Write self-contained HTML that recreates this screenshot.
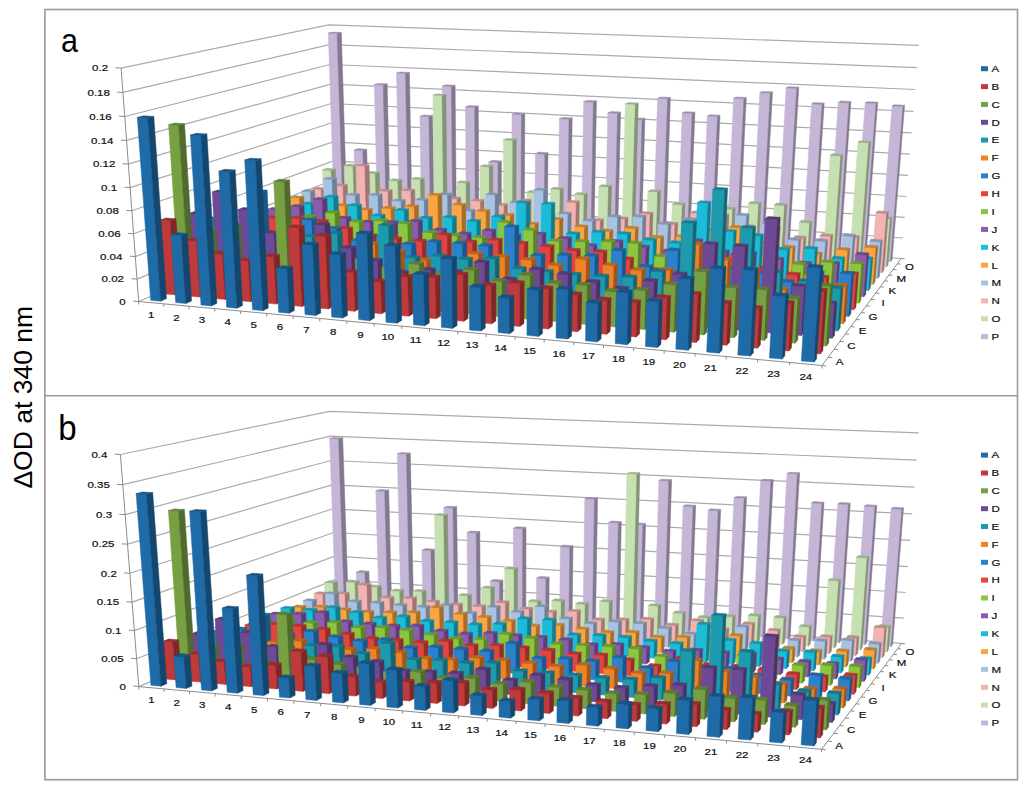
<!DOCTYPE html>
<html><head><meta charset="utf-8"><style>
html,body{margin:0;padding:0;background:#fff;}
svg{display:block;}
polygon{stroke-width:0.5;stroke-linejoin:round;}
text{font-family:"Liberation Sans",sans-serif;fill:#1a1a1a;}
.tl,.xl,.zl,.lg{font-size:9px;fill:#111;stroke:#111;stroke-width:0.2px;}
.pl{font-size:36px;fill:#000;}
.yt{font-size:25.6px;fill:#000;}
</style></head><body>
<svg width="1024" height="787" viewBox="0 0 1024 787">
<rect x="0" y="0" width="1024" height="787" fill="#fff"/>
<polyline points="138.7,301.5 335.3,217.1 901.2,258.5" fill="none" stroke="#ababab" stroke-width="1.2"/>
<polyline points="137.0,279.1 334.7,198.5 902.9,238.0" fill="none" stroke="#ababab" stroke-width="1.2"/>
<polyline points="135.3,256.6 334.1,179.8 904.6,217.3" fill="none" stroke="#ababab" stroke-width="1.2"/>
<polyline points="133.6,233.8 333.4,160.9 906.3,196.5" fill="none" stroke="#ababab" stroke-width="1.2"/>
<polyline points="131.8,210.8 332.8,141.9 908.1,175.4" fill="none" stroke="#ababab" stroke-width="1.2"/>
<polyline points="130.1,187.6 332.1,122.8 909.8,154.2" fill="none" stroke="#ababab" stroke-width="1.2"/>
<polyline points="128.3,164.1 331.5,103.5 911.6,132.9" fill="none" stroke="#ababab" stroke-width="1.2"/>
<polyline points="126.5,140.4 330.8,84.1 913.4,111.3" fill="none" stroke="#ababab" stroke-width="1.2"/>
<polyline points="124.7,116.5 330.1,64.5 915.2,89.5" fill="none" stroke="#ababab" stroke-width="1.2"/>
<polyline points="122.9,92.4 329.5,44.7 917.0,67.6" fill="none" stroke="#ababab" stroke-width="1.2"/>
<polyline points="121.1,68.1 328.8,24.8 918.8,45.4" fill="none" stroke="#ababab" stroke-width="1.2"/>
<line x1="138.7" y1="301.5" x2="121.1" y2="68.1" stroke="#8c8c8c" stroke-width="1"/>
<line x1="138.7" y1="301.5" x2="133.2" y2="301.0" stroke="#8c8c8c" stroke-width="1"/>
<text transform="translate(125.7,304.8) scale(1.28,1)" text-anchor="end" class="tl">0</text>
<line x1="137.0" y1="279.1" x2="131.5" y2="278.6" stroke="#8c8c8c" stroke-width="1"/>
<text transform="translate(124.0,282.4) scale(1.28,1)" text-anchor="end" class="tl">0.02</text>
<line x1="135.3" y1="256.6" x2="129.8" y2="256.1" stroke="#8c8c8c" stroke-width="1"/>
<text transform="translate(122.3,259.9) scale(1.28,1)" text-anchor="end" class="tl">0.04</text>
<line x1="133.6" y1="233.8" x2="128.0" y2="233.3" stroke="#8c8c8c" stroke-width="1"/>
<text transform="translate(120.6,237.1) scale(1.28,1)" text-anchor="end" class="tl">0.06</text>
<line x1="131.8" y1="210.8" x2="126.3" y2="210.4" stroke="#8c8c8c" stroke-width="1"/>
<text transform="translate(118.8,214.1) scale(1.28,1)" text-anchor="end" class="tl">0.08</text>
<line x1="130.1" y1="187.6" x2="124.5" y2="187.2" stroke="#8c8c8c" stroke-width="1"/>
<text transform="translate(117.1,190.9) scale(1.28,1)" text-anchor="end" class="tl">0.1</text>
<line x1="128.3" y1="164.1" x2="122.7" y2="163.7" stroke="#8c8c8c" stroke-width="1"/>
<text transform="translate(115.3,167.4) scale(1.28,1)" text-anchor="end" class="tl">0.12</text>
<line x1="126.5" y1="140.4" x2="120.9" y2="140.1" stroke="#8c8c8c" stroke-width="1"/>
<text transform="translate(113.5,143.7) scale(1.28,1)" text-anchor="end" class="tl">0.14</text>
<line x1="124.7" y1="116.5" x2="119.1" y2="116.2" stroke="#8c8c8c" stroke-width="1"/>
<text transform="translate(111.7,119.8) scale(1.28,1)" text-anchor="end" class="tl">0.16</text>
<line x1="122.9" y1="92.4" x2="117.2" y2="92.1" stroke="#8c8c8c" stroke-width="1"/>
<text transform="translate(109.9,95.7) scale(1.28,1)" text-anchor="end" class="tl">0.18</text>
<line x1="121.1" y1="68.1" x2="115.3" y2="67.8" stroke="#8c8c8c" stroke-width="1"/>
<text transform="translate(108.1,71.4) scale(1.28,1)" text-anchor="end" class="tl">0.2</text>
<line x1="138.7" y1="301.5" x2="822.0" y2="365.5" stroke="#8c8c8c" stroke-width="1"/>
<line x1="138.7" y1="301.5" x2="138.7" y2="304.5" stroke="#8c8c8c" stroke-width="1"/>
<line x1="163.8" y1="303.8" x2="163.8" y2="306.8" stroke="#8c8c8c" stroke-width="1"/>
<line x1="189.1" y1="306.2" x2="189.1" y2="309.2" stroke="#8c8c8c" stroke-width="1"/>
<line x1="214.7" y1="308.6" x2="214.7" y2="311.6" stroke="#8c8c8c" stroke-width="1"/>
<line x1="240.6" y1="311.0" x2="240.6" y2="314.0" stroke="#8c8c8c" stroke-width="1"/>
<line x1="266.7" y1="313.5" x2="266.7" y2="316.5" stroke="#8c8c8c" stroke-width="1"/>
<line x1="293.1" y1="316.0" x2="293.1" y2="319.0" stroke="#8c8c8c" stroke-width="1"/>
<line x1="319.8" y1="318.5" x2="319.8" y2="321.5" stroke="#8c8c8c" stroke-width="1"/>
<line x1="346.8" y1="321.0" x2="346.8" y2="324.0" stroke="#8c8c8c" stroke-width="1"/>
<line x1="374.1" y1="323.5" x2="374.1" y2="326.5" stroke="#8c8c8c" stroke-width="1"/>
<line x1="401.7" y1="326.1" x2="401.7" y2="329.1" stroke="#8c8c8c" stroke-width="1"/>
<line x1="429.5" y1="328.7" x2="429.5" y2="331.7" stroke="#8c8c8c" stroke-width="1"/>
<line x1="457.7" y1="331.4" x2="457.7" y2="334.4" stroke="#8c8c8c" stroke-width="1"/>
<line x1="486.2" y1="334.0" x2="486.2" y2="337.0" stroke="#8c8c8c" stroke-width="1"/>
<line x1="515.1" y1="336.7" x2="515.1" y2="339.7" stroke="#8c8c8c" stroke-width="1"/>
<line x1="544.2" y1="339.5" x2="544.2" y2="342.5" stroke="#8c8c8c" stroke-width="1"/>
<line x1="573.7" y1="342.2" x2="573.7" y2="345.2" stroke="#8c8c8c" stroke-width="1"/>
<line x1="603.5" y1="345.0" x2="603.5" y2="348.0" stroke="#8c8c8c" stroke-width="1"/>
<line x1="633.6" y1="347.9" x2="633.6" y2="350.9" stroke="#8c8c8c" stroke-width="1"/>
<line x1="664.1" y1="350.7" x2="664.1" y2="353.7" stroke="#8c8c8c" stroke-width="1"/>
<line x1="695.0" y1="353.6" x2="695.0" y2="356.6" stroke="#8c8c8c" stroke-width="1"/>
<line x1="726.2" y1="356.5" x2="726.2" y2="359.5" stroke="#8c8c8c" stroke-width="1"/>
<line x1="757.7" y1="359.5" x2="757.7" y2="362.5" stroke="#8c8c8c" stroke-width="1"/>
<line x1="789.7" y1="362.5" x2="789.7" y2="365.5" stroke="#8c8c8c" stroke-width="1"/>
<line x1="822.0" y1="365.5" x2="822.0" y2="368.5" stroke="#8c8c8c" stroke-width="1"/>
<text transform="translate(151.2,318.3) scale(1.28,1)" text-anchor="middle" class="xl">1</text>
<text transform="translate(176.4,320.6) scale(1.28,1)" text-anchor="middle" class="xl">2</text>
<text transform="translate(201.9,323.0) scale(1.28,1)" text-anchor="middle" class="xl">3</text>
<text transform="translate(227.6,325.4) scale(1.28,1)" text-anchor="middle" class="xl">4</text>
<text transform="translate(253.6,327.9) scale(1.28,1)" text-anchor="middle" class="xl">5</text>
<text transform="translate(279.9,330.3) scale(1.28,1)" text-anchor="middle" class="xl">6</text>
<text transform="translate(306.4,332.8) scale(1.28,1)" text-anchor="middle" class="xl">7</text>
<text transform="translate(333.3,335.3) scale(1.28,1)" text-anchor="middle" class="xl">8</text>
<text transform="translate(360.4,337.9) scale(1.28,1)" text-anchor="middle" class="xl">9</text>
<text transform="translate(387.8,340.4) scale(1.28,1)" text-anchor="middle" class="xl">10</text>
<text transform="translate(415.6,343.0) scale(1.28,1)" text-anchor="middle" class="xl">11</text>
<text transform="translate(443.6,345.7) scale(1.28,1)" text-anchor="middle" class="xl">12</text>
<text transform="translate(472.0,348.3) scale(1.28,1)" text-anchor="middle" class="xl">13</text>
<text transform="translate(500.6,351.0) scale(1.28,1)" text-anchor="middle" class="xl">14</text>
<text transform="translate(529.6,353.7) scale(1.28,1)" text-anchor="middle" class="xl">15</text>
<text transform="translate(558.9,356.5) scale(1.28,1)" text-anchor="middle" class="xl">16</text>
<text transform="translate(588.5,359.2) scale(1.28,1)" text-anchor="middle" class="xl">17</text>
<text transform="translate(618.5,362.0) scale(1.28,1)" text-anchor="middle" class="xl">18</text>
<text transform="translate(648.8,364.9) scale(1.28,1)" text-anchor="middle" class="xl">19</text>
<text transform="translate(679.5,367.7) scale(1.28,1)" text-anchor="middle" class="xl">20</text>
<text transform="translate(710.5,370.7) scale(1.28,1)" text-anchor="middle" class="xl">21</text>
<text transform="translate(741.9,373.6) scale(1.28,1)" text-anchor="middle" class="xl">22</text>
<text transform="translate(773.6,376.6) scale(1.28,1)" text-anchor="middle" class="xl">23</text>
<text transform="translate(805.8,379.6) scale(1.28,1)" text-anchor="middle" class="xl">24</text>
<line x1="822.0" y1="365.5" x2="901.2" y2="258.5" stroke="#8c8c8c" stroke-width="1"/>
<line x1="822.0" y1="365.5" x2="826.2" y2="365.9" stroke="#8c8c8c" stroke-width="1"/>
<line x1="828.1" y1="357.2" x2="832.3" y2="357.6" stroke="#8c8c8c" stroke-width="1"/>
<line x1="834.0" y1="349.2" x2="838.1" y2="349.6" stroke="#8c8c8c" stroke-width="1"/>
<line x1="839.8" y1="341.4" x2="843.8" y2="341.8" stroke="#8c8c8c" stroke-width="1"/>
<line x1="845.4" y1="333.9" x2="849.3" y2="334.2" stroke="#8c8c8c" stroke-width="1"/>
<line x1="850.8" y1="326.6" x2="854.7" y2="326.9" stroke="#8c8c8c" stroke-width="1"/>
<line x1="856.0" y1="319.5" x2="859.9" y2="319.8" stroke="#8c8c8c" stroke-width="1"/>
<line x1="861.1" y1="312.6" x2="864.9" y2="312.9" stroke="#8c8c8c" stroke-width="1"/>
<line x1="866.1" y1="305.9" x2="869.9" y2="306.2" stroke="#8c8c8c" stroke-width="1"/>
<line x1="870.9" y1="299.4" x2="874.6" y2="299.7" stroke="#8c8c8c" stroke-width="1"/>
<line x1="875.6" y1="293.0" x2="879.3" y2="293.3" stroke="#8c8c8c" stroke-width="1"/>
<line x1="880.1" y1="286.9" x2="883.8" y2="287.2" stroke="#8c8c8c" stroke-width="1"/>
<line x1="884.6" y1="280.9" x2="888.2" y2="281.2" stroke="#8c8c8c" stroke-width="1"/>
<line x1="888.9" y1="275.1" x2="892.4" y2="275.3" stroke="#8c8c8c" stroke-width="1"/>
<line x1="893.1" y1="269.4" x2="896.6" y2="269.6" stroke="#8c8c8c" stroke-width="1"/>
<line x1="897.2" y1="263.9" x2="900.6" y2="264.1" stroke="#8c8c8c" stroke-width="1"/>
<line x1="901.2" y1="258.5" x2="904.6" y2="258.7" stroke="#8c8c8c" stroke-width="1"/>
<text transform="translate(839.6,364.9) scale(1.28,1)" text-anchor="middle" class="zl">A</text>
<text transform="translate(851.4,348.9) scale(1.28,1)" text-anchor="middle" class="zl">C</text>
<text transform="translate(862.6,333.8) scale(1.28,1)" text-anchor="middle" class="zl">E</text>
<text transform="translate(873.1,319.6) scale(1.28,1)" text-anchor="middle" class="zl">G</text>
<text transform="translate(883.0,306.2) scale(1.28,1)" text-anchor="middle" class="zl">I</text>
<text transform="translate(892.4,293.5) scale(1.28,1)" text-anchor="middle" class="zl">K</text>
<text transform="translate(901.2,281.6) scale(1.28,1)" text-anchor="middle" class="zl">M</text>
<text transform="translate(909.6,270.2) scale(1.28,1)" text-anchor="middle" class="zl">O</text>
<g><polygon points="334.6,220.6 343.2,221.2 337.1,33.4 328.3,33.1" fill="#C5B6D8" stroke="#C5B6D8"/><polygon points="343.2,221.2 347.2,219.4 341.3,32.5 337.1,33.4" fill="#82788f" stroke="#82788f"/><polygon points="328.3,33.1 337.1,33.4 341.3,32.5 332.5,32.1" fill="#9a8ea8" stroke="#9a8ea8"/></g>
<g><polygon points="356.1,222.2 364.8,222.8 362.8,150.6 354.0,150.1" fill="#C5B6D8" stroke="#C5B6D8"/><polygon points="364.8,222.8 368.7,221.0 366.7,149.2 362.8,150.6" fill="#82788f" stroke="#82788f"/><polygon points="354.0,150.1 362.8,150.6 366.7,149.2 358.0,148.6" fill="#9a8ea8" stroke="#9a8ea8"/></g>
<g><polygon points="377.8,223.8 386.5,224.4 383.2,85.0 374.3,84.6" fill="#C5B6D8" stroke="#C5B6D8"/><polygon points="386.5,224.4 390.3,222.6 387.2,83.8 383.2,85.0" fill="#82788f" stroke="#82788f"/><polygon points="374.3,84.6 383.2,85.0 387.2,83.8 378.3,83.4" fill="#9a8ea8" stroke="#9a8ea8"/></g>
<g><polygon points="399.6,225.4 408.4,226.0 405.5,73.5 396.5,73.1" fill="#C5B6D8" stroke="#C5B6D8"/><polygon points="408.4,226.0 412.2,224.2 409.4,72.4 405.5,73.5" fill="#82788f" stroke="#82788f"/><polygon points="396.5,73.1 405.5,73.5 409.4,72.4 400.4,72.0" fill="#9a8ea8" stroke="#9a8ea8"/></g>
<g><polygon points="421.7,227.0 430.5,227.6 428.9,116.8 419.9,116.3" fill="#C5B6D8" stroke="#C5B6D8"/><polygon points="430.5,227.6 434.2,225.8 432.7,115.4 428.9,116.8" fill="#82788f" stroke="#82788f"/><polygon points="419.9,116.3 428.9,116.8 432.7,115.4 423.7,115.0" fill="#9a8ea8" stroke="#9a8ea8"/></g>
<g><polygon points="443.9,228.6 452.8,229.3 451.4,86.4 442.2,86.0" fill="#C5B6D8" stroke="#C5B6D8"/><polygon points="452.8,229.3 456.4,227.5 455.1,85.2 451.4,86.4" fill="#82788f" stroke="#82788f"/><polygon points="442.2,86.0 451.4,86.4 455.1,85.2 446.0,84.8" fill="#9a8ea8" stroke="#9a8ea8"/></g>
<g><polygon points="466.3,230.3 475.3,231.0 474.7,107.3 465.5,106.9" fill="#C5B6D8" stroke="#C5B6D8"/><polygon points="475.3,231.0 478.8,229.1 478.3,106.0 474.7,107.3" fill="#82788f" stroke="#82788f"/><polygon points="465.5,106.9 474.7,107.3 478.3,106.0 469.1,105.6" fill="#9a8ea8" stroke="#9a8ea8"/></g>
<g><polygon points="488.9,232.0 498.0,232.6 498.0,162.4 488.8,161.9" fill="#C5B6D8" stroke="#C5B6D8"/><polygon points="498.0,232.6 501.4,230.8 501.4,160.9 498.0,162.4" fill="#82788f" stroke="#82788f"/><polygon points="488.8,161.9 498.0,162.4 501.4,160.9 492.3,160.3" fill="#9a8ea8" stroke="#9a8ea8"/></g>
<g><polygon points="511.8,233.7 520.9,234.3 521.5,114.8 512.0,114.3" fill="#C5B6D8" stroke="#C5B6D8"/><polygon points="520.9,234.3 524.2,232.5 524.8,113.4 521.5,114.8" fill="#82788f" stroke="#82788f"/><polygon points="512.0,114.3 521.5,114.8 524.8,113.4 515.5,113.0" fill="#9a8ea8" stroke="#9a8ea8"/></g>
<g><polygon points="534.8,235.4 544.0,236.0 544.8,154.2 535.4,153.7" fill="#C5B6D8" stroke="#C5B6D8"/><polygon points="544.0,236.0 547.2,234.1 548.0,152.7 544.8,154.2" fill="#82788f" stroke="#82788f"/><polygon points="535.4,153.7 544.8,154.2 548.0,152.7 538.6,152.1" fill="#9a8ea8" stroke="#9a8ea8"/></g>
<g><polygon points="558.0,237.1 567.4,237.8 569.0,119.2 559.4,118.7" fill="#C5B6D8" stroke="#C5B6D8"/><polygon points="567.4,237.8 570.5,235.8 572.2,117.8 569.0,119.2" fill="#82788f" stroke="#82788f"/><polygon points="559.4,118.7 569.0,119.2 572.2,117.8 562.6,117.4" fill="#9a8ea8" stroke="#9a8ea8"/></g>
<g><polygon points="581.4,238.8 590.9,239.5 593.4,102.1 583.7,101.7" fill="#C5B6D8" stroke="#C5B6D8"/><polygon points="590.9,239.5 593.9,237.6 596.5,100.8 593.4,102.1" fill="#82788f" stroke="#82788f"/><polygon points="583.7,101.7 593.4,102.1 596.5,100.8 586.9,100.4" fill="#9a8ea8" stroke="#9a8ea8"/></g>
<g><polygon points="605.1,240.5 614.6,241.3 617.6,113.4 607.8,112.9" fill="#C5B6D8" stroke="#C5B6D8"/><polygon points="614.6,241.3 617.5,239.3 620.6,112.0 617.6,113.4" fill="#82788f" stroke="#82788f"/><polygon points="607.8,112.9 617.6,113.4 620.6,112.0 610.8,111.6" fill="#9a8ea8" stroke="#9a8ea8"/></g>
<g><polygon points="628.9,242.3 638.6,243.0 642.1,119.7 632.2,119.2" fill="#C5B6D8" stroke="#C5B6D8"/><polygon points="638.6,243.0 641.3,241.1 644.9,118.3 642.1,119.7" fill="#82788f" stroke="#82788f"/><polygon points="632.2,119.2 642.1,119.7 644.9,118.3 635.1,117.9" fill="#9a8ea8" stroke="#9a8ea8"/></g>
<g><polygon points="653.0,244.1 662.7,244.8 667.6,98.7 657.6,98.3" fill="#C5B6D8" stroke="#C5B6D8"/><polygon points="662.7,244.8 665.4,242.8 670.4,97.4 667.6,98.7" fill="#82788f" stroke="#82788f"/><polygon points="657.6,98.3 667.6,98.7 670.4,97.4 660.4,97.0" fill="#9a8ea8" stroke="#9a8ea8"/></g>
<g><polygon points="677.3,245.9 687.1,246.6 692.2,113.5 682.2,113.0" fill="#C5B6D8" stroke="#C5B6D8"/><polygon points="687.1,246.6 689.7,244.6 694.9,112.1 692.2,113.5" fill="#82788f" stroke="#82788f"/><polygon points="682.2,113.0 692.2,113.5 694.9,112.1 684.8,111.7" fill="#9a8ea8" stroke="#9a8ea8"/></g>
<g><polygon points="701.8,247.7 711.7,248.4 717.5,116.6 707.3,116.1" fill="#C5B6D8" stroke="#C5B6D8"/><polygon points="711.7,248.4 714.2,246.4 720.0,115.2 717.5,116.6" fill="#82788f" stroke="#82788f"/><polygon points="707.3,116.1 717.5,116.6 720.0,115.2 709.9,114.8" fill="#9a8ea8" stroke="#9a8ea8"/></g>
<g><polygon points="726.6,249.5 736.5,250.3 743.9,98.8 733.6,98.3" fill="#C5B6D8" stroke="#C5B6D8"/><polygon points="736.5,250.3 738.9,248.2 746.3,97.4 743.9,98.8" fill="#82788f" stroke="#82788f"/><polygon points="733.6,98.3 743.9,98.8 746.3,97.4 736.1,97.0" fill="#9a8ea8" stroke="#9a8ea8"/></g>
<g><polygon points="751.5,251.4 761.6,252.1 770.2,93.1 759.8,92.7" fill="#C5B6D8" stroke="#C5B6D8"/><polygon points="761.6,252.1 763.8,250.1 772.5,91.8 770.2,93.1" fill="#82788f" stroke="#82788f"/><polygon points="759.8,92.7 770.2,93.1 772.5,91.8 762.1,91.4" fill="#9a8ea8" stroke="#9a8ea8"/></g>
<g><polygon points="776.7,253.2 786.9,254.0 796.7,88.4 786.2,88.0" fill="#C5B6D8" stroke="#C5B6D8"/><polygon points="786.9,254.0 789.0,251.9 798.8,87.1 796.7,88.4" fill="#82788f" stroke="#82788f"/><polygon points="786.2,88.0 796.7,88.4 798.8,87.1 788.4,86.7" fill="#9a8ea8" stroke="#9a8ea8"/></g>
<g><polygon points="802.2,255.1 812.4,255.9 822.2,104.4 811.6,103.9" fill="#C5B6D8" stroke="#C5B6D8"/><polygon points="812.4,255.9 814.4,253.8 824.2,103.0 822.2,104.4" fill="#82788f" stroke="#82788f"/><polygon points="811.6,103.9 822.2,104.4 824.2,103.0 813.7,102.6" fill="#9a8ea8" stroke="#9a8ea8"/></g>
<g><polygon points="827.9,257.0 838.2,257.8 849.0,102.9 838.3,102.4" fill="#C5B6D8" stroke="#C5B6D8"/><polygon points="838.2,257.8 840.1,255.7 850.9,101.5 849.0,102.9" fill="#82788f" stroke="#82788f"/><polygon points="838.3,102.4 849.0,102.9 850.9,101.5 840.3,101.0" fill="#9a8ea8" stroke="#9a8ea8"/></g>
<g><polygon points="853.8,258.9 864.2,259.7 876.0,103.5 865.2,103.0" fill="#C5B6D8" stroke="#C5B6D8"/><polygon points="864.2,259.7 866.0,257.6 877.7,102.1 876.0,103.5" fill="#82788f" stroke="#82788f"/><polygon points="865.2,103.0 876.0,103.5 877.7,102.1 867.0,101.7" fill="#9a8ea8" stroke="#9a8ea8"/></g>
<g><polygon points="879.9,260.9 890.5,261.6 903.0,106.6 892.1,106.1" fill="#C5B6D8" stroke="#C5B6D8"/><polygon points="890.5,261.6 892.1,259.5 904.6,105.2 903.0,106.6" fill="#82788f" stroke="#82788f"/><polygon points="892.1,106.1 903.0,106.6 904.6,105.2 893.8,104.8" fill="#9a8ea8" stroke="#9a8ea8"/></g>
<g><polygon points="324.4,225.0 333.0,225.7 331.1,170.4 322.4,169.9" fill="#C6E0B2" stroke="#C6E0B2"/><polygon points="333.0,225.7 337.1,223.9 335.3,168.9 331.1,170.4" fill="#839475" stroke="#839475"/><polygon points="322.4,169.9 331.1,170.4 335.3,168.9 326.6,168.3" fill="#9aaf8b" stroke="#9aaf8b"/></g>
<g><polygon points="346.1,226.6 354.8,227.3 353.0,166.2 344.1,165.7" fill="#C6E0B2" stroke="#C6E0B2"/><polygon points="354.8,227.3 358.8,225.5 357.0,164.7 353.0,166.2" fill="#839475" stroke="#839475"/><polygon points="344.1,165.7 353.0,166.2 357.0,164.7 348.2,164.1" fill="#9aaf8b" stroke="#9aaf8b"/></g>
<g><polygon points="367.9,228.3 376.8,228.9 375.3,173.7 366.4,173.1" fill="#C6E0B2" stroke="#C6E0B2"/><polygon points="376.8,228.9 380.7,227.1 379.3,172.1 375.3,173.7" fill="#839475" stroke="#839475"/><polygon points="366.4,173.1 375.3,173.7 379.3,172.1 370.5,171.5" fill="#9aaf8b" stroke="#9aaf8b"/></g>
<g><polygon points="390.0,229.9 398.9,230.6 397.9,181.0 388.9,180.4" fill="#C6E0B2" stroke="#C6E0B2"/><polygon points="398.9,230.6 402.7,228.7 401.7,179.4 397.9,181.0" fill="#839475" stroke="#839475"/><polygon points="388.9,180.4 397.9,181.0 401.7,179.4 392.8,178.8" fill="#9aaf8b" stroke="#9aaf8b"/></g>
<g><polygon points="412.3,231.6 421.2,232.3 420.4,179.5 411.3,178.9" fill="#C6E0B2" stroke="#C6E0B2"/><polygon points="421.2,232.3 425.0,230.4 424.2,177.9 420.4,179.5" fill="#839475" stroke="#839475"/><polygon points="411.3,178.9 420.4,179.5 424.2,177.9 415.1,177.3" fill="#9aaf8b" stroke="#9aaf8b"/></g>
<g><polygon points="434.7,233.3 443.8,233.9 442.1,95.6 432.9,95.1" fill="#C6E0B2" stroke="#C6E0B2"/><polygon points="443.8,233.9 447.4,232.1 445.9,94.3 442.1,95.6" fill="#839475" stroke="#839475"/><polygon points="432.9,95.1 442.1,95.6 445.9,94.3 436.7,93.9" fill="#9aaf8b" stroke="#9aaf8b"/></g>
<g><polygon points="457.4,235.0 466.5,235.7 466.1,183.1 456.9,182.5" fill="#C6E0B2" stroke="#C6E0B2"/><polygon points="466.5,235.7 470.1,233.8 469.7,181.4 466.1,183.1" fill="#839475" stroke="#839475"/><polygon points="456.9,182.5 466.1,183.1 469.7,181.4 460.6,180.8" fill="#9aaf8b" stroke="#9aaf8b"/></g>
<g><polygon points="480.2,236.7 489.4,237.4 489.3,166.9 479.9,166.3" fill="#C6E0B2" stroke="#C6E0B2"/><polygon points="489.4,237.4 492.9,235.5 492.8,165.3 489.3,166.9" fill="#839475" stroke="#839475"/><polygon points="479.9,166.3 489.3,166.9 492.8,165.3 483.5,164.7" fill="#9aaf8b" stroke="#9aaf8b"/></g>
<g><polygon points="503.3,238.4 512.6,239.1 512.8,140.4 503.4,139.9" fill="#C6E0B2" stroke="#C6E0B2"/><polygon points="512.6,239.1 515.9,237.2 516.3,139.0 512.8,140.4" fill="#839475" stroke="#839475"/><polygon points="503.4,139.9 512.8,140.4 516.3,139.0 506.8,138.4" fill="#9aaf8b" stroke="#9aaf8b"/></g>
<g><polygon points="526.6,240.2 535.9,240.9 536.3,192.8 526.8,192.2" fill="#C6E0B2" stroke="#C6E0B2"/><polygon points="535.9,240.9 539.2,238.9 539.6,191.1 536.3,192.8" fill="#839475" stroke="#839475"/><polygon points="526.8,192.2 536.3,192.8 539.6,191.1 530.2,190.5" fill="#9aaf8b" stroke="#9aaf8b"/></g>
<g><polygon points="550.0,241.9 559.5,242.6 560.1,189.6 550.6,189.0" fill="#C6E0B2" stroke="#C6E0B2"/><polygon points="559.5,242.6 562.7,240.7 563.3,187.9 560.1,189.6" fill="#839475" stroke="#839475"/><polygon points="550.6,189.0 560.1,189.6 563.3,187.9 553.8,187.3" fill="#9aaf8b" stroke="#9aaf8b"/></g>
<g><polygon points="573.7,243.7 583.3,244.4 584.1,195.0 574.5,194.3" fill="#C6E0B2" stroke="#C6E0B2"/><polygon points="583.3,244.4 586.3,242.4 587.2,193.2 584.1,195.0" fill="#839475" stroke="#839475"/><polygon points="574.5,194.3 584.1,195.0 587.2,193.2 577.6,192.6" fill="#9aaf8b" stroke="#9aaf8b"/></g>
<g><polygon points="597.6,245.5 607.2,246.2 608.5,187.0 598.8,186.4" fill="#C6E0B2" stroke="#C6E0B2"/><polygon points="607.2,246.2 610.2,244.2 611.5,185.3 608.5,187.0" fill="#839475" stroke="#839475"/><polygon points="598.8,186.4 608.5,187.0 611.5,185.3 601.8,184.7" fill="#9aaf8b" stroke="#9aaf8b"/></g>
<g><polygon points="621.7,247.3 631.4,248.0 635.3,104.4 625.3,103.9" fill="#C6E0B2" stroke="#C6E0B2"/><polygon points="631.4,248.0 634.3,246.0 638.3,103.0 635.3,104.4" fill="#839475" stroke="#839475"/><polygon points="625.3,103.9 635.3,104.4 638.3,103.0 628.3,102.6" fill="#9aaf8b" stroke="#9aaf8b"/></g>
<g><polygon points="646.1,249.1 655.9,249.8 657.7,192.1 647.8,191.4" fill="#C6E0B2" stroke="#C6E0B2"/><polygon points="655.9,249.8 658.6,247.8 660.5,190.3 657.7,192.1" fill="#839475" stroke="#839475"/><polygon points="647.8,191.4 657.7,192.1 660.5,190.3 650.6,189.7" fill="#9aaf8b" stroke="#9aaf8b"/></g>
<g><polygon points="670.6,250.9 680.5,251.7 682.3,205.0 672.3,204.3" fill="#C6E0B2" stroke="#C6E0B2"/><polygon points="680.5,251.7 683.2,249.6 684.9,203.1 682.3,205.0" fill="#839475" stroke="#839475"/><polygon points="672.3,204.3 682.3,205.0 684.9,203.1 675.0,202.5" fill="#9aaf8b" stroke="#9aaf8b"/></g>
<g><polygon points="695.4,252.8 705.4,253.6 707.3,209.2 697.2,208.5" fill="#C6E0B2" stroke="#C6E0B2"/><polygon points="705.4,253.6 708.0,251.5 709.8,207.3 707.3,209.2" fill="#839475" stroke="#839475"/><polygon points="697.2,208.5 707.3,209.2 709.8,207.3 699.8,206.7" fill="#9aaf8b" stroke="#9aaf8b"/></g>
<g><polygon points="720.5,254.7 730.5,255.4 732.7,209.4 722.6,208.7" fill="#C6E0B2" stroke="#C6E0B2"/><polygon points="730.5,255.4 733.0,253.4 735.2,207.5 732.7,209.4" fill="#839475" stroke="#839475"/><polygon points="722.6,208.7 732.7,209.4 735.2,207.5 725.0,206.9" fill="#9aaf8b" stroke="#9aaf8b"/></g>
<g><polygon points="745.7,256.6 755.9,257.3 758.7,204.1 748.4,203.4" fill="#C6E0B2" stroke="#C6E0B2"/><polygon points="755.9,257.3 758.2,255.2 761.0,202.2 758.7,204.1" fill="#839475" stroke="#839475"/><polygon points="748.4,203.4 758.7,204.1 761.0,202.2 750.8,201.6" fill="#9aaf8b" stroke="#9aaf8b"/></g>
<g><polygon points="771.2,258.5 781.5,259.3 784.6,205.6 774.2,204.9" fill="#C6E0B2" stroke="#C6E0B2"/><polygon points="781.5,259.3 783.7,257.1 786.8,203.7 784.6,205.6" fill="#839475" stroke="#839475"/><polygon points="774.2,204.9 784.6,205.6 786.8,203.7 776.5,203.1" fill="#9aaf8b" stroke="#9aaf8b"/></g>
<g><polygon points="797.0,260.4 807.3,261.2 809.7,222.9 799.3,222.2" fill="#C6E0B2" stroke="#C6E0B2"/><polygon points="807.3,261.2 809.4,259.0 811.8,221.0 809.7,222.9" fill="#839475" stroke="#839475"/><polygon points="799.3,222.2 809.7,222.9 811.8,221.0 801.4,220.2" fill="#9aaf8b" stroke="#9aaf8b"/></g>
<g><polygon points="822.9,262.4 833.4,263.1 840.8,155.9 830.1,155.4" fill="#C6E0B2" stroke="#C6E0B2"/><polygon points="833.4,263.1 835.3,261.0 842.7,154.3 840.8,155.9" fill="#839475" stroke="#839475"/><polygon points="830.1,155.4 840.8,155.9 842.7,154.3 832.1,153.7" fill="#9aaf8b" stroke="#9aaf8b"/></g>
<g><polygon points="849.2,264.3 859.7,265.1 868.8,142.9 858.0,142.3" fill="#C6E0B2" stroke="#C6E0B2"/><polygon points="859.7,265.1 861.5,262.9 870.6,141.3 868.8,142.9" fill="#839475" stroke="#839475"/><polygon points="858.0,142.3 868.8,142.9 870.6,141.3 859.8,140.7" fill="#9aaf8b" stroke="#9aaf8b"/></g>
<g><polygon points="875.6,266.3 886.3,267.1 890.2,218.9 879.4,218.2" fill="#C6E0B2" stroke="#C6E0B2"/><polygon points="886.3,267.1 888.0,264.9 891.8,217.0 890.2,218.9" fill="#839475" stroke="#839475"/><polygon points="879.4,218.2 890.2,218.9 891.8,217.0 881.1,216.2" fill="#9aaf8b" stroke="#9aaf8b"/></g>
<g><polygon points="313.9,229.6 322.6,230.2 321.1,189.5 312.3,188.9" fill="#F2B3B1" stroke="#F2B3B1"/><polygon points="322.6,230.2 326.8,228.4 325.4,187.8 321.1,189.5" fill="#a07675" stroke="#a07675"/><polygon points="312.3,188.9 321.1,189.5 325.4,187.8 316.6,187.2" fill="#bd8c8a" stroke="#bd8c8a"/></g>
<g><polygon points="335.8,231.2 344.6,231.9 343.1,186.0 334.2,185.5" fill="#F2B3B1" stroke="#F2B3B1"/><polygon points="344.6,231.9 348.7,230.0 347.3,184.4 343.1,186.0" fill="#a07675" stroke="#a07675"/><polygon points="334.2,185.5 343.1,186.0 347.3,184.4 338.4,183.8" fill="#bd8c8a" stroke="#bd8c8a"/></g>
<g><polygon points="357.9,232.9 366.8,233.6 364.9,166.3 355.9,165.7" fill="#F2B3B1" stroke="#F2B3B1"/><polygon points="366.8,233.6 370.8,231.7 369.0,164.7 364.9,166.3" fill="#a07675" stroke="#a07675"/><polygon points="355.9,165.7 364.9,166.3 369.0,164.7 360.0,164.1" fill="#bd8c8a" stroke="#bd8c8a"/></g>
<g><polygon points="380.2,234.6 389.1,235.3 388.1,191.4 379.1,190.8" fill="#F2B3B1" stroke="#F2B3B1"/><polygon points="389.1,235.3 393.1,233.4 392.1,189.7 388.1,191.4" fill="#a07675" stroke="#a07675"/><polygon points="379.1,190.8 388.1,191.4 392.1,189.7 383.1,189.1" fill="#bd8c8a" stroke="#bd8c8a"/></g>
<g><polygon points="402.6,236.3 411.7,237.0 410.9,191.0 401.7,190.4" fill="#F2B3B1" stroke="#F2B3B1"/><polygon points="411.7,237.0 415.5,235.1 414.7,189.3 410.9,191.0" fill="#a07675" stroke="#a07675"/><polygon points="401.7,190.4 410.9,191.0 414.7,189.3 405.6,188.7" fill="#bd8c8a" stroke="#bd8c8a"/></g>
<g><polygon points="425.3,238.0 434.5,238.7 434.0,203.5 424.8,202.8" fill="#F2B3B1" stroke="#F2B3B1"/><polygon points="434.5,238.7 438.2,236.8 437.8,201.7 434.0,203.5" fill="#a07675" stroke="#a07675"/><polygon points="424.8,202.8 434.0,203.5 437.8,201.7 428.6,201.1" fill="#bd8c8a" stroke="#bd8c8a"/></g>
<g><polygon points="448.2,239.8 457.4,240.5 457.1,199.0 447.8,198.3" fill="#F2B3B1" stroke="#F2B3B1"/><polygon points="457.4,240.5 461.1,238.5 460.7,197.2 457.1,199.0" fill="#a07675" stroke="#a07675"/><polygon points="447.8,198.3 457.1,199.0 460.7,197.2 451.5,196.6" fill="#bd8c8a" stroke="#bd8c8a"/></g>
<g><polygon points="471.3,241.5 480.6,242.2 480.4,201.3 471.1,200.6" fill="#F2B3B1" stroke="#F2B3B1"/><polygon points="480.6,242.2 484.2,240.3 484.0,199.5 480.4,201.3" fill="#a07675" stroke="#a07675"/><polygon points="471.1,200.6 480.4,201.3 484.0,199.5 474.7,198.9" fill="#bd8c8a" stroke="#bd8c8a"/></g>
<g><polygon points="494.6,243.3 504.0,244.0 504.0,205.6 494.6,205.0" fill="#F2B3B1" stroke="#F2B3B1"/><polygon points="504.0,244.0 507.4,242.0 507.5,203.8 504.0,205.6" fill="#a07675" stroke="#a07675"/><polygon points="494.6,205.0 504.0,205.6 507.5,203.8 498.1,203.2" fill="#bd8c8a" stroke="#bd8c8a"/></g>
<g><polygon points="518.1,245.1 527.6,245.8 527.8,201.1 518.3,200.5" fill="#F2B3B1" stroke="#F2B3B1"/><polygon points="527.6,245.8 530.9,243.8 531.2,199.3 527.8,201.1" fill="#a07675" stroke="#a07675"/><polygon points="518.3,200.5 527.8,201.1 531.2,199.3 521.7,198.7" fill="#bd8c8a" stroke="#bd8c8a"/></g>
<g><polygon points="541.9,246.9 551.4,247.6 551.7,215.1 542.1,214.4" fill="#F2B3B1" stroke="#F2B3B1"/><polygon points="551.4,247.6 554.7,245.6 555.0,213.2 551.7,215.1" fill="#a07675" stroke="#a07675"/><polygon points="542.1,214.4 551.7,215.1 555.0,213.2 545.4,212.5" fill="#bd8c8a" stroke="#bd8c8a"/></g>
<g><polygon points="565.8,248.7 575.4,249.4 576.2,202.7 566.4,202.1" fill="#F2B3B1" stroke="#F2B3B1"/><polygon points="575.4,249.4 578.6,247.4 579.3,200.9 576.2,202.7" fill="#a07675" stroke="#a07675"/><polygon points="566.4,202.1 576.2,202.7 579.3,200.9 569.6,200.3" fill="#bd8c8a" stroke="#bd8c8a"/></g>
<g><polygon points="590.0,250.5 599.7,251.3 600.3,220.8 590.5,220.2" fill="#F2B3B1" stroke="#F2B3B1"/><polygon points="599.7,251.3 602.7,249.2 603.4,218.9 600.3,220.8" fill="#a07675" stroke="#a07675"/><polygon points="590.5,220.2 600.3,220.8 603.4,218.9 593.6,218.3" fill="#bd8c8a" stroke="#bd8c8a"/></g>
<g><polygon points="614.3,252.4 624.2,253.1 625.0,219.1 615.1,218.5" fill="#F2B3B1" stroke="#F2B3B1"/><polygon points="624.2,253.1 627.1,251.1 628.0,217.2 625.0,219.1" fill="#a07675" stroke="#a07675"/><polygon points="615.1,218.5 625.0,219.1 628.0,217.2 618.1,216.6" fill="#bd8c8a" stroke="#bd8c8a"/></g>
<g><polygon points="639.0,254.3 648.9,255.0 650.1,214.1 640.1,213.4" fill="#F2B3B1" stroke="#F2B3B1"/><polygon points="648.9,255.0 651.7,252.9 653.0,212.2 650.1,214.1" fill="#a07675" stroke="#a07675"/><polygon points="640.1,213.4 650.1,214.1 653.0,212.2 643.0,211.6" fill="#bd8c8a" stroke="#bd8c8a"/></g>
<g><polygon points="663.8,256.1 673.8,256.9 675.0,224.6 664.9,223.9" fill="#F2B3B1" stroke="#F2B3B1"/><polygon points="673.8,256.9 676.5,254.8 677.7,222.6 675.0,224.6" fill="#a07675" stroke="#a07675"/><polygon points="664.9,223.9 675.0,224.6 677.7,222.6 667.7,222.0" fill="#bd8c8a" stroke="#bd8c8a"/></g>
<g><polygon points="688.9,258.0 699.0,258.8 700.8,213.5 690.7,212.8" fill="#F2B3B1" stroke="#F2B3B1"/><polygon points="699.0,258.8 701.6,256.7 703.5,211.6 700.8,213.5" fill="#a07675" stroke="#a07675"/><polygon points="690.7,212.8 700.8,213.5 703.5,211.6 693.3,210.9" fill="#bd8c8a" stroke="#bd8c8a"/></g>
<g><polygon points="714.2,260.0 724.4,260.7 726.5,216.0 716.2,215.3" fill="#F2B3B1" stroke="#F2B3B1"/><polygon points="724.4,260.7 726.9,258.6 729.0,214.1 726.5,216.0" fill="#a07675" stroke="#a07675"/><polygon points="716.2,215.3 726.5,216.0 729.0,214.1 718.7,213.4" fill="#bd8c8a" stroke="#bd8c8a"/></g>
<g><polygon points="739.8,261.9 750.0,262.7 751.9,227.0 741.5,226.3" fill="#F2B3B1" stroke="#F2B3B1"/><polygon points="750.0,262.7 752.4,260.5 754.3,225.1 751.9,227.0" fill="#a07675" stroke="#a07675"/><polygon points="741.5,226.3 751.9,227.0 754.3,225.1 743.9,224.3" fill="#bd8c8a" stroke="#bd8c8a"/></g>
<g><polygon points="765.5,263.9 775.9,264.7 778.0,227.9 767.6,227.1" fill="#F2B3B1" stroke="#F2B3B1"/><polygon points="775.9,264.7 778.2,262.5 780.3,225.9 778.0,227.9" fill="#a07675" stroke="#a07675"/><polygon points="767.6,227.1 778.0,227.9 780.3,225.9 769.9,225.2" fill="#bd8c8a" stroke="#bd8c8a"/></g>
<g><polygon points="791.6,265.9 802.1,266.7 803.8,238.4 793.3,237.7" fill="#F2B3B1" stroke="#F2B3B1"/><polygon points="802.1,266.7 804.2,264.4 806.0,236.4 803.8,238.4" fill="#a07675" stroke="#a07675"/><polygon points="793.3,237.7 803.8,238.4 806.0,236.4 795.5,235.6" fill="#bd8c8a" stroke="#bd8c8a"/></g>
<g><polygon points="817.9,267.9 828.5,268.7 830.7,236.4 820.0,235.7" fill="#F2B3B1" stroke="#F2B3B1"/><polygon points="828.5,268.7 830.5,266.4 832.7,234.4 830.7,236.4" fill="#a07675" stroke="#a07675"/><polygon points="820.0,235.7 830.7,236.4 832.7,234.4 822.0,233.6" fill="#bd8c8a" stroke="#bd8c8a"/></g>
<g><polygon points="844.4,269.9 855.1,270.7 857.5,237.9 846.8,237.1" fill="#F2B3B1" stroke="#F2B3B1"/><polygon points="855.1,270.7 857.0,268.4 859.4,235.8 857.5,237.9" fill="#a07675" stroke="#a07675"/><polygon points="846.8,237.1 857.5,237.9 859.4,235.8 848.7,235.0" fill="#bd8c8a" stroke="#bd8c8a"/></g>
<g><polygon points="871.2,271.9 882.0,272.7 886.7,213.6 875.8,212.9" fill="#F2B3B1" stroke="#F2B3B1"/><polygon points="882.0,272.7 883.8,270.5 888.4,211.6 886.7,213.6" fill="#a07675" stroke="#a07675"/><polygon points="875.8,212.9 886.7,213.6 888.4,211.6 877.6,210.9" fill="#bd8c8a" stroke="#bd8c8a"/></g>
<g><polygon points="303.1,234.2 312.0,234.9 310.3,191.8 301.4,191.2" fill="#A8C2E4" stroke="#A8C2E4"/><polygon points="312.0,234.9 316.3,233.0 314.6,190.1 310.3,191.8" fill="#6f8096" stroke="#6f8096"/><polygon points="301.4,191.2 310.3,191.8 314.6,190.1 305.8,189.5" fill="#8397b2" stroke="#8397b2"/></g>
<g><polygon points="325.3,235.9 334.2,236.6 332.2,179.5 323.2,178.9" fill="#A8C2E4" stroke="#A8C2E4"/><polygon points="334.2,236.6 338.4,234.7 336.5,177.9 332.2,179.5" fill="#6f8096" stroke="#6f8096"/><polygon points="323.2,178.9 332.2,179.5 336.5,177.9 327.5,177.3" fill="#8397b2" stroke="#8397b2"/></g>
<g><polygon points="347.6,237.6 356.5,238.3 355.3,195.5 346.2,194.9" fill="#A8C2E4" stroke="#A8C2E4"/><polygon points="356.5,238.3 360.7,236.4 359.4,193.8 355.3,195.5" fill="#6f8096" stroke="#6f8096"/><polygon points="346.2,194.9 355.3,195.5 359.4,193.8 350.4,193.2" fill="#8397b2" stroke="#8397b2"/></g>
<g><polygon points="370.1,239.4 379.1,240.1 378.0,195.5 368.9,194.9" fill="#A8C2E4" stroke="#A8C2E4"/><polygon points="379.1,240.1 383.2,238.1 382.1,193.8 378.0,195.5" fill="#6f8096" stroke="#6f8096"/><polygon points="368.9,194.9 378.0,195.5 382.1,193.8 373.0,193.2" fill="#8397b2" stroke="#8397b2"/></g>
<g><polygon points="392.8,241.1 401.9,241.8 401.1,201.3 391.9,200.6" fill="#A8C2E4" stroke="#A8C2E4"/><polygon points="401.9,241.8 405.9,239.9 405.1,199.5 401.1,201.3" fill="#6f8096" stroke="#6f8096"/><polygon points="391.9,200.6 401.1,201.3 405.1,199.5 395.9,198.9" fill="#8397b2" stroke="#8397b2"/></g>
<g><polygon points="415.7,242.9 424.9,243.6 424.3,200.5 415.0,199.8" fill="#A8C2E4" stroke="#A8C2E4"/><polygon points="424.9,243.6 428.8,241.6 428.1,198.7 424.3,200.5" fill="#6f8096" stroke="#6f8096"/><polygon points="415.0,199.8 424.3,200.5 428.1,198.7 418.9,198.1" fill="#8397b2" stroke="#8397b2"/></g>
<g><polygon points="438.8,244.7 448.1,245.4 447.6,195.0 438.2,194.3" fill="#A8C2E4" stroke="#A8C2E4"/><polygon points="448.1,245.4 451.9,243.4 451.4,193.2 447.6,195.0" fill="#6f8096" stroke="#6f8096"/><polygon points="438.2,194.3 447.6,195.0 451.4,193.2 442.0,192.6" fill="#8397b2" stroke="#8397b2"/></g>
<g><polygon points="462.2,246.5 471.6,247.2 471.3,211.2 461.9,210.5" fill="#A8C2E4" stroke="#A8C2E4"/><polygon points="471.6,247.2 475.2,245.2 475.0,209.3 471.3,211.2" fill="#6f8096" stroke="#6f8096"/><polygon points="461.9,210.5 471.3,211.2 475.0,209.3 465.6,208.7" fill="#8397b2" stroke="#8397b2"/></g>
<g><polygon points="485.7,248.3 495.2,249.0 495.1,195.0 485.6,194.4" fill="#A8C2E4" stroke="#A8C2E4"/><polygon points="495.2,249.0 498.7,247.0 498.7,193.2 495.1,195.0" fill="#6f8096" stroke="#6f8096"/><polygon points="485.6,194.4 495.1,195.0 498.7,193.2 489.2,192.6" fill="#8397b2" stroke="#8397b2"/></g>
<g><polygon points="509.5,250.1 519.1,250.9 519.2,202.7 509.6,202.1" fill="#A8C2E4" stroke="#A8C2E4"/><polygon points="519.1,250.9 522.5,248.8 522.7,200.9 519.2,202.7" fill="#6f8096" stroke="#6f8096"/><polygon points="509.6,202.1 519.2,202.7 522.7,200.9 513.1,200.3" fill="#8397b2" stroke="#8397b2"/></g>
<g><polygon points="533.5,252.0 543.1,252.7 543.7,190.6 533.9,189.9" fill="#A8C2E4" stroke="#A8C2E4"/><polygon points="543.1,252.7 546.5,250.7 547.1,188.8 543.7,190.6" fill="#6f8096" stroke="#6f8096"/><polygon points="533.9,189.9 543.7,190.6 547.1,188.8 537.3,188.2" fill="#8397b2" stroke="#8397b2"/></g>
<g><polygon points="557.7,253.8 567.4,254.6 568.0,214.2 558.2,213.5" fill="#A8C2E4" stroke="#A8C2E4"/><polygon points="567.4,254.6 570.7,252.5 571.2,212.3 568.0,214.2" fill="#6f8096" stroke="#6f8096"/><polygon points="558.2,213.5 568.0,214.2 571.2,212.3 561.5,211.7" fill="#8397b2" stroke="#8397b2"/></g>
<g><polygon points="582.1,255.7 591.9,256.5 592.6,221.3 582.7,220.6" fill="#A8C2E4" stroke="#A8C2E4"/><polygon points="591.9,256.5 595.1,254.4 595.8,219.3 592.6,221.3" fill="#6f8096" stroke="#6f8096"/><polygon points="582.7,220.6 592.6,221.3 595.8,219.3 585.9,218.7" fill="#8397b2" stroke="#8397b2"/></g>
<g><polygon points="606.8,257.6 616.7,258.4 617.7,217.3 607.7,216.6" fill="#A8C2E4" stroke="#A8C2E4"/><polygon points="616.7,258.4 619.7,256.3 620.7,215.3 617.7,217.3" fill="#6f8096" stroke="#6f8096"/><polygon points="607.7,216.6 617.7,217.3 620.7,215.3 610.8,214.7" fill="#8397b2" stroke="#8397b2"/></g>
<g><polygon points="631.7,259.5 641.7,260.3 642.9,217.3 632.8,216.6" fill="#A8C2E4" stroke="#A8C2E4"/><polygon points="641.7,260.3 644.6,258.2 645.9,215.3 642.9,217.3" fill="#6f8096" stroke="#6f8096"/><polygon points="632.8,216.6 642.9,217.3 645.9,215.3 635.8,214.7" fill="#8397b2" stroke="#8397b2"/></g>
<g><polygon points="656.8,261.5 666.9,262.3 668.2,224.6 658.0,223.9" fill="#A8C2E4" stroke="#A8C2E4"/><polygon points="666.9,262.3 669.7,260.1 671.0,222.7 668.2,224.6" fill="#6f8096" stroke="#6f8096"/><polygon points="658.0,223.9 668.2,224.6 671.0,222.7 660.9,221.9" fill="#8397b2" stroke="#8397b2"/></g>
<g><polygon points="682.2,263.4 692.4,264.2 694.1,220.1 683.8,219.4" fill="#A8C2E4" stroke="#A8C2E4"/><polygon points="692.4,264.2 695.0,262.0 696.8,218.1 694.1,220.1" fill="#6f8096" stroke="#6f8096"/><polygon points="683.8,219.4 694.1,220.1 696.8,218.1 686.5,217.4" fill="#8397b2" stroke="#8397b2"/></g>
<g><polygon points="707.8,265.4 718.1,266.2 719.9,225.4 709.5,224.6" fill="#A8C2E4" stroke="#A8C2E4"/><polygon points="718.1,266.2 720.6,264.0 722.5,223.4 719.9,225.4" fill="#6f8096" stroke="#6f8096"/><polygon points="709.5,224.6 719.9,225.4 722.5,223.4 712.1,222.6" fill="#8397b2" stroke="#8397b2"/></g>
<g><polygon points="733.6,267.4 744.0,268.2 746.7,215.7 736.2,215.0" fill="#A8C2E4" stroke="#A8C2E4"/><polygon points="744.0,268.2 746.5,266.0 749.1,213.8 746.7,215.7" fill="#6f8096" stroke="#6f8096"/><polygon points="736.2,215.0 746.7,215.7 749.1,213.8 738.6,213.0" fill="#8397b2" stroke="#8397b2"/></g>
<g><polygon points="759.7,269.4 770.2,270.2 772.8,224.7 762.2,223.9" fill="#A8C2E4" stroke="#A8C2E4"/><polygon points="770.2,270.2 772.5,268.0 775.1,222.6 772.8,224.7" fill="#6f8096" stroke="#6f8096"/><polygon points="762.2,223.9 772.8,224.7 775.1,222.6 764.5,221.9" fill="#8397b2" stroke="#8397b2"/></g>
<g><polygon points="786.1,271.4 796.7,272.3 798.7,240.6 788.0,239.8" fill="#A8C2E4" stroke="#A8C2E4"/><polygon points="796.7,272.3 798.9,270.0 800.8,238.5 798.7,240.6" fill="#6f8096" stroke="#6f8096"/><polygon points="788.0,239.8 798.7,240.6 800.8,238.5 790.2,237.7" fill="#8397b2" stroke="#8397b2"/></g>
<g><polygon points="812.7,273.5 823.4,274.3 825.6,241.5 814.8,240.7" fill="#A8C2E4" stroke="#A8C2E4"/><polygon points="823.4,274.3 825.5,272.0 827.7,239.4 825.6,241.5" fill="#6f8096" stroke="#6f8096"/><polygon points="814.8,240.7 825.6,241.5 827.7,239.4 816.9,238.6" fill="#8397b2" stroke="#8397b2"/></g>
<g><polygon points="839.6,275.6 850.4,276.4 853.3,236.5 842.4,235.7" fill="#A8C2E4" stroke="#A8C2E4"/><polygon points="850.4,276.4 852.3,274.1 855.2,234.4 853.3,236.5" fill="#6f8096" stroke="#6f8096"/><polygon points="842.4,235.7 853.3,236.5 855.2,234.4 844.3,233.6" fill="#8397b2" stroke="#8397b2"/></g>
<g><polygon points="866.7,277.7 877.6,278.5 880.5,242.0 869.5,241.3" fill="#A8C2E4" stroke="#A8C2E4"/><polygon points="877.6,278.5 879.4,276.2 882.3,239.9 880.5,242.0" fill="#6f8096" stroke="#6f8096"/><polygon points="869.5,241.3 880.5,242.0 882.3,239.9 871.3,239.1" fill="#8397b2" stroke="#8397b2"/></g>
<g><polygon points="292.1,239.0 301.0,239.7 299.3,198.1 290.4,197.4" fill="#F9A540" stroke="#F9A540"/><polygon points="301.0,239.7 305.4,237.7 303.8,196.3 299.3,198.1" fill="#a46d2a" stroke="#a46d2a"/><polygon points="290.4,197.4 299.3,198.1 303.8,196.3 294.8,195.7" fill="#c28132" stroke="#c28132"/></g>
<g><polygon points="314.5,240.7 323.5,241.4 322.0,200.7 312.9,200.0" fill="#F9A540" stroke="#F9A540"/><polygon points="323.5,241.4 327.8,239.5 326.3,198.9 322.0,200.7" fill="#a46d2a" stroke="#a46d2a"/><polygon points="312.9,200.0 322.0,200.7 326.3,198.9 317.3,198.3" fill="#c28132" stroke="#c28132"/></g>
<g><polygon points="337.0,242.5 346.1,243.2 344.9,206.0 335.8,205.4" fill="#F9A540" stroke="#F9A540"/><polygon points="346.1,243.2 350.3,241.2 349.2,204.2 344.9,206.0" fill="#a46d2a" stroke="#a46d2a"/><polygon points="335.8,205.4 344.9,206.0 349.2,204.2 340.0,203.6" fill="#c28132" stroke="#c28132"/></g>
<g><polygon points="359.7,244.3 368.9,245.0 368.0,210.2 358.7,209.6" fill="#F9A540" stroke="#F9A540"/><polygon points="368.9,245.0 373.0,243.0 372.1,208.4 368.0,210.2" fill="#a46d2a" stroke="#a46d2a"/><polygon points="358.7,209.6 368.0,210.2 372.1,208.4 362.9,207.8" fill="#c28132" stroke="#c28132"/></g>
<g><polygon points="382.7,246.1 391.9,246.8 391.1,208.8 381.8,208.1" fill="#F9A540" stroke="#F9A540"/><polygon points="391.9,246.8 396.0,244.8 395.1,206.9 391.1,208.8" fill="#a46d2a" stroke="#a46d2a"/><polygon points="381.8,208.1 391.1,208.8 395.1,206.9 385.9,206.3" fill="#c28132" stroke="#c28132"/></g>
<g><polygon points="405.8,247.9 415.2,248.6 414.4,206.9 405.0,206.2" fill="#F9A540" stroke="#F9A540"/><polygon points="415.2,248.6 419.1,246.6 418.4,205.0 414.4,206.9" fill="#a46d2a" stroke="#a46d2a"/><polygon points="405.0,206.2 414.4,206.9 418.4,205.0 409.0,204.4" fill="#c28132" stroke="#c28132"/></g>
<g><polygon points="429.2,249.7 438.6,250.4 437.9,195.5 428.4,194.9" fill="#F9A540" stroke="#F9A540"/><polygon points="438.6,250.4 442.5,248.4 441.8,193.7 437.9,195.5" fill="#a46d2a" stroke="#a46d2a"/><polygon points="428.4,194.9 437.9,195.5 441.8,193.7 432.3,193.1" fill="#c28132" stroke="#c28132"/></g>
<g><polygon points="452.8,251.5 462.3,252.3 461.9,205.3 452.3,204.6" fill="#F9A540" stroke="#F9A540"/><polygon points="462.3,252.3 466.0,250.2 465.7,203.4 461.9,205.3" fill="#a46d2a" stroke="#a46d2a"/><polygon points="452.3,204.6 461.9,205.3 465.7,203.4 456.2,202.8" fill="#c28132" stroke="#c28132"/></g>
<g><polygon points="476.6,253.4 486.2,254.2 486.1,211.6 476.4,210.9" fill="#F9A540" stroke="#F9A540"/><polygon points="486.2,254.2 489.8,252.1 489.7,209.7 486.1,211.6" fill="#a46d2a" stroke="#a46d2a"/><polygon points="476.4,210.9 486.1,211.6 489.7,209.7 480.1,209.1" fill="#c28132" stroke="#c28132"/></g>
<g><polygon points="500.6,255.3 510.3,256.0 510.4,215.6 500.6,215.0" fill="#F9A540" stroke="#F9A540"/><polygon points="510.3,256.0 513.8,253.9 513.9,213.7 510.4,215.6" fill="#a46d2a" stroke="#a46d2a"/><polygon points="500.6,215.0 510.4,215.6 513.9,213.7 504.2,213.1" fill="#c28132" stroke="#c28132"/></g>
<g><polygon points="524.9,257.2 534.6,257.9 534.9,224.5 525.0,223.8" fill="#F9A540" stroke="#F9A540"/><polygon points="534.6,257.9 538.1,255.8 538.3,222.5 534.9,224.5" fill="#a46d2a" stroke="#a46d2a"/><polygon points="525.0,223.8 534.9,224.5 538.3,222.5 528.5,221.9" fill="#c28132" stroke="#c28132"/></g>
<g><polygon points="549.3,259.1 559.2,259.9 559.7,219.8 549.8,219.1" fill="#F9A540" stroke="#F9A540"/><polygon points="559.2,259.9 562.5,257.7 563.0,217.8 559.7,219.8" fill="#a46d2a" stroke="#a46d2a"/><polygon points="549.8,219.1 559.7,219.8 563.0,217.8 553.1,217.2" fill="#c28132" stroke="#c28132"/></g>
<g><polygon points="574.1,261.0 584.0,261.8 584.6,227.1 574.6,226.4" fill="#F9A540" stroke="#F9A540"/><polygon points="584.0,261.8 587.2,259.7 587.8,225.2 584.6,227.1" fill="#a46d2a" stroke="#a46d2a"/><polygon points="574.6,226.4 584.6,227.1 587.8,225.2 577.9,224.4" fill="#c28132" stroke="#c28132"/></g>
<g><polygon points="599.0,263.0 609.0,263.8 609.8,231.6 599.7,230.9" fill="#F9A540" stroke="#F9A540"/><polygon points="609.0,263.8 612.1,261.6 612.9,229.6 609.8,231.6" fill="#a46d2a" stroke="#a46d2a"/><polygon points="599.7,230.9 609.8,231.6 612.9,229.6 602.8,228.8" fill="#c28132" stroke="#c28132"/></g>
<g><polygon points="624.2,264.9 634.3,265.7 635.3,228.8 625.1,228.0" fill="#F9A540" stroke="#F9A540"/><polygon points="634.3,265.7 637.3,263.6 638.3,226.8 635.3,228.8" fill="#a46d2a" stroke="#a46d2a"/><polygon points="625.1,228.0 635.3,228.8 638.3,226.8 628.2,226.0" fill="#c28132" stroke="#c28132"/></g>
<g><polygon points="649.6,266.9 659.8,267.7 660.8,238.0 650.5,237.3" fill="#F9A540" stroke="#F9A540"/><polygon points="659.8,267.7 662.7,265.5 663.7,236.0 660.8,238.0" fill="#a46d2a" stroke="#a46d2a"/><polygon points="650.5,237.3 660.8,238.0 663.7,236.0 653.4,235.2" fill="#c28132" stroke="#c28132"/></g>
<g><polygon points="675.3,268.9 685.6,269.8 686.8,237.2 676.4,236.5" fill="#F9A540" stroke="#F9A540"/><polygon points="685.6,269.8 688.3,267.5 689.6,235.2 686.8,237.2" fill="#a46d2a" stroke="#a46d2a"/><polygon points="676.4,236.5 686.8,237.2 689.6,235.2 679.2,234.4" fill="#c28132" stroke="#c28132"/></g>
<g><polygon points="701.2,271.0 711.6,271.8 713.4,231.2 702.9,230.4" fill="#F9A540" stroke="#F9A540"/><polygon points="711.6,271.8 714.2,269.5 716.0,229.1 713.4,231.2" fill="#a46d2a" stroke="#a46d2a"/><polygon points="702.9,230.4 713.4,231.2 716.0,229.1 705.5,228.4" fill="#c28132" stroke="#c28132"/></g>
<g><polygon points="727.3,273.0 737.9,273.8 740.1,227.9 729.5,227.2" fill="#F9A540" stroke="#F9A540"/><polygon points="737.9,273.8 740.4,271.6 742.6,225.9 740.1,227.9" fill="#a46d2a" stroke="#a46d2a"/><polygon points="729.5,227.2 740.1,227.9 742.6,225.9 732.0,225.1" fill="#c28132" stroke="#c28132"/></g>
<g><polygon points="753.8,275.1 764.4,275.9 766.2,243.9 755.4,243.2" fill="#F9A540" stroke="#F9A540"/><polygon points="764.4,275.9 766.8,273.6 768.5,241.8 766.2,243.9" fill="#a46d2a" stroke="#a46d2a"/><polygon points="755.4,243.2 766.2,243.9 768.5,241.8 757.9,241.0" fill="#c28132" stroke="#c28132"/></g>
<g><polygon points="780.4,277.2 791.2,278.0 793.0,248.0 782.2,247.2" fill="#F9A540" stroke="#F9A540"/><polygon points="791.2,278.0 793.4,275.7 795.2,245.8 793.0,248.0" fill="#a46d2a" stroke="#a46d2a"/><polygon points="782.2,247.2 793.0,248.0 795.2,245.8 784.5,245.0" fill="#c28132" stroke="#c28132"/></g>
<g><polygon points="807.4,279.3 818.2,280.1 819.9,254.4 809.0,253.6" fill="#F9A540" stroke="#F9A540"/><polygon points="818.2,280.1 820.3,277.8 822.0,252.2 819.9,254.4" fill="#a46d2a" stroke="#a46d2a"/><polygon points="809.0,253.6 819.9,254.4 822.0,252.2 811.2,251.4" fill="#c28132" stroke="#c28132"/></g>
<g><polygon points="834.6,281.4 845.6,282.3 847.8,250.3 836.8,249.5" fill="#F9A540" stroke="#F9A540"/><polygon points="845.6,282.3 847.5,279.9 849.8,248.1 847.8,250.3" fill="#a46d2a" stroke="#a46d2a"/><polygon points="836.8,249.5 847.8,250.3 849.8,248.1 838.8,247.3" fill="#c28132" stroke="#c28132"/></g>
<g><polygon points="862.1,283.6 873.1,284.4 876.0,248.0 864.8,247.2" fill="#F9A540" stroke="#F9A540"/><polygon points="873.1,284.4 875.0,282.0 877.8,245.8 876.0,248.0" fill="#a46d2a" stroke="#a46d2a"/><polygon points="864.8,247.2 876.0,248.0 877.8,245.8 866.7,245.0" fill="#c28132" stroke="#c28132"/></g>
<g><polygon points="280.9,243.9 289.9,244.6 288.3,209.5 279.3,208.9" fill="#1CBCD8" stroke="#1CBCD8"/><polygon points="289.9,244.6 294.4,242.6 292.9,207.7 288.3,209.5" fill="#127c8f" stroke="#127c8f"/><polygon points="279.3,208.9 288.3,209.5 292.9,207.7 283.9,207.1" fill="#1693a8" stroke="#1693a8"/></g>
<g><polygon points="303.4,245.7 312.5,246.4 310.9,204.4 301.7,203.8" fill="#1CBCD8" stroke="#1CBCD8"/><polygon points="312.5,246.4 316.9,244.4 315.3,202.6 310.9,204.4" fill="#127c8f" stroke="#127c8f"/><polygon points="301.7,203.8 310.9,204.4 315.3,202.6 306.2,202.0" fill="#1693a8" stroke="#1693a8"/></g>
<g><polygon points="326.2,247.5 335.3,248.2 333.6,197.4 324.4,196.8" fill="#1CBCD8" stroke="#1CBCD8"/><polygon points="335.3,248.2 339.7,246.2 338.0,195.6 333.6,197.4" fill="#127c8f" stroke="#127c8f"/><polygon points="324.4,196.8 333.6,197.4 338.0,195.6 328.8,195.0" fill="#1693a8" stroke="#1693a8"/></g>
<g><polygon points="349.2,249.3 358.4,250.0 357.1,206.1 347.8,205.4" fill="#1CBCD8" stroke="#1CBCD8"/><polygon points="358.4,250.0 362.6,248.0 361.4,204.2 357.1,206.1" fill="#127c8f" stroke="#127c8f"/><polygon points="347.8,205.4 357.1,206.1 361.4,204.2 352.1,203.6" fill="#1693a8" stroke="#1693a8"/></g>
<g><polygon points="372.3,251.1 381.7,251.9 380.8,216.2 371.4,215.5" fill="#1CBCD8" stroke="#1CBCD8"/><polygon points="381.7,251.9 385.8,249.8 385.0,214.3 380.8,216.2" fill="#127c8f" stroke="#127c8f"/><polygon points="371.4,215.5 380.8,216.2 385.0,214.3 375.6,213.7" fill="#1693a8" stroke="#1693a8"/></g>
<g><polygon points="395.7,253.0 405.2,253.7 404.3,210.8 394.8,210.1" fill="#1CBCD8" stroke="#1CBCD8"/><polygon points="405.2,253.7 409.2,251.7 408.4,208.9 404.3,210.8" fill="#127c8f" stroke="#127c8f"/><polygon points="394.8,210.1 404.3,210.8 408.4,208.9 398.9,208.3" fill="#1693a8" stroke="#1693a8"/></g>
<g><polygon points="419.4,254.9 428.9,255.6 428.3,218.7 418.7,218.0" fill="#1CBCD8" stroke="#1CBCD8"/><polygon points="428.9,255.6 432.8,253.5 432.3,216.7 428.3,218.7" fill="#127c8f" stroke="#127c8f"/><polygon points="418.7,218.0 428.3,218.7 432.3,216.7 422.7,216.1" fill="#1693a8" stroke="#1693a8"/></g>
<g><polygon points="443.2,256.7 452.8,257.5 452.4,217.9 442.7,217.2" fill="#1CBCD8" stroke="#1CBCD8"/><polygon points="452.8,257.5 456.6,255.4 456.3,215.9 452.4,217.9" fill="#127c8f" stroke="#127c8f"/><polygon points="442.7,217.2 452.4,217.9 456.3,215.9 446.6,215.3" fill="#1693a8" stroke="#1693a8"/></g>
<g><polygon points="467.2,258.7 476.9,259.4 476.8,221.8 467.0,221.1" fill="#1CBCD8" stroke="#1CBCD8"/><polygon points="476.9,259.4 480.7,257.3 480.5,219.8 476.8,221.8" fill="#127c8f" stroke="#127c8f"/><polygon points="467.0,221.1 476.8,221.8 480.5,219.8 470.8,219.2" fill="#1693a8" stroke="#1693a8"/></g>
<g><polygon points="491.5,260.6 501.3,261.4 501.3,217.3 491.5,216.6" fill="#1CBCD8" stroke="#1CBCD8"/><polygon points="501.3,261.4 504.9,259.2 505.0,215.3 501.3,217.3" fill="#127c8f" stroke="#127c8f"/><polygon points="491.5,216.6 501.3,217.3 505.0,215.3 495.2,214.7" fill="#1693a8" stroke="#1693a8"/></g>
<g><polygon points="516.1,262.5 525.9,263.3 526.2,203.2 516.3,202.5" fill="#1CBCD8" stroke="#1CBCD8"/><polygon points="525.9,263.3 529.4,261.2 529.8,201.3 526.2,203.2" fill="#127c8f" stroke="#127c8f"/><polygon points="516.3,202.5 526.2,203.2 529.8,201.3 519.8,200.7" fill="#1693a8" stroke="#1693a8"/></g>
<g><polygon points="540.8,264.5 550.8,265.3 551.4,204.4 541.3,203.8" fill="#1CBCD8" stroke="#1CBCD8"/><polygon points="550.8,265.3 554.2,263.1 554.8,202.5 551.4,204.4" fill="#127c8f" stroke="#127c8f"/><polygon points="541.3,203.8 551.4,204.4 554.8,202.5 544.8,201.9" fill="#1693a8" stroke="#1693a8"/></g>
<g><polygon points="565.8,266.5 575.9,267.3 576.4,234.3 566.2,233.6" fill="#1CBCD8" stroke="#1CBCD8"/><polygon points="575.9,267.3 579.1,265.1 579.7,232.3 576.4,234.3" fill="#127c8f" stroke="#127c8f"/><polygon points="566.2,233.6 576.4,234.3 579.7,232.3 569.6,231.5" fill="#1693a8" stroke="#1693a8"/></g>
<g><polygon points="591.0,268.5 601.2,269.3 601.9,232.7 591.7,232.0" fill="#1CBCD8" stroke="#1CBCD8"/><polygon points="601.2,269.3 604.3,267.1 605.1,230.7 601.9,232.7" fill="#127c8f" stroke="#127c8f"/><polygon points="591.7,232.0 601.9,232.7 605.1,230.7 594.9,229.9" fill="#1693a8" stroke="#1693a8"/></g>
<g><polygon points="616.5,270.5 626.8,271.3 627.7,234.3 617.4,233.6" fill="#1CBCD8" stroke="#1CBCD8"/><polygon points="626.8,271.3 629.8,269.1 630.8,232.3 627.7,234.3" fill="#127c8f" stroke="#127c8f"/><polygon points="617.4,233.6 627.7,234.3 630.8,232.3 620.5,231.5" fill="#1693a8" stroke="#1693a8"/></g>
<g><polygon points="642.2,272.5 652.6,273.4 653.6,240.5 643.2,239.7" fill="#1CBCD8" stroke="#1CBCD8"/><polygon points="652.6,273.4 655.5,271.1 656.6,238.4 653.6,240.5" fill="#127c8f" stroke="#127c8f"/><polygon points="643.2,239.7 653.6,240.5 656.6,238.4 646.2,237.6" fill="#1693a8" stroke="#1693a8"/></g>
<g><polygon points="668.2,274.6 678.6,275.4 679.8,243.5 669.3,242.7" fill="#1CBCD8" stroke="#1CBCD8"/><polygon points="678.6,275.4 681.4,273.1 682.6,241.4 679.8,243.5" fill="#127c8f" stroke="#127c8f"/><polygon points="669.3,242.7 679.8,243.5 682.6,241.4 672.2,240.6" fill="#1693a8" stroke="#1693a8"/></g>
<g><polygon points="694.4,276.7 705.0,277.5 708.1,203.3 697.4,202.6" fill="#1CBCD8" stroke="#1CBCD8"/><polygon points="705.0,277.5 707.6,275.2 710.8,201.3 708.1,203.3" fill="#127c8f" stroke="#127c8f"/><polygon points="697.4,202.6 708.1,203.3 710.8,201.3 700.1,200.7" fill="#1693a8" stroke="#1693a8"/></g>
<g><polygon points="720.9,278.8 731.6,279.6 733.8,232.1 723.1,231.3" fill="#1CBCD8" stroke="#1CBCD8"/><polygon points="731.6,279.6 734.1,277.3 736.4,230.0 733.8,232.1" fill="#127c8f" stroke="#127c8f"/><polygon points="723.1,231.3 733.8,232.1 736.4,230.0 725.7,229.2" fill="#1693a8" stroke="#1693a8"/></g>
<g><polygon points="747.6,280.9 758.4,281.8 760.8,236.3 750.0,235.5" fill="#1CBCD8" stroke="#1CBCD8"/><polygon points="758.4,281.8 760.8,279.4 763.3,234.1 760.8,236.3" fill="#127c8f" stroke="#127c8f"/><polygon points="750.0,235.5 760.8,236.3 763.3,234.1 752.4,233.4" fill="#1693a8" stroke="#1693a8"/></g>
<g><polygon points="774.6,283.1 785.5,283.9 787.5,250.0 776.6,249.2" fill="#1CBCD8" stroke="#1CBCD8"/><polygon points="785.5,283.9 787.8,281.5 789.8,247.8 787.5,250.0" fill="#127c8f" stroke="#127c8f"/><polygon points="776.6,249.2 787.5,250.0 789.8,247.8 778.9,247.0" fill="#1693a8" stroke="#1693a8"/></g>
<g><polygon points="801.9,285.2 812.9,286.1 815.3,249.2 804.2,248.4" fill="#1CBCD8" stroke="#1CBCD8"/><polygon points="812.9,286.1 815.1,283.7 817.5,247.0 815.3,249.2" fill="#127c8f" stroke="#127c8f"/><polygon points="804.2,248.4 815.3,249.2 817.5,247.0 806.4,246.2" fill="#1693a8" stroke="#1693a8"/></g>
<g><polygon points="829.5,287.4 840.6,288.3 842.6,259.3 831.5,258.5" fill="#1CBCD8" stroke="#1CBCD8"/><polygon points="840.6,288.3 842.6,285.9 844.6,257.0 842.6,259.3" fill="#127c8f" stroke="#127c8f"/><polygon points="831.5,258.5 842.6,259.3 844.6,257.0 833.5,256.2" fill="#1693a8" stroke="#1693a8"/></g>
<g><polygon points="857.3,289.6 868.5,290.5 870.9,259.3 859.6,258.5" fill="#1CBCD8" stroke="#1CBCD8"/><polygon points="868.5,290.5 870.4,288.1 872.8,257.0 870.9,259.3" fill="#127c8f" stroke="#127c8f"/><polygon points="859.6,258.5 870.9,259.3 872.8,257.0 861.5,256.2" fill="#1693a8" stroke="#1693a8"/></g>
<g><polygon points="269.3,248.9 278.4,249.6 276.6,210.0 267.4,209.3" fill="#8A5CB0" stroke="#8A5CB0"/><polygon points="278.4,249.6 283.0,247.6 281.2,208.1 276.6,210.0" fill="#5b3d74" stroke="#5b3d74"/><polygon points="267.4,209.3 276.6,210.0 281.2,208.1 272.1,207.5" fill="#6c4889" stroke="#6c4889"/></g>
<g><polygon points="292.1,250.7 301.3,251.4 299.4,206.9 290.2,206.2" fill="#8A5CB0" stroke="#8A5CB0"/><polygon points="301.3,251.4 305.8,249.4 304.0,205.0 299.4,206.9" fill="#5b3d74" stroke="#5b3d74"/><polygon points="290.2,206.2 299.4,206.9 304.0,205.0 294.8,204.4" fill="#6c4889" stroke="#6c4889"/></g>
<g><polygon points="315.1,252.6 324.3,253.3 322.4,199.8 313.0,199.2" fill="#8A5CB0" stroke="#8A5CB0"/><polygon points="324.3,253.3 328.8,251.2 326.9,198.0 322.4,199.8" fill="#5b3d74" stroke="#5b3d74"/><polygon points="313.0,199.2 322.4,199.8 326.9,198.0 317.6,197.4" fill="#6c4889" stroke="#6c4889"/></g>
<g><polygon points="338.3,254.4 347.6,255.2 346.5,218.7 337.1,218.0" fill="#8A5CB0" stroke="#8A5CB0"/><polygon points="347.6,255.2 352.0,253.1 350.9,216.7 346.5,218.7" fill="#5b3d74" stroke="#5b3d74"/><polygon points="337.1,218.0 346.5,218.7 350.9,216.7 341.5,216.1" fill="#6c4889" stroke="#6c4889"/></g>
<g><polygon points="361.7,256.3 371.2,257.1 370.2,222.6 360.7,221.9" fill="#8A5CB0" stroke="#8A5CB0"/><polygon points="371.2,257.1 375.4,255.0 374.5,220.6 370.2,222.6" fill="#5b3d74" stroke="#5b3d74"/><polygon points="360.7,221.9 370.2,222.6 374.5,220.6 365.0,220.0" fill="#6c4889" stroke="#6c4889"/></g>
<g><polygon points="385.4,258.2 394.9,259.0 394.1,222.9 384.5,222.2" fill="#8A5CB0" stroke="#8A5CB0"/><polygon points="394.9,259.0 399.0,256.9 398.3,220.9 394.1,222.9" fill="#5b3d74" stroke="#5b3d74"/><polygon points="384.5,222.2 394.1,222.9 398.3,220.9 388.7,220.3" fill="#6c4889" stroke="#6c4889"/></g>
<g><polygon points="409.2,260.1 418.8,260.9 418.2,221.8 408.5,221.1" fill="#8A5CB0" stroke="#8A5CB0"/><polygon points="418.8,260.9 422.9,258.8 422.3,219.8 418.2,221.8" fill="#5b3d74" stroke="#5b3d74"/><polygon points="408.5,221.1 418.2,221.8 422.3,219.8 412.6,219.2" fill="#6c4889" stroke="#6c4889"/></g>
<g><polygon points="433.3,262.1 443.0,262.9 442.7,230.5 432.9,229.7" fill="#8A5CB0" stroke="#8A5CB0"/><polygon points="443.0,262.9 447.0,260.7 446.6,228.5 442.7,230.5" fill="#5b3d74" stroke="#5b3d74"/><polygon points="432.9,229.7 442.7,230.5 446.6,228.5 436.9,227.7" fill="#6c4889" stroke="#6c4889"/></g>
<g><polygon points="457.7,264.0 467.5,264.8 467.2,234.4 457.4,233.7" fill="#8A5CB0" stroke="#8A5CB0"/><polygon points="467.5,264.8 471.3,262.7 471.1,232.4 467.2,234.4" fill="#5b3d74" stroke="#5b3d74"/><polygon points="457.4,233.7 467.2,234.4 471.1,232.4 461.3,231.6" fill="#6c4889" stroke="#6c4889"/></g>
<g><polygon points="482.2,266.0 492.1,266.8 492.0,231.3 482.1,230.6" fill="#8A5CB0" stroke="#8A5CB0"/><polygon points="492.1,266.8 495.8,264.6 495.8,229.3 492.0,231.3" fill="#5b3d74" stroke="#5b3d74"/><polygon points="482.1,230.6 492.0,231.3 495.8,229.3 485.9,228.5" fill="#6c4889" stroke="#6c4889"/></g>
<g><polygon points="507.0,268.0 517.0,268.8 517.1,236.2 507.1,235.4" fill="#8A5CB0" stroke="#8A5CB0"/><polygon points="517.0,268.8 520.6,266.6 520.7,234.1 517.1,236.2" fill="#5b3d74" stroke="#5b3d74"/><polygon points="507.1,235.4 517.1,236.2 520.7,234.1 510.7,233.4" fill="#6c4889" stroke="#6c4889"/></g>
<g><polygon points="532.0,270.0 542.1,270.9 542.4,234.6 532.3,233.9" fill="#8A5CB0" stroke="#8A5CB0"/><polygon points="542.1,270.9 545.6,268.6 545.9,232.6 542.4,234.6" fill="#5b3d74" stroke="#5b3d74"/><polygon points="532.3,233.9 542.4,234.6 545.9,232.6 535.8,231.8" fill="#6c4889" stroke="#6c4889"/></g>
<g><polygon points="557.3,272.1 567.5,272.9 568.0,239.1 557.7,238.3" fill="#8A5CB0" stroke="#8A5CB0"/><polygon points="567.5,272.9 570.9,270.6 571.4,237.0 568.0,239.1" fill="#5b3d74" stroke="#5b3d74"/><polygon points="557.7,238.3 568.0,239.1 571.4,237.0 561.2,236.2" fill="#6c4889" stroke="#6c4889"/></g>
<g><polygon points="582.8,274.1 593.1,275.0 593.7,246.1 583.3,245.4" fill="#8A5CB0" stroke="#8A5CB0"/><polygon points="593.1,275.0 596.4,272.7 596.9,244.0 593.7,246.1" fill="#5b3d74" stroke="#5b3d74"/><polygon points="583.3,245.4 593.7,246.1 596.9,244.0 586.6,243.2" fill="#6c4889" stroke="#6c4889"/></g>
<g><polygon points="608.6,276.2 619.0,277.0 619.8,242.2 609.4,241.4" fill="#8A5CB0" stroke="#8A5CB0"/><polygon points="619.0,277.0 622.1,274.7 623.0,240.1 619.8,242.2" fill="#5b3d74" stroke="#5b3d74"/><polygon points="609.4,241.4 619.8,242.2 623.0,240.1 612.6,239.3" fill="#6c4889" stroke="#6c4889"/></g>
<g><polygon points="634.6,278.3 645.1,279.2 646.1,247.6 635.5,246.8" fill="#8A5CB0" stroke="#8A5CB0"/><polygon points="645.1,279.2 648.1,276.8 649.1,245.4 646.1,247.6" fill="#5b3d74" stroke="#5b3d74"/><polygon points="635.5,246.8 646.1,247.6 649.1,245.4 638.6,244.6" fill="#6c4889" stroke="#6c4889"/></g>
<g><polygon points="660.9,280.4 671.5,281.3 672.5,252.0 661.9,251.2" fill="#8A5CB0" stroke="#8A5CB0"/><polygon points="671.5,281.3 674.4,278.9 675.4,249.8 672.5,252.0" fill="#5b3d74" stroke="#5b3d74"/><polygon points="661.9,251.2 672.5,252.0 675.4,249.8 664.8,249.0" fill="#6c4889" stroke="#6c4889"/></g>
<g><polygon points="687.4,282.6 698.1,283.4 699.9,241.2 689.1,240.5" fill="#8A5CB0" stroke="#8A5CB0"/><polygon points="698.1,283.4 700.9,281.0 702.6,239.1 699.9,241.2" fill="#5b3d74" stroke="#5b3d74"/><polygon points="689.1,240.5 699.9,241.2 702.6,239.1 691.9,238.3" fill="#6c4889" stroke="#6c4889"/></g>
<g><polygon points="714.3,284.7 725.1,285.6 726.6,252.3 715.7,251.5" fill="#8A5CB0" stroke="#8A5CB0"/><polygon points="725.1,285.6 727.7,283.2 729.2,250.1 726.6,252.3" fill="#5b3d74" stroke="#5b3d74"/><polygon points="715.7,251.5 726.6,252.3 729.2,250.1 718.4,249.3" fill="#6c4889" stroke="#6c4889"/></g>
<g><polygon points="741.3,286.9 752.2,287.8 754.0,253.9 743.0,253.1" fill="#8A5CB0" stroke="#8A5CB0"/><polygon points="752.2,287.8 754.7,285.4 756.5,251.7 754.0,253.9" fill="#5b3d74" stroke="#5b3d74"/><polygon points="743.0,253.1 754.0,253.9 756.5,251.7 745.6,250.8" fill="#6c4889" stroke="#6c4889"/></g>
<g><polygon points="768.7,289.1 779.7,290.0 781.4,260.0 770.4,259.1" fill="#8A5CB0" stroke="#8A5CB0"/><polygon points="779.7,290.0 782.0,287.5 783.8,257.7 781.4,260.0" fill="#5b3d74" stroke="#5b3d74"/><polygon points="770.4,259.1 781.4,260.0 783.8,257.7 772.8,256.8" fill="#6c4889" stroke="#6c4889"/></g>
<g><polygon points="796.3,291.3 807.4,292.2 809.2,264.1 798.0,263.3" fill="#8A5CB0" stroke="#8A5CB0"/><polygon points="807.4,292.2 809.6,289.8 811.4,261.8 809.2,264.1" fill="#5b3d74" stroke="#5b3d74"/><polygon points="798.0,263.3 809.2,264.1 811.4,261.8 800.3,260.9" fill="#6c4889" stroke="#6c4889"/></g>
<g><polygon points="824.2,293.6 835.5,294.5 837.6,264.1 826.3,263.3" fill="#8A5CB0" stroke="#8A5CB0"/><polygon points="835.5,294.5 837.5,292.0 839.6,261.8 837.6,264.1" fill="#5b3d74" stroke="#5b3d74"/><polygon points="826.3,263.3 837.6,264.1 839.6,261.8 828.4,260.9" fill="#6c4889" stroke="#6c4889"/></g>
<g><polygon points="852.4,295.9 863.8,296.8 866.9,255.2 855.4,254.4" fill="#8A5CB0" stroke="#8A5CB0"/><polygon points="863.8,296.8 865.7,294.2 868.8,252.9 866.9,255.2" fill="#5b3d74" stroke="#5b3d74"/><polygon points="855.4,254.4 866.9,255.2 868.8,252.9 857.4,252.1" fill="#6c4889" stroke="#6c4889"/></g>
<g><polygon points="257.4,254.0 266.6,254.8 265.0,220.6 255.7,219.9" fill="#8CC63E" stroke="#8CC63E"/><polygon points="266.6,254.8 271.4,252.7 269.8,218.6 265.0,220.6" fill="#5c8329" stroke="#5c8329"/><polygon points="255.7,219.9 265.0,220.6 269.8,218.6 260.5,218.0" fill="#6d9a30" stroke="#6d9a30"/></g>
<g><polygon points="280.5,255.9 289.7,256.6 288.2,222.2 278.9,221.5" fill="#8CC63E" stroke="#8CC63E"/><polygon points="289.7,256.6 294.4,254.6 292.9,220.3 288.2,222.2" fill="#5c8329" stroke="#5c8329"/><polygon points="278.9,221.5 288.2,222.2 292.9,220.3 283.6,219.6" fill="#6d9a30" stroke="#6d9a30"/></g>
<g><polygon points="303.7,257.8 313.1,258.6 311.4,217.1 302.0,216.4" fill="#8CC63E" stroke="#8CC63E"/><polygon points="313.1,258.6 317.6,256.4 316.0,215.1 311.4,217.1" fill="#5c8329" stroke="#5c8329"/><polygon points="302.0,216.4 311.4,217.1 316.0,215.1 306.6,214.5" fill="#6d9a30" stroke="#6d9a30"/></g>
<g><polygon points="327.2,259.7 336.6,260.5 335.0,213.2 325.5,212.5" fill="#8CC63E" stroke="#8CC63E"/><polygon points="336.6,260.5 341.0,258.3 339.5,211.2 335.0,213.2" fill="#5c8329" stroke="#5c8329"/><polygon points="325.5,212.5 335.0,213.2 339.5,211.2 330.0,210.6" fill="#6d9a30" stroke="#6d9a30"/></g>
<g><polygon points="350.8,261.6 360.4,262.4 359.2,222.3 349.6,221.6" fill="#8CC63E" stroke="#8CC63E"/><polygon points="360.4,262.4 364.7,260.3 363.6,220.4 359.2,222.3" fill="#5c8329" stroke="#5c8329"/><polygon points="349.6,221.6 359.2,222.3 363.6,220.4 354.0,219.6" fill="#6d9a30" stroke="#6d9a30"/></g>
<g><polygon points="374.7,263.6 384.4,264.4 383.3,221.1 373.6,220.4" fill="#8CC63E" stroke="#8CC63E"/><polygon points="384.4,264.4 388.6,262.2 387.6,219.1 383.3,221.1" fill="#5c8329" stroke="#5c8329"/><polygon points="373.6,220.4 383.3,221.1 387.6,219.1 377.9,218.4" fill="#6d9a30" stroke="#6d9a30"/></g>
<g><polygon points="398.9,265.6 408.6,266.4 407.8,224.0 398.0,223.2" fill="#8CC63E" stroke="#8CC63E"/><polygon points="408.6,266.4 412.7,264.2 412.0,222.0 407.8,224.0" fill="#5c8329" stroke="#5c8329"/><polygon points="398.0,223.2 407.8,224.0 412.0,222.0 402.2,221.2" fill="#6d9a30" stroke="#6d9a30"/></g>
<g><polygon points="423.2,267.6 433.0,268.4 432.5,232.9 422.7,232.2" fill="#8CC63E" stroke="#8CC63E"/><polygon points="433.0,268.4 437.1,266.2 436.6,230.9 432.5,232.9" fill="#5c8329" stroke="#5c8329"/><polygon points="422.7,232.2 432.5,232.9 436.6,230.9 426.8,230.1" fill="#6d9a30" stroke="#6d9a30"/></g>
<g><polygon points="447.8,269.6 457.7,270.4 457.4,236.0 447.4,235.3" fill="#8CC63E" stroke="#8CC63E"/><polygon points="457.7,270.4 461.6,268.2 461.4,234.0 457.4,236.0" fill="#5c8329" stroke="#5c8329"/><polygon points="447.4,235.3 457.4,236.0 461.4,234.0 451.4,233.2" fill="#6d9a30" stroke="#6d9a30"/></g>
<g><polygon points="472.6,271.6 482.6,272.4 482.5,238.1 472.4,237.3" fill="#8CC63E" stroke="#8CC63E"/><polygon points="482.6,272.4 486.5,270.2 486.4,236.0 482.5,238.1" fill="#5c8329" stroke="#5c8329"/><polygon points="472.4,237.3 482.5,238.1 486.4,236.0 476.3,235.2" fill="#6d9a30" stroke="#6d9a30"/></g>
<g><polygon points="497.7,273.7 507.8,274.5 507.9,222.6 497.7,221.9" fill="#8CC63E" stroke="#8CC63E"/><polygon points="507.8,274.5 511.5,272.2 511.6,220.6 507.9,222.6" fill="#5c8329" stroke="#5c8329"/><polygon points="497.7,221.9 507.9,222.6 511.6,220.6 501.5,219.8" fill="#6d9a30" stroke="#6d9a30"/></g>
<g><polygon points="523.0,275.7 533.2,276.6 533.6,230.5 523.3,229.7" fill="#8CC63E" stroke="#8CC63E"/><polygon points="533.2,276.6 536.8,274.3 537.2,228.4 533.6,230.5" fill="#5c8329" stroke="#5c8329"/><polygon points="523.3,229.7 533.6,230.5 537.2,228.4 526.9,227.6" fill="#6d9a30" stroke="#6d9a30"/></g>
<g><polygon points="548.6,277.8 558.9,278.7 559.4,241.4 549.0,240.7" fill="#8CC63E" stroke="#8CC63E"/><polygon points="558.9,278.7 562.4,276.3 562.8,239.3 559.4,241.4" fill="#5c8329" stroke="#5c8329"/><polygon points="549.0,240.7 559.4,241.4 562.8,239.3 552.5,238.5" fill="#6d9a30" stroke="#6d9a30"/></g>
<g><polygon points="574.4,279.9 584.8,280.8 585.5,242.2 575.0,241.5" fill="#8CC63E" stroke="#8CC63E"/><polygon points="584.8,280.8 588.2,278.4 588.9,240.1 585.5,242.2" fill="#5c8329" stroke="#5c8329"/><polygon points="575.0,241.5 585.5,242.2 588.9,240.1 578.4,239.3" fill="#6d9a30" stroke="#6d9a30"/></g>
<g><polygon points="600.5,282.1 611.0,282.9 611.9,242.3 601.3,241.5" fill="#8CC63E" stroke="#8CC63E"/><polygon points="611.0,282.9 614.2,280.6 615.2,240.1 611.9,242.3" fill="#5c8329" stroke="#5c8329"/><polygon points="601.3,241.5 611.9,242.3 615.2,240.1 604.6,239.3" fill="#6d9a30" stroke="#6d9a30"/></g>
<g><polygon points="626.8,284.2 637.4,285.1 638.6,243.8 627.9,243.0" fill="#8CC63E" stroke="#8CC63E"/><polygon points="637.4,285.1 640.5,282.7 641.7,241.6 638.6,243.8" fill="#5c8329" stroke="#5c8329"/><polygon points="627.9,243.0 638.6,243.8 641.7,241.6 631.1,240.9" fill="#6d9a30" stroke="#6d9a30"/></g>
<g><polygon points="653.4,286.4 664.2,287.3 665.2,257.1 654.4,256.3" fill="#8CC63E" stroke="#8CC63E"/><polygon points="664.2,287.3 667.1,284.9 668.2,254.8 665.2,257.1" fill="#5c8329" stroke="#5c8329"/><polygon points="654.4,256.3 665.2,257.1 668.2,254.8 657.4,254.0" fill="#6d9a30" stroke="#6d9a30"/></g>
<g><polygon points="680.3,288.6 691.1,289.5 692.9,245.2 682.0,244.4" fill="#8CC63E" stroke="#8CC63E"/><polygon points="691.1,289.5 694.0,287.0 695.7,243.0 692.9,245.2" fill="#5c8329" stroke="#5c8329"/><polygon points="682.0,244.4 692.9,245.2 695.7,243.0 684.9,242.2" fill="#6d9a30" stroke="#6d9a30"/></g>
<g><polygon points="707.4,290.8 718.4,291.7 720.5,245.1 709.5,244.3" fill="#8CC63E" stroke="#8CC63E"/><polygon points="718.4,291.7 721.1,289.2 723.2,242.9 720.5,245.1" fill="#5c8329" stroke="#5c8329"/><polygon points="709.5,244.3 720.5,245.1 723.2,242.9 712.2,242.1" fill="#6d9a30" stroke="#6d9a30"/></g>
<g><polygon points="734.9,293.1 745.9,294.0 747.9,254.3 736.8,253.4" fill="#8CC63E" stroke="#8CC63E"/><polygon points="745.9,294.0 748.5,291.5 750.5,252.0 747.9,254.3" fill="#5c8329" stroke="#5c8329"/><polygon points="736.8,253.4 747.9,254.3 750.5,252.0 739.4,251.2" fill="#6d9a30" stroke="#6d9a30"/></g>
<g><polygon points="762.6,295.3 773.7,296.2 776.0,256.3 764.7,255.4" fill="#8CC63E" stroke="#8CC63E"/><polygon points="773.7,296.2 776.1,293.7 778.4,254.0 776.0,256.3" fill="#5c8329" stroke="#5c8329"/><polygon points="764.7,255.4 776.0,256.3 778.4,254.0 767.2,253.1" fill="#6d9a30" stroke="#6d9a30"/></g>
<g><polygon points="790.5,297.6 801.8,298.5 803.9,264.8 792.6,263.9" fill="#8CC63E" stroke="#8CC63E"/><polygon points="801.8,298.5 804.1,296.0 806.2,262.4 803.9,264.8" fill="#5c8329" stroke="#5c8329"/><polygon points="792.6,263.9 803.9,264.8 806.2,262.4 794.9,261.6" fill="#6d9a30" stroke="#6d9a30"/></g>
<g><polygon points="818.8,299.9 830.2,300.9 832.8,262.8 821.3,261.9" fill="#8CC63E" stroke="#8CC63E"/><polygon points="830.2,300.9 832.3,298.3 834.9,260.4 832.8,262.8" fill="#5c8329" stroke="#5c8329"/><polygon points="821.3,261.9 832.8,262.8 834.9,260.4 823.5,259.6" fill="#6d9a30" stroke="#6d9a30"/></g>
<g><polygon points="847.4,302.3 858.9,303.2 861.8,264.2 850.2,263.3" fill="#8CC63E" stroke="#8CC63E"/><polygon points="858.9,303.2 860.8,300.6 863.8,261.8 861.8,264.2" fill="#5c8329" stroke="#5c8329"/><polygon points="850.2,263.3 861.8,264.2 863.8,261.8 852.2,260.9" fill="#6d9a30" stroke="#6d9a30"/></g>
<g><polygon points="245.3,259.3 254.6,260.0 252.8,225.9 243.5,225.2" fill="#E2443F" stroke="#E2443F"/><polygon points="254.6,260.0 259.4,257.9 257.7,223.9 252.8,225.9" fill="#952d2a" stroke="#952d2a"/><polygon points="243.5,225.2 252.8,225.9 257.7,223.9 248.4,223.2" fill="#b03531" stroke="#b03531"/></g>
<g><polygon points="268.5,261.2 277.9,262.0 275.9,218.3 266.5,217.6" fill="#E2443F" stroke="#E2443F"/><polygon points="277.9,262.0 282.7,259.8 280.7,216.3 275.9,218.3" fill="#952d2a" stroke="#952d2a"/><polygon points="266.5,217.6 275.9,218.3 280.7,216.3 271.3,215.7" fill="#b03531" stroke="#b03531"/></g>
<g><polygon points="292.0,263.2 301.5,263.9 299.6,218.7 290.1,218.0" fill="#E2443F" stroke="#E2443F"/><polygon points="301.5,263.9 306.1,261.8 304.3,216.7 299.6,218.7" fill="#952d2a" stroke="#952d2a"/><polygon points="290.1,218.0 299.6,218.7 304.3,216.7 294.8,216.1" fill="#b03531" stroke="#b03531"/></g>
<g><polygon points="315.7,265.1 325.3,265.9 323.7,221.8 314.0,221.1" fill="#E2443F" stroke="#E2443F"/><polygon points="325.3,265.9 329.8,263.7 328.3,219.9 323.7,221.8" fill="#952d2a" stroke="#952d2a"/><polygon points="314.0,221.1 323.7,221.8 328.3,219.9 318.7,219.1" fill="#b03531" stroke="#b03531"/></g>
<g><polygon points="339.7,267.1 349.3,267.9 348.1,229.0 338.4,228.3" fill="#E2443F" stroke="#E2443F"/><polygon points="349.3,267.9 353.8,265.7 352.6,227.0 348.1,229.0" fill="#952d2a" stroke="#952d2a"/><polygon points="338.4,228.3 348.1,229.0 352.6,227.0 342.9,226.2" fill="#b03531" stroke="#b03531"/></g>
<g><polygon points="363.8,269.1 373.5,269.9 372.7,236.0 362.9,235.3" fill="#E2443F" stroke="#E2443F"/><polygon points="373.5,269.9 377.9,267.7 377.0,234.0 372.7,236.0" fill="#952d2a" stroke="#952d2a"/><polygon points="362.9,235.3 372.7,236.0 377.0,234.0 367.3,233.2" fill="#b03531" stroke="#b03531"/></g>
<g><polygon points="388.2,271.1 398.0,272.0 397.3,239.2 387.4,238.4" fill="#E2443F" stroke="#E2443F"/><polygon points="398.0,272.0 402.3,269.7 401.6,237.1 397.3,239.2" fill="#952d2a" stroke="#952d2a"/><polygon points="387.4,238.4 397.3,239.2 401.6,237.1 391.8,236.3" fill="#b03531" stroke="#b03531"/></g>
<g><polygon points="412.8,273.2 422.8,274.0 422.2,241.5 412.3,240.7" fill="#E2443F" stroke="#E2443F"/><polygon points="422.8,274.0 426.9,271.7 426.4,239.4 422.2,241.5" fill="#952d2a" stroke="#952d2a"/><polygon points="412.3,240.7 422.2,241.5 426.4,239.4 416.5,238.6" fill="#b03531" stroke="#b03531"/></g>
<g><polygon points="437.7,275.3 447.7,276.1 447.3,235.3 437.2,234.5" fill="#E2443F" stroke="#E2443F"/><polygon points="447.7,276.1 451.8,273.8 451.3,233.2 447.3,235.3" fill="#952d2a" stroke="#952d2a"/><polygon points="437.2,234.5 447.3,235.3 451.3,233.2 441.3,232.4" fill="#b03531" stroke="#b03531"/></g>
<g><polygon points="462.8,277.3 472.9,278.2 472.7,242.3 462.5,241.6" fill="#E2443F" stroke="#E2443F"/><polygon points="472.9,278.2 476.9,275.9 476.7,240.2 472.7,242.3" fill="#952d2a" stroke="#952d2a"/><polygon points="462.5,241.6 472.7,242.3 476.7,240.2 466.5,239.4" fill="#b03531" stroke="#b03531"/></g>
<g><polygon points="488.2,279.4 498.4,280.3 498.4,240.5 488.1,239.8" fill="#E2443F" stroke="#E2443F"/><polygon points="498.4,280.3 502.2,278.0 502.2,238.4 498.4,240.5" fill="#952d2a" stroke="#952d2a"/><polygon points="488.1,239.8 498.4,240.5 502.2,238.4 492.0,237.6" fill="#b03531" stroke="#b03531"/></g>
<g><polygon points="513.8,281.6 524.1,282.4 524.3,243.8 513.9,243.0" fill="#E2443F" stroke="#E2443F"/><polygon points="524.1,282.4 527.8,280.1 528.0,241.6 524.3,243.8" fill="#952d2a" stroke="#952d2a"/><polygon points="513.9,243.0 524.3,243.8 528.0,241.6 517.7,240.9" fill="#b03531" stroke="#b03531"/></g>
<g><polygon points="539.7,283.7 550.1,284.6 550.5,247.0 540.0,246.2" fill="#E2443F" stroke="#E2443F"/><polygon points="550.1,284.6 553.6,282.2 554.1,244.8 550.5,247.0" fill="#952d2a" stroke="#952d2a"/><polygon points="540.0,246.2 550.5,247.0 554.1,244.8 543.6,244.0" fill="#b03531" stroke="#b03531"/></g>
<g><polygon points="565.8,285.9 576.3,286.8 576.9,250.9 566.3,250.1" fill="#E2443F" stroke="#E2443F"/><polygon points="576.3,286.8 579.7,284.4 580.3,248.7 576.9,250.9" fill="#952d2a" stroke="#952d2a"/><polygon points="566.3,250.1 576.9,250.9 580.3,248.7 569.8,247.9" fill="#b03531" stroke="#b03531"/></g>
<g><polygon points="592.2,288.1 602.8,289.0 603.6,252.5 592.9,251.6" fill="#E2443F" stroke="#E2443F"/><polygon points="602.8,289.0 606.1,286.5 606.9,250.2 603.6,252.5" fill="#952d2a" stroke="#952d2a"/><polygon points="592.9,251.6 603.6,252.5 606.9,250.2 596.3,249.4" fill="#b03531" stroke="#b03531"/></g>
<g><polygon points="618.8,290.3 629.6,291.2 630.4,259.6 619.6,258.8" fill="#E2443F" stroke="#E2443F"/><polygon points="629.6,291.2 632.7,288.7 633.6,257.3 630.4,259.6" fill="#952d2a" stroke="#952d2a"/><polygon points="619.6,258.8 630.4,259.6 633.6,257.3 622.9,256.5" fill="#b03531" stroke="#b03531"/></g>
<g><polygon points="645.8,292.5 656.6,293.4 657.4,270.5 646.5,269.6" fill="#E2443F" stroke="#E2443F"/><polygon points="656.6,293.4 659.7,291.0 660.4,268.1 657.4,270.5" fill="#952d2a" stroke="#952d2a"/><polygon points="646.5,269.6 657.4,270.5 660.4,268.1 649.6,267.3" fill="#b03531" stroke="#b03531"/></g>
<g><polygon points="673.0,294.8 683.9,295.7 685.4,257.4 674.3,256.6" fill="#E2443F" stroke="#E2443F"/><polygon points="683.9,295.7 686.8,293.2 688.3,255.1 685.4,257.4" fill="#952d2a" stroke="#952d2a"/><polygon points="674.3,256.6 685.4,257.4 688.3,255.1 677.3,254.3" fill="#b03531" stroke="#b03531"/></g>
<g><polygon points="700.4,297.1 711.5,298.0 713.5,253.8 702.3,252.9" fill="#E2443F" stroke="#E2443F"/><polygon points="711.5,298.0 714.3,295.5 716.2,251.5 713.5,253.8" fill="#952d2a" stroke="#952d2a"/><polygon points="702.3,252.9 713.5,253.8 716.2,251.5 705.1,250.6" fill="#b03531" stroke="#b03531"/></g>
<g><polygon points="728.2,299.4 739.4,300.3 741.6,255.3 730.3,254.4" fill="#E2443F" stroke="#E2443F"/><polygon points="739.4,300.3 742.0,297.8 744.3,252.9 741.6,255.3" fill="#952d2a" stroke="#952d2a"/><polygon points="730.3,254.4 741.6,255.3 744.3,252.9 733.0,252.1" fill="#b03531" stroke="#b03531"/></g>
<g><polygon points="756.3,301.7 767.6,302.7 769.4,269.8 758.0,268.9" fill="#E2443F" stroke="#E2443F"/><polygon points="767.6,302.7 770.0,300.1 771.9,267.3 769.4,269.8" fill="#952d2a" stroke="#952d2a"/><polygon points="758.0,268.9 769.4,269.8 771.9,267.3 760.6,266.5" fill="#b03531" stroke="#b03531"/></g>
<g><polygon points="784.6,304.1 796.0,305.0 797.9,275.2 786.4,274.3" fill="#E2443F" stroke="#E2443F"/><polygon points="796.0,305.0 798.4,302.4 800.2,272.7 797.9,275.2" fill="#952d2a" stroke="#952d2a"/><polygon points="786.4,274.3 797.9,275.2 800.2,272.7 788.8,271.9" fill="#b03531" stroke="#b03531"/></g>
<g><polygon points="813.2,306.5 824.8,307.4 826.8,277.9 815.2,277.0" fill="#E2443F" stroke="#E2443F"/><polygon points="824.8,307.4 827.0,304.8 829.0,275.4 826.8,277.9" fill="#952d2a" stroke="#952d2a"/><polygon points="815.2,277.0 826.8,277.9 829.0,275.4 817.4,274.6" fill="#b03531" stroke="#b03531"/></g>
<g><polygon points="842.2,308.9 853.8,309.8 856.5,274.5 844.7,273.6" fill="#E2443F" stroke="#E2443F"/><polygon points="853.8,309.8 855.9,307.2 858.5,272.0 856.5,274.5" fill="#952d2a" stroke="#952d2a"/><polygon points="844.7,273.6 856.5,274.5 858.5,272.0 846.8,271.2" fill="#b03531" stroke="#b03531"/></g>
<g><polygon points="232.8,264.7 242.2,265.5 240.3,229.4 230.8,228.7" fill="#2A82CC" stroke="#2A82CC"/><polygon points="242.2,265.5 247.2,263.3 245.3,227.4 240.3,229.4" fill="#1c5687" stroke="#1c5687"/><polygon points="230.8,228.7 240.3,229.4 245.3,227.4 235.9,226.7" fill="#21659f" stroke="#21659f"/></g>
<g><polygon points="256.3,266.7 265.8,267.5 262.1,192.0 252.5,191.3" fill="#2A82CC" stroke="#2A82CC"/><polygon points="265.8,267.5 270.7,265.2 267.1,190.1 262.1,192.0" fill="#1c5687" stroke="#1c5687"/><polygon points="252.5,191.3 262.1,192.0 267.1,190.1 257.5,189.5" fill="#21659f" stroke="#21659f"/></g>
<g><polygon points="280.0,268.7 289.6,269.5 288.2,237.3 278.6,236.5" fill="#2A82CC" stroke="#2A82CC"/><polygon points="289.6,269.5 294.4,267.2 293.0,235.2 288.2,237.3" fill="#1c5687" stroke="#1c5687"/><polygon points="278.6,236.5 288.2,237.3 293.0,235.2 283.4,234.5" fill="#21659f" stroke="#21659f"/></g>
<g><polygon points="304.0,270.7 313.7,271.5 311.7,220.4 301.9,219.6" fill="#2A82CC" stroke="#2A82CC"/><polygon points="313.7,271.5 318.3,269.2 316.4,218.4 311.7,220.4" fill="#1c5687" stroke="#1c5687"/><polygon points="301.9,219.6 311.7,220.4 316.4,218.4 306.7,217.6" fill="#21659f" stroke="#21659f"/></g>
<g><polygon points="328.2,272.7 337.9,273.5 336.4,229.0 326.6,228.3" fill="#2A82CC" stroke="#2A82CC"/><polygon points="337.9,273.5 342.5,271.3 341.1,227.0 336.4,229.0" fill="#1c5687" stroke="#1c5687"/><polygon points="326.6,228.3 336.4,229.0 341.1,227.0 331.3,226.2" fill="#21659f" stroke="#21659f"/></g>
<g><polygon points="352.6,274.8 362.5,275.6 361.5,241.0 351.6,240.2" fill="#2A82CC" stroke="#2A82CC"/><polygon points="362.5,275.6 366.9,273.3 366.0,238.9 361.5,241.0" fill="#1c5687" stroke="#1c5687"/><polygon points="351.6,240.2 361.5,241.0 366.0,238.9 356.1,238.1" fill="#21659f" stroke="#21659f"/></g>
<g><polygon points="377.3,276.9 387.2,277.7 386.2,236.5 376.2,235.8" fill="#2A82CC" stroke="#2A82CC"/><polygon points="387.2,277.7 391.6,275.4 390.6,234.4 386.2,236.5" fill="#1c5687" stroke="#1c5687"/><polygon points="376.2,235.8 386.2,236.5 390.6,234.4 380.7,233.7" fill="#21659f" stroke="#21659f"/></g>
<g><polygon points="402.2,279.0 412.2,279.8 411.6,244.8 401.5,244.0" fill="#2A82CC" stroke="#2A82CC"/><polygon points="412.2,279.8 416.5,277.5 415.9,242.6 411.6,244.8" fill="#1c5687" stroke="#1c5687"/><polygon points="401.5,244.0 411.6,244.8 415.9,242.6 405.8,241.8" fill="#21659f" stroke="#21659f"/></g>
<g><polygon points="427.3,281.1 437.5,281.9 436.9,242.4 426.7,241.6" fill="#2A82CC" stroke="#2A82CC"/><polygon points="437.5,281.9 441.6,279.6 441.1,240.2 436.9,242.4" fill="#1c5687" stroke="#1c5687"/><polygon points="426.7,241.6 436.9,242.4 441.1,240.2 431.0,239.4" fill="#21659f" stroke="#21659f"/></g>
<g><polygon points="452.7,283.2 463.0,284.1 462.7,244.0 452.3,243.2" fill="#2A82CC" stroke="#2A82CC"/><polygon points="463.0,284.1 467.0,281.7 466.7,241.8 462.7,244.0" fill="#1c5687" stroke="#1c5687"/><polygon points="452.3,243.2 462.7,244.0 466.7,241.8 456.4,241.0" fill="#21659f" stroke="#21659f"/></g>
<g><polygon points="478.4,285.4 488.7,286.3 488.6,246.4 478.2,245.6" fill="#2A82CC" stroke="#2A82CC"/><polygon points="488.7,286.3 492.6,283.9 492.6,244.1 488.6,246.4" fill="#1c5687" stroke="#1c5687"/><polygon points="478.2,245.6 488.6,246.4 492.6,244.1 482.2,243.4" fill="#21659f" stroke="#21659f"/></g>
<g><polygon points="504.3,287.6 514.7,288.5 514.9,227.3 504.4,226.5" fill="#2A82CC" stroke="#2A82CC"/><polygon points="514.7,288.5 518.5,286.0 518.8,225.2 514.9,227.3" fill="#1c5687" stroke="#1c5687"/><polygon points="504.4,226.5 514.9,227.3 518.8,225.2 508.2,224.4" fill="#21659f" stroke="#21659f"/></g>
<g><polygon points="530.5,289.8 541.0,290.7 541.3,256.1 530.7,255.3" fill="#2A82CC" stroke="#2A82CC"/><polygon points="541.0,290.7 544.7,288.2 545.0,253.8 541.3,256.1" fill="#1c5687" stroke="#1c5687"/><polygon points="530.7,255.3 541.3,256.1 545.0,253.8 534.4,253.0" fill="#21659f" stroke="#21659f"/></g>
<g><polygon points="556.9,292.0 567.6,292.9 568.1,255.7 557.4,254.9" fill="#2A82CC" stroke="#2A82CC"/><polygon points="567.6,292.9 571.1,290.4 571.6,253.4 568.1,255.7" fill="#1c5687" stroke="#1c5687"/><polygon points="557.4,254.9 568.1,255.7 571.6,253.4 561.0,252.6" fill="#21659f" stroke="#21659f"/></g>
<g><polygon points="583.6,294.3 594.4,295.2 595.1,256.5 584.3,255.6" fill="#2A82CC" stroke="#2A82CC"/><polygon points="594.4,295.2 597.8,292.7 598.6,254.2 595.1,256.5" fill="#1c5687" stroke="#1c5687"/><polygon points="584.3,255.6 595.1,256.5 598.6,254.2 587.8,253.3" fill="#21659f" stroke="#21659f"/></g>
<g><polygon points="610.6,296.6 621.5,297.5 622.7,251.0 611.7,250.2" fill="#2A82CC" stroke="#2A82CC"/><polygon points="621.5,297.5 624.7,294.9 625.9,248.7 622.7,251.0" fill="#1c5687" stroke="#1c5687"/><polygon points="611.7,250.2 622.7,251.0 625.9,248.7 615.0,247.9" fill="#21659f" stroke="#21659f"/></g>
<g><polygon points="637.9,298.9 648.9,299.8 649.9,267.3 638.8,266.5" fill="#2A82CC" stroke="#2A82CC"/><polygon points="648.9,299.8 652.0,297.2 653.0,264.9 649.9,267.3" fill="#1c5687" stroke="#1c5687"/><polygon points="638.8,266.5 649.9,267.3 653.0,264.9 642.0,264.1" fill="#21659f" stroke="#21659f"/></g>
<g><polygon points="665.4,301.2 676.5,302.1 678.4,250.8 667.2,250.0" fill="#2A82CC" stroke="#2A82CC"/><polygon points="676.5,302.1 679.5,299.5 681.4,248.5 678.4,250.8" fill="#1c5687" stroke="#1c5687"/><polygon points="667.2,250.0 678.4,250.8 681.4,248.5 670.2,247.7" fill="#21659f" stroke="#21659f"/></g>
<g><polygon points="693.2,303.5 704.5,304.5 706.0,267.8 694.7,266.9" fill="#2A82CC" stroke="#2A82CC"/><polygon points="704.5,304.5 707.3,301.9 708.9,265.3 706.0,267.8" fill="#1c5687" stroke="#1c5687"/><polygon points="694.7,266.9 706.0,267.8 708.9,265.3 697.6,264.5" fill="#21659f" stroke="#21659f"/></g>
<g><polygon points="721.4,305.9 732.7,306.9 734.5,268.7 723.1,267.8" fill="#2A82CC" stroke="#2A82CC"/><polygon points="732.7,306.9 735.4,304.2 737.3,266.3 734.5,268.7" fill="#1c5687" stroke="#1c5687"/><polygon points="723.1,267.8 734.5,268.7 737.3,266.3 725.9,265.4" fill="#21659f" stroke="#21659f"/></g>
<g><polygon points="749.8,308.3 761.2,309.3 763.2,273.3 751.6,272.4" fill="#2A82CC" stroke="#2A82CC"/><polygon points="761.2,309.3 763.8,306.6 765.7,270.9 763.2,273.3" fill="#1c5687" stroke="#1c5687"/><polygon points="751.6,272.4 763.2,273.3 765.7,270.9 754.3,270.0" fill="#21659f" stroke="#21659f"/></g>
<g><polygon points="778.5,310.7 790.1,311.7 791.8,282.4 780.2,281.5" fill="#2A82CC" stroke="#2A82CC"/><polygon points="790.1,311.7 792.5,309.0 794.2,279.9 791.8,282.4" fill="#1c5687" stroke="#1c5687"/><polygon points="780.2,281.5 791.8,282.4 794.2,279.9 782.7,278.9" fill="#21659f" stroke="#21659f"/></g>
<g><polygon points="807.5,313.2 819.2,314.2 821.9,273.4 810.1,272.5" fill="#2A82CC" stroke="#2A82CC"/><polygon points="819.2,314.2 821.5,311.4 824.2,270.9 821.9,273.4" fill="#1c5687" stroke="#1c5687"/><polygon points="810.1,272.5 821.9,273.4 824.2,270.9 812.4,270.0" fill="#21659f" stroke="#21659f"/></g>
<g><polygon points="836.8,315.6 848.7,316.6 851.8,274.3 839.8,273.4" fill="#2A82CC" stroke="#2A82CC"/><polygon points="848.7,316.6 850.8,313.9 853.8,271.8 851.8,274.3" fill="#1c5687" stroke="#1c5687"/><polygon points="839.8,273.4 851.8,274.3 853.8,271.8 842.0,270.8" fill="#21659f" stroke="#21659f"/></g>
<g><polygon points="220.0,270.2 229.5,271.0 227.5,235.3 218.0,234.6" fill="#F08226" stroke="#F08226"/><polygon points="229.5,271.0 234.6,268.8 232.7,233.3 227.5,235.3" fill="#9e5619" stroke="#9e5619"/><polygon points="218.0,234.6 227.5,235.3 232.7,233.3 223.2,232.5" fill="#bb651e" stroke="#bb651e"/></g>
<g><polygon points="243.8,272.2 253.3,273.1 251.5,237.1 241.9,236.4" fill="#F08226" stroke="#F08226"/><polygon points="253.3,273.1 258.4,270.8 256.6,235.1 251.5,237.1" fill="#9e5619" stroke="#9e5619"/><polygon points="241.9,236.4 251.5,237.1 256.6,235.1 247.0,234.3" fill="#bb651e" stroke="#bb651e"/></g>
<g><polygon points="267.8,274.3 277.4,275.1 275.9,242.4 266.2,241.6" fill="#F08226" stroke="#F08226"/><polygon points="277.4,275.1 282.3,272.8 280.8,240.2 275.9,242.4" fill="#9e5619" stroke="#9e5619"/><polygon points="266.2,241.6 275.9,242.4 280.8,240.2 271.2,239.5" fill="#bb651e" stroke="#bb651e"/></g>
<g><polygon points="292.0,276.4 301.7,277.2 300.1,238.3 290.3,237.5" fill="#F08226" stroke="#F08226"/><polygon points="301.7,277.2 306.5,274.9 305.0,236.2 300.1,238.3" fill="#9e5619" stroke="#9e5619"/><polygon points="290.3,237.5 300.1,238.3 305.0,236.2 295.2,235.4" fill="#bb651e" stroke="#bb651e"/></g>
<g><polygon points="316.4,278.5 326.3,279.3 325.1,246.7 315.2,245.9" fill="#F08226" stroke="#F08226"/><polygon points="326.3,279.3 331.0,277.0 329.8,244.6 325.1,246.7" fill="#9e5619" stroke="#9e5619"/><polygon points="315.2,245.9 325.1,246.7 329.8,244.6 320.0,243.8" fill="#bb651e" stroke="#bb651e"/></g>
<g><polygon points="341.1,280.6 351.1,281.4 350.0,248.7 340.0,247.9" fill="#F08226" stroke="#F08226"/><polygon points="351.1,281.4 355.7,279.1 354.7,246.5 350.0,248.7" fill="#9e5619" stroke="#9e5619"/><polygon points="340.0,247.9 350.0,248.7 354.7,246.5 344.7,245.7" fill="#bb651e" stroke="#bb651e"/></g>
<g><polygon points="366.0,282.7 376.1,283.6 375.1,244.3 365.0,243.5" fill="#F08226" stroke="#F08226"/><polygon points="376.1,283.6 380.6,281.2 379.6,242.1 375.1,244.3" fill="#9e5619" stroke="#9e5619"/><polygon points="365.0,243.5 375.1,244.3 379.6,242.1 369.5,241.3" fill="#bb651e" stroke="#bb651e"/></g>
<g><polygon points="391.2,284.9 401.4,285.8 400.7,251.6 390.5,250.8" fill="#F08226" stroke="#F08226"/><polygon points="401.4,285.8 405.7,283.4 405.1,249.3 400.7,251.6" fill="#9e5619" stroke="#9e5619"/><polygon points="390.5,250.8 400.7,251.6 405.1,249.3 394.9,248.5" fill="#bb651e" stroke="#bb651e"/></g>
<g><polygon points="416.7,287.1 426.9,288.0 426.5,260.5 416.2,259.7" fill="#F08226" stroke="#F08226"/><polygon points="426.9,288.0 431.2,285.5 430.8,258.2 426.5,260.5" fill="#9e5619" stroke="#9e5619"/><polygon points="416.2,259.7 426.5,260.5 430.8,258.2 420.5,257.4" fill="#bb651e" stroke="#bb651e"/></g>
<g><polygon points="442.4,289.3 452.7,290.2 452.5,262.8 442.0,261.9" fill="#F08226" stroke="#F08226"/><polygon points="452.7,290.2 456.9,287.7 456.6,260.5 452.5,262.8" fill="#9e5619" stroke="#9e5619"/><polygon points="442.0,261.9 452.5,262.8 456.6,260.5 446.2,259.6" fill="#bb651e" stroke="#bb651e"/></g>
<g><polygon points="468.3,291.5 478.8,292.4 478.6,254.3 468.1,253.5" fill="#F08226" stroke="#F08226"/><polygon points="478.8,292.4 482.8,289.9 482.7,252.0 478.6,254.3" fill="#9e5619" stroke="#9e5619"/><polygon points="468.1,253.5 478.6,254.3 482.7,252.0 472.2,251.2" fill="#bb651e" stroke="#bb651e"/></g>
<g><polygon points="494.5,293.8 505.1,294.7 505.1,257.2 494.5,256.4" fill="#F08226" stroke="#F08226"/><polygon points="505.1,294.7 509.0,292.2 509.1,254.9 505.1,257.2" fill="#9e5619" stroke="#9e5619"/><polygon points="494.5,256.4 505.1,257.2 509.1,254.9 498.5,254.1" fill="#bb651e" stroke="#bb651e"/></g>
<g><polygon points="521.0,296.0 531.7,296.9 531.9,260.5 521.2,259.6" fill="#F08226" stroke="#F08226"/><polygon points="531.7,296.9 535.5,294.4 535.7,258.1 531.9,260.5" fill="#9e5619" stroke="#9e5619"/><polygon points="521.2,259.6 531.9,260.5 535.7,258.1 525.0,257.3" fill="#bb651e" stroke="#bb651e"/></g>
<g><polygon points="547.8,298.3 558.6,299.2 559.0,265.8 548.1,264.9" fill="#F08226" stroke="#F08226"/><polygon points="558.6,299.2 562.2,296.7 562.6,263.4 559.0,265.8" fill="#9e5619" stroke="#9e5619"/><polygon points="548.1,264.9 559.0,265.8 562.6,263.4 551.8,262.6" fill="#bb651e" stroke="#bb651e"/></g>
<g><polygon points="574.8,300.6 585.7,301.6 586.5,259.7 575.5,258.8" fill="#F08226" stroke="#F08226"/><polygon points="585.7,301.6 589.2,299.0 590.0,257.3 586.5,259.7" fill="#9e5619" stroke="#9e5619"/><polygon points="575.5,258.8 586.5,259.7 590.0,257.3 579.1,256.5" fill="#bb651e" stroke="#bb651e"/></g>
<g><polygon points="602.2,303.0 613.2,303.9 614.1,265.8 603.0,265.0" fill="#F08226" stroke="#F08226"/><polygon points="613.2,303.9 616.5,301.3 617.4,263.4 614.1,265.8" fill="#9e5619" stroke="#9e5619"/><polygon points="603.0,265.0 614.1,265.8 617.4,263.4 606.4,262.6" fill="#bb651e" stroke="#bb651e"/></g>
<g><polygon points="629.8,305.3 640.9,306.3 641.9,270.7 630.7,269.8" fill="#F08226" stroke="#F08226"/><polygon points="640.9,306.3 644.1,303.7 645.2,268.2 641.9,270.7" fill="#9e5619" stroke="#9e5619"/><polygon points="630.7,269.8 641.9,270.7 645.2,268.2 634.0,267.4" fill="#bb651e" stroke="#bb651e"/></g>
<g><polygon points="657.6,307.7 668.9,308.7 670.2,270.6 658.9,269.7" fill="#F08226" stroke="#F08226"/><polygon points="668.9,308.7 672.0,306.0 673.3,268.1 670.2,270.6" fill="#9e5619" stroke="#9e5619"/><polygon points="658.9,269.7 670.2,270.6 673.3,268.1 662.0,267.3" fill="#bb651e" stroke="#bb651e"/></g>
<g><polygon points="685.8,310.2 697.2,311.1 699.9,244.7 688.4,243.8" fill="#F08226" stroke="#F08226"/><polygon points="697.2,311.1 700.1,308.4 702.9,242.3 699.9,244.7" fill="#9e5619" stroke="#9e5619"/><polygon points="688.4,243.8 699.9,244.7 702.9,242.3 691.4,241.5" fill="#bb651e" stroke="#bb651e"/></g>
<g><polygon points="714.3,312.6 725.8,313.6 728.3,260.1 716.7,259.2" fill="#F08226" stroke="#F08226"/><polygon points="725.8,313.6 728.6,310.9 731.1,257.6 728.3,260.1" fill="#9e5619" stroke="#9e5619"/><polygon points="716.7,259.2 728.3,260.1 731.1,257.6 719.6,256.8" fill="#bb651e" stroke="#bb651e"/></g>
<g><polygon points="743.1,315.1 754.7,316.1 757.2,269.8 745.5,268.9" fill="#F08226" stroke="#F08226"/><polygon points="754.7,316.1 757.3,313.3 759.8,267.3 757.2,269.8" fill="#9e5619" stroke="#9e5619"/><polygon points="745.5,268.9 757.2,269.8 759.8,267.3 748.2,266.5" fill="#bb651e" stroke="#bb651e"/></g>
<g><polygon points="772.2,317.6 783.9,318.6 785.6,289.9 773.8,288.9" fill="#F08226" stroke="#F08226"/><polygon points="783.9,318.6 786.4,315.8 788.1,287.3 785.6,289.9" fill="#9e5619" stroke="#9e5619"/><polygon points="773.8,288.9 785.6,289.9 788.1,287.3 776.4,286.3" fill="#bb651e" stroke="#bb651e"/></g>
<g><polygon points="801.6,320.1 813.5,321.1 816.4,275.9 804.5,275.0" fill="#F08226" stroke="#F08226"/><polygon points="813.5,321.1 815.8,318.3 818.8,273.3 816.4,275.9" fill="#9e5619" stroke="#9e5619"/><polygon points="804.5,275.0 816.4,275.9 818.8,273.3 806.9,272.4" fill="#bb651e" stroke="#bb651e"/></g>
<g><polygon points="831.4,322.6 843.3,323.7 846.0,286.4 833.9,285.4" fill="#F08226" stroke="#F08226"/><polygon points="843.3,323.7 845.5,320.8 848.2,283.8 846.0,286.4" fill="#9e5619" stroke="#9e5619"/><polygon points="833.9,285.4 846.0,286.4 848.2,283.8 836.2,282.8" fill="#bb651e" stroke="#bb651e"/></g>
<g><polygon points="206.9,275.9 216.5,276.7 213.1,219.4 203.4,218.7" fill="#1E9AAE" stroke="#1E9AAE"/><polygon points="216.5,276.7 221.7,274.4 218.4,217.4 213.1,219.4" fill="#146673" stroke="#146673"/><polygon points="203.4,218.7 213.1,219.4 218.4,217.4 208.8,216.6" fill="#177888" stroke="#177888"/></g>
<g><polygon points="230.9,278.0 240.6,278.8 238.3,237.0 228.5,236.2" fill="#1E9AAE" stroke="#1E9AAE"/><polygon points="240.6,278.8 245.7,276.5 243.5,234.9 238.3,237.0" fill="#146673" stroke="#146673"/><polygon points="228.5,236.2 238.3,237.0 243.5,234.9 233.8,234.1" fill="#177888" stroke="#177888"/></g>
<g><polygon points="255.1,280.1 264.9,281.0 262.8,238.1 252.9,237.3" fill="#1E9AAE" stroke="#1E9AAE"/><polygon points="264.9,281.0 269.9,278.6 267.9,235.9 262.8,238.1" fill="#146673" stroke="#146673"/><polygon points="252.9,237.3 262.8,238.1 267.9,235.9 258.1,235.2" fill="#177888" stroke="#177888"/></g>
<g><polygon points="279.6,282.2 289.5,283.1 288.0,249.2 278.1,248.4" fill="#1E9AAE" stroke="#1E9AAE"/><polygon points="289.5,283.1 294.4,280.7 293.0,247.0 288.0,249.2" fill="#146673" stroke="#146673"/><polygon points="278.1,248.4 288.0,249.2 293.0,247.0 283.1,246.2" fill="#177888" stroke="#177888"/></g>
<g><polygon points="304.3,284.4 314.3,285.3 312.4,236.9 302.4,236.2" fill="#1E9AAE" stroke="#1E9AAE"/><polygon points="314.3,285.3 319.1,282.9 317.3,234.8 312.4,236.9" fill="#146673" stroke="#146673"/><polygon points="302.4,236.2 312.4,236.9 317.3,234.8 307.3,234.0" fill="#177888" stroke="#177888"/></g>
<g><polygon points="329.3,286.6 339.4,287.4 337.6,233.8 327.4,233.1" fill="#1E9AAE" stroke="#1E9AAE"/><polygon points="339.4,287.4 344.1,285.0 342.3,231.7 337.6,233.8" fill="#146673" stroke="#146673"/><polygon points="327.4,233.1 337.6,233.8 342.3,231.7 332.2,230.9" fill="#177888" stroke="#177888"/></g>
<g><polygon points="354.5,288.8 364.7,289.7 363.7,254.4 353.4,253.6" fill="#1E9AAE" stroke="#1E9AAE"/><polygon points="364.7,289.7 369.3,287.2 368.3,252.1 363.7,254.4" fill="#146673" stroke="#146673"/><polygon points="353.4,253.6 363.7,254.4 368.3,252.1 358.1,251.3" fill="#177888" stroke="#177888"/></g>
<g><polygon points="380.0,291.0 390.3,291.9 388.7,225.9 378.3,225.1" fill="#1E9AAE" stroke="#1E9AAE"/><polygon points="390.3,291.9 394.7,289.4 393.3,223.8 388.7,225.9" fill="#146673" stroke="#146673"/><polygon points="378.3,225.1 388.7,225.9 393.3,223.8 382.9,223.0" fill="#177888" stroke="#177888"/></g>
<g><polygon points="405.7,293.2 416.1,294.1 415.5,258.2 405.0,257.4" fill="#1E9AAE" stroke="#1E9AAE"/><polygon points="416.1,294.1 420.5,291.6 419.9,255.9 415.5,258.2" fill="#146673" stroke="#146673"/><polygon points="405.0,257.4 415.5,258.2 419.9,255.9 409.5,255.1" fill="#177888" stroke="#177888"/></g>
<g><polygon points="431.7,295.5 442.2,296.4 441.7,256.6 431.2,255.8" fill="#1E9AAE" stroke="#1E9AAE"/><polygon points="442.2,296.4 446.4,293.9 446.0,254.3 441.7,256.6" fill="#146673" stroke="#146673"/><polygon points="431.2,255.8 441.7,256.6 446.0,254.3 435.5,253.5" fill="#177888" stroke="#177888"/></g>
<g><polygon points="458.0,297.8 468.6,298.7 468.3,259.8 457.6,258.9" fill="#1E9AAE" stroke="#1E9AAE"/><polygon points="468.6,298.7 472.7,296.2 472.5,257.4 468.3,259.8" fill="#146673" stroke="#146673"/><polygon points="457.6,258.9 468.3,259.8 472.5,257.4 461.8,256.6" fill="#177888" stroke="#177888"/></g>
<g><polygon points="484.5,300.1 495.2,301.0 495.2,259.0 484.4,258.2" fill="#1E9AAE" stroke="#1E9AAE"/><polygon points="495.2,301.0 499.2,298.5 499.2,256.7 495.2,259.0" fill="#146673" stroke="#146673"/><polygon points="484.4,258.2 495.2,259.0 499.2,256.7 488.5,255.8" fill="#177888" stroke="#177888"/></g>
<g><polygon points="511.3,302.4 522.1,303.4 522.3,269.1 511.4,268.2" fill="#1E9AAE" stroke="#1E9AAE"/><polygon points="522.1,303.4 526.0,300.8 526.2,266.7 522.3,269.1" fill="#146673" stroke="#146673"/><polygon points="511.4,268.2 522.3,269.1 526.2,266.7 515.3,265.8" fill="#177888" stroke="#177888"/></g>
<g><polygon points="538.4,304.8 549.3,305.7 549.7,272.3 538.7,271.4" fill="#1E9AAE" stroke="#1E9AAE"/><polygon points="549.3,305.7 553.1,303.1 553.4,269.8 549.7,272.3" fill="#146673" stroke="#146673"/><polygon points="538.7,271.4 549.7,272.3 553.4,269.8 542.5,269.0" fill="#177888" stroke="#177888"/></g>
<g><polygon points="565.8,307.2 576.8,308.1 577.3,275.1 566.2,274.2" fill="#1E9AAE" stroke="#1E9AAE"/><polygon points="576.8,308.1 580.4,305.5 581.0,272.6 577.3,275.1" fill="#146673" stroke="#146673"/><polygon points="566.2,274.2 577.3,275.1 581.0,272.6 569.9,271.8" fill="#177888" stroke="#177888"/></g>
<g><polygon points="593.4,309.6 604.6,310.6 605.3,277.0 594.1,276.0" fill="#1E9AAE" stroke="#1E9AAE"/><polygon points="604.6,310.6 608.1,307.9 608.8,274.4 605.3,277.0" fill="#146673" stroke="#146673"/><polygon points="594.1,276.0 605.3,277.0 608.8,274.4 597.6,273.6" fill="#177888" stroke="#177888"/></g>
<g><polygon points="621.4,312.0 632.7,313.0 633.6,277.8 622.3,276.9" fill="#1E9AAE" stroke="#1E9AAE"/><polygon points="632.7,313.0 636.0,310.3 637.0,275.3 633.6,277.8" fill="#146673" stroke="#146673"/><polygon points="622.3,276.9 633.6,277.8 637.0,275.3 625.7,274.3" fill="#177888" stroke="#177888"/></g>
<g><polygon points="649.7,314.5 661.0,315.5 662.5,272.2 651.0,271.2" fill="#1E9AAE" stroke="#1E9AAE"/><polygon points="661.0,315.5 664.2,312.7 665.7,269.6 662.5,272.2" fill="#146673" stroke="#146673"/><polygon points="651.0,271.2 662.5,272.2 665.7,269.6 654.3,268.8" fill="#177888" stroke="#177888"/></g>
<g><polygon points="678.2,317.0 689.7,318.0 693.5,223.4 681.7,222.5" fill="#1E9AAE" stroke="#1E9AAE"/><polygon points="689.7,318.0 692.7,315.2 696.5,221.1 693.5,223.4" fill="#146673" stroke="#146673"/><polygon points="681.7,222.5 693.5,223.4 696.5,221.1 684.8,220.3" fill="#177888" stroke="#177888"/></g>
<g><polygon points="707.1,319.5 718.7,320.5 724.7,190.2 712.7,189.4" fill="#1E9AAE" stroke="#1E9AAE"/><polygon points="718.7,320.5 721.6,317.7 727.6,188.1 724.7,190.2" fill="#146673" stroke="#146673"/><polygon points="712.7,189.4 724.7,190.2 727.6,188.1 715.7,187.3" fill="#177888" stroke="#177888"/></g>
<g><polygon points="736.2,322.0 748.0,323.1 752.9,228.5 740.9,227.7" fill="#1E9AAE" stroke="#1E9AAE"/><polygon points="748.0,323.1 750.7,320.2 755.6,226.2 752.9,228.5" fill="#146673" stroke="#146673"/><polygon points="740.9,227.7 752.9,228.5 755.6,226.2 743.7,225.4" fill="#177888" stroke="#177888"/></g>
<g><polygon points="765.7,324.6 777.6,325.6 780.7,273.0 768.7,272.1" fill="#1E9AAE" stroke="#1E9AAE"/><polygon points="777.6,325.6 780.2,322.8 783.2,270.5 780.7,273.0" fill="#146673" stroke="#146673"/><polygon points="768.7,272.1 780.7,273.0 783.2,270.5 771.3,269.5" fill="#177888" stroke="#177888"/></g>
<g><polygon points="795.6,327.2 807.6,328.2 810.5,282.1 798.4,281.2" fill="#1E9AAE" stroke="#1E9AAE"/><polygon points="807.6,328.2 810.0,325.4 812.9,279.5 810.5,282.1" fill="#146673" stroke="#146673"/><polygon points="798.4,281.2 810.5,282.1 812.9,279.5 800.9,278.5" fill="#177888" stroke="#177888"/></g>
<g><polygon points="825.7,329.8 837.8,330.9 840.8,288.7 828.6,287.7" fill="#1E9AAE" stroke="#1E9AAE"/><polygon points="837.8,330.9 840.1,328.0 843.1,286.0 840.8,288.7" fill="#146673" stroke="#146673"/><polygon points="828.6,287.7 840.8,288.7 843.1,286.0 830.9,285.0" fill="#177888" stroke="#177888"/></g>
<g><polygon points="193.4,281.7 203.1,282.6 198.9,214.4 189.1,213.7" fill="#6E4A96" stroke="#6E4A96"/><polygon points="203.1,282.6 208.5,280.2 204.4,212.4 198.9,214.4" fill="#493163" stroke="#493163"/><polygon points="189.1,213.7 198.9,214.4 204.4,212.4 194.6,211.6" fill="#563a75" stroke="#563a75"/></g>
<g><polygon points="217.7,283.9 227.4,284.8 222.2,192.6 212.2,191.9" fill="#6E4A96" stroke="#6E4A96"/><polygon points="227.4,284.8 232.7,282.4 227.6,190.6 222.2,192.6" fill="#493163" stroke="#493163"/><polygon points="212.2,191.9 222.2,192.6 227.6,190.6 217.7,190.0" fill="#563a75" stroke="#563a75"/></g>
<g><polygon points="242.2,286.1 252.0,286.9 248.1,210.2 238.0,209.5" fill="#6E4A96" stroke="#6E4A96"/><polygon points="252.0,286.9 257.2,284.5 253.3,208.2 248.1,210.2" fill="#493163" stroke="#493163"/><polygon points="238.0,209.5 248.1,210.2 253.3,208.2 243.4,207.4" fill="#563a75" stroke="#563a75"/></g>
<g><polygon points="266.9,288.3 276.9,289.1 274.3,233.5 264.2,232.8" fill="#6E4A96" stroke="#6E4A96"/><polygon points="276.9,289.1 282.0,286.7 279.4,231.4 274.3,233.5" fill="#493163" stroke="#493163"/><polygon points="264.2,232.8 274.3,233.5 279.4,231.4 269.4,230.6" fill="#563a75" stroke="#563a75"/></g>
<g><polygon points="291.9,290.5 302.0,291.4 300.0,243.5 289.8,242.7" fill="#6E4A96" stroke="#6E4A96"/><polygon points="302.0,291.4 306.9,288.9 305.0,241.2 300.0,243.5" fill="#493163" stroke="#493163"/><polygon points="289.8,242.7 300.0,243.5 305.0,241.2 294.9,240.5" fill="#563a75" stroke="#563a75"/></g>
<g><polygon points="317.2,292.7 327.3,293.6 324.9,225.2 314.5,224.4" fill="#6E4A96" stroke="#6E4A96"/><polygon points="327.3,293.6 332.2,291.1 329.8,223.1 324.9,225.2" fill="#493163" stroke="#493163"/><polygon points="314.5,224.4 324.9,225.2 329.8,223.1 319.5,222.3" fill="#563a75" stroke="#563a75"/></g>
<g><polygon points="342.7,295.0 352.9,295.9 351.5,248.6 341.1,247.8" fill="#6E4A96" stroke="#6E4A96"/><polygon points="352.9,295.9 357.7,293.4 356.3,246.3 351.5,248.6" fill="#493163" stroke="#493163"/><polygon points="341.1,247.8 351.5,248.6 356.3,246.3 345.9,245.5" fill="#563a75" stroke="#563a75"/></g>
<g><polygon points="368.4,297.2 378.8,298.2 377.9,261.1 367.4,260.2" fill="#6E4A96" stroke="#6E4A96"/><polygon points="378.8,298.2 383.4,295.6 382.5,258.7 377.9,261.1" fill="#493163" stroke="#493163"/><polygon points="367.4,260.2 377.9,261.1 382.5,258.7 372.1,257.9" fill="#563a75" stroke="#563a75"/></g>
<g><polygon points="394.5,299.6 405.0,300.5 404.4,272.9 393.9,272.0" fill="#6E4A96" stroke="#6E4A96"/><polygon points="405.0,300.5 409.4,297.9 408.9,270.4 404.4,272.9" fill="#493163" stroke="#493163"/><polygon points="393.9,272.0 404.4,272.9 408.9,270.4 398.4,269.6" fill="#563a75" stroke="#563a75"/></g>
<g><polygon points="420.8,301.9 431.4,302.8 430.9,270.6 420.2,269.7" fill="#6E4A96" stroke="#6E4A96"/><polygon points="431.4,302.8 435.7,300.2 435.3,268.1 430.9,270.6" fill="#493163" stroke="#493163"/><polygon points="420.2,269.7 430.9,270.6 435.3,268.1 424.7,267.3" fill="#563a75" stroke="#563a75"/></g>
<g><polygon points="447.3,304.2 458.1,305.2 457.8,272.2 447.0,271.3" fill="#6E4A96" stroke="#6E4A96"/><polygon points="458.1,305.2 462.3,302.6 462.0,269.7 457.8,272.2" fill="#493163" stroke="#493163"/><polygon points="447.0,271.3 457.8,272.2 462.0,269.7 451.3,268.9" fill="#563a75" stroke="#563a75"/></g>
<g><polygon points="474.2,306.6 485.0,307.6 484.9,262.8 474.0,262.0" fill="#6E4A96" stroke="#6E4A96"/><polygon points="485.0,307.6 489.1,304.9 489.0,260.4 484.9,262.8" fill="#493163" stroke="#493163"/><polygon points="474.0,262.0 484.9,262.8 489.0,260.4 478.2,259.6" fill="#563a75" stroke="#563a75"/></g>
<g><polygon points="501.3,309.0 512.3,310.0 512.4,280.0 501.3,279.1" fill="#6E4A96" stroke="#6E4A96"/><polygon points="512.3,310.0 516.3,307.3 516.3,277.5 512.4,280.0" fill="#493163" stroke="#493163"/><polygon points="501.3,279.1 512.4,280.0 516.3,277.5 505.4,276.6" fill="#563a75" stroke="#563a75"/></g>
<g><polygon points="528.8,311.4 539.8,312.4 540.2,269.9 529.0,269.0" fill="#6E4A96" stroke="#6E4A96"/><polygon points="539.8,312.4 543.7,309.7 544.0,267.4 540.2,269.9" fill="#493163" stroke="#493163"/><polygon points="529.0,269.0 540.2,269.9 544.0,267.4 532.9,266.6" fill="#563a75" stroke="#563a75"/></g>
<g><polygon points="556.5,313.9 567.7,314.9 568.2,274.7 557.0,273.8" fill="#6E4A96" stroke="#6E4A96"/><polygon points="567.7,314.9 571.4,312.2 571.9,272.2 568.2,274.7" fill="#493163" stroke="#493163"/><polygon points="557.0,273.8 568.2,274.7 571.9,272.2 560.7,271.3" fill="#563a75" stroke="#563a75"/></g>
<g><polygon points="584.5,316.4 595.8,317.4 596.5,282.7 585.1,281.7" fill="#6E4A96" stroke="#6E4A96"/><polygon points="595.8,317.4 599.3,314.6 600.1,280.1 596.5,282.7" fill="#493163" stroke="#493163"/><polygon points="585.1,281.7 596.5,282.7 600.1,280.1 588.7,279.2" fill="#563a75" stroke="#563a75"/></g>
<g><polygon points="612.8,318.9 624.2,319.9 625.0,289.3 613.5,288.4" fill="#6E4A96" stroke="#6E4A96"/><polygon points="624.2,319.9 627.6,317.1 628.4,286.7 625.0,289.3" fill="#493163" stroke="#493163"/><polygon points="613.5,288.4 625.0,289.3 628.4,286.7 617.0,285.8" fill="#563a75" stroke="#563a75"/></g>
<g><polygon points="641.4,321.4 653.0,322.4 654.3,281.7 642.6,280.7" fill="#6E4A96" stroke="#6E4A96"/><polygon points="653.0,322.4 656.2,319.6 657.6,279.1 654.3,281.7" fill="#493163" stroke="#493163"/><polygon points="642.6,280.7 654.3,281.7 657.6,279.1 646.0,278.1" fill="#563a75" stroke="#563a75"/></g>
<g><polygon points="670.4,324.0 682.0,325.0 683.9,274.9 672.1,274.0" fill="#6E4A96" stroke="#6E4A96"/><polygon points="682.0,325.0 685.1,322.2 687.1,272.4 683.9,274.9" fill="#493163" stroke="#493163"/><polygon points="672.1,274.0 683.9,274.9 687.1,272.4 675.3,271.4" fill="#563a75" stroke="#563a75"/></g>
<g><polygon points="699.6,326.6 711.4,327.6 715.1,244.7 703.1,243.8" fill="#6E4A96" stroke="#6E4A96"/><polygon points="711.4,327.6 714.3,324.7 718.1,242.2 715.1,244.7" fill="#493163" stroke="#493163"/><polygon points="703.1,243.8 715.1,244.7 718.1,242.2 706.1,241.4" fill="#563a75" stroke="#563a75"/></g>
<g><polygon points="729.2,329.2 741.1,330.3 745.3,246.9 733.2,246.0" fill="#6E4A96" stroke="#6E4A96"/><polygon points="741.1,330.3 743.9,327.3 748.1,244.4 745.3,246.9" fill="#493163" stroke="#493163"/><polygon points="733.2,246.0 745.3,246.9 748.1,244.4 736.1,243.6" fill="#563a75" stroke="#563a75"/></g>
<g><polygon points="759.1,331.8 771.1,332.9 777.6,219.6 765.2,218.8" fill="#6E4A96" stroke="#6E4A96"/><polygon points="771.1,332.9 773.7,330.0 780.2,217.3 777.6,219.6" fill="#493163" stroke="#493163"/><polygon points="765.2,218.8 777.6,219.6 780.2,217.3 767.9,216.5" fill="#563a75" stroke="#563a75"/></g>
<g><polygon points="789.3,334.5 801.5,335.6 804.6,286.9 792.3,285.9" fill="#6E4A96" stroke="#6E4A96"/><polygon points="801.5,335.6 803.9,332.6 807.0,284.2 804.6,286.9" fill="#493163" stroke="#493163"/><polygon points="792.3,285.9 804.6,286.9 807.0,284.2 794.8,283.2" fill="#563a75" stroke="#563a75"/></g>
<g><polygon points="819.9,337.2 832.2,338.3 834.6,304.1 822.2,303.1" fill="#6E4A96" stroke="#6E4A96"/><polygon points="832.2,338.3 834.5,335.3 836.9,301.3 834.6,304.1" fill="#493163" stroke="#493163"/><polygon points="822.2,303.1 834.6,304.1 836.9,301.3 824.5,300.3" fill="#563a75" stroke="#563a75"/></g>
<g><polygon points="179.5,287.7 189.3,288.6 178.7,125.3 168.6,124.7" fill="#77A043" stroke="#77A043"/><polygon points="189.3,288.6 194.9,286.2 184.5,123.7 178.7,125.3" fill="#4f6a2c" stroke="#4f6a2c"/><polygon points="168.6,124.7 178.7,125.3 184.5,123.7 174.5,123.1" fill="#5d7d34" stroke="#5d7d34"/></g>
<g><polygon points="204.1,290.0 213.9,290.8 210.3,230.3 200.3,229.6" fill="#77A043" stroke="#77A043"/><polygon points="213.9,290.8 219.4,288.4 215.9,228.2 210.3,230.3" fill="#4f6a2c" stroke="#4f6a2c"/><polygon points="200.3,229.6 210.3,230.3 215.9,228.2 205.9,227.4" fill="#5d7d34" stroke="#5d7d34"/></g>
<g><polygon points="228.8,292.2 238.8,293.1 235.1,225.2 225.0,224.4" fill="#77A043" stroke="#77A043"/><polygon points="238.8,293.1 244.1,290.6 240.5,223.1 235.1,225.2" fill="#4f6a2c" stroke="#4f6a2c"/><polygon points="225.0,224.4 235.1,225.2 240.5,223.1 230.5,222.3" fill="#5d7d34" stroke="#5d7d34"/></g>
<g><polygon points="253.9,294.4 263.9,295.3 262.0,256.1 251.8,255.2" fill="#77A043" stroke="#77A043"/><polygon points="263.9,295.3 269.2,292.8 267.3,253.8 262.0,256.1" fill="#4f6a2c" stroke="#4f6a2c"/><polygon points="251.8,255.2 262.0,256.1 267.3,253.8 257.2,252.9" fill="#5d7d34" stroke="#5d7d34"/></g>
<g><polygon points="279.1,296.7 289.3,297.6 284.2,181.9 273.8,181.2" fill="#77A043" stroke="#77A043"/><polygon points="289.3,297.6 294.4,295.1 289.5,179.9 284.2,181.9" fill="#4f6a2c" stroke="#4f6a2c"/><polygon points="273.8,181.2 284.2,181.9 289.5,179.9 279.1,179.3" fill="#5d7d34" stroke="#5d7d34"/></g>
<g><polygon points="304.7,299.0 315.0,299.9 313.1,251.6 302.7,250.8" fill="#77A043" stroke="#77A043"/><polygon points="315.0,299.9 319.9,297.4 318.1,249.3 313.1,251.6" fill="#4f6a2c" stroke="#4f6a2c"/><polygon points="302.7,250.8 313.1,251.6 318.1,249.3 307.8,248.5" fill="#5d7d34" stroke="#5d7d34"/></g>
<g><polygon points="330.5,301.3 340.9,302.3 339.5,262.0 329.0,261.1" fill="#77A043" stroke="#77A043"/><polygon points="340.9,302.3 345.7,299.7 344.4,259.6 339.5,262.0" fill="#4f6a2c" stroke="#4f6a2c"/><polygon points="329.0,261.1 339.5,262.0 344.4,259.6 334.0,258.8" fill="#5d7d34" stroke="#5d7d34"/></g>
<g><polygon points="356.5,303.7 367.0,304.6 365.8,259.5 355.2,258.7" fill="#77A043" stroke="#77A043"/><polygon points="367.0,304.6 371.8,302.0 370.6,257.2 365.8,259.5" fill="#4f6a2c" stroke="#4f6a2c"/><polygon points="355.2,258.7 365.8,259.5 370.6,257.2 360.0,256.3" fill="#5d7d34" stroke="#5d7d34"/></g>
<g><polygon points="382.9,306.1 393.5,307.0 392.6,267.9 381.9,267.0" fill="#77A043" stroke="#77A043"/><polygon points="393.5,307.0 398.1,304.4 397.3,265.5 392.6,267.9" fill="#4f6a2c" stroke="#4f6a2c"/><polygon points="381.9,267.0 392.6,267.9 397.3,265.5 386.6,264.6" fill="#5d7d34" stroke="#5d7d34"/></g>
<g><polygon points="409.5,308.5 420.2,309.4 419.5,264.6 408.7,263.7" fill="#77A043" stroke="#77A043"/><polygon points="420.2,309.4 424.7,306.8 424.0,262.1 419.5,264.6" fill="#4f6a2c" stroke="#4f6a2c"/><polygon points="408.7,263.7 419.5,264.6 424.0,262.1 413.2,261.3" fill="#5d7d34" stroke="#5d7d34"/></g>
<g><polygon points="436.4,310.9 447.2,311.9 446.8,273.9 435.9,273.0" fill="#77A043" stroke="#77A043"/><polygon points="447.2,311.9 451.6,309.2 451.2,271.4 446.8,273.9" fill="#4f6a2c" stroke="#4f6a2c"/><polygon points="435.9,273.0 446.8,273.9 451.2,271.4 440.3,270.6" fill="#5d7d34" stroke="#5d7d34"/></g>
<g><polygon points="463.6,313.3 474.5,314.3 474.3,270.4 463.3,269.5" fill="#77A043" stroke="#77A043"/><polygon points="474.5,314.3 478.8,311.6 478.6,267.9 474.3,270.4" fill="#4f6a2c" stroke="#4f6a2c"/><polygon points="463.3,269.5 474.3,270.4 478.6,267.9 467.6,267.1" fill="#5d7d34" stroke="#5d7d34"/></g>
<g><polygon points="491.1,315.8 502.1,316.8 502.1,281.6 491.0,280.7" fill="#77A043" stroke="#77A043"/><polygon points="502.1,316.8 506.2,314.1 506.3,279.1 502.1,281.6" fill="#4f6a2c" stroke="#4f6a2c"/><polygon points="491.0,280.7 502.1,281.6 506.3,279.1 495.2,278.1" fill="#5d7d34" stroke="#5d7d34"/></g>
<g><polygon points="518.8,318.3 530.0,319.3 530.3,275.7 519.0,274.8" fill="#77A043" stroke="#77A043"/><polygon points="530.0,319.3 534.0,316.5 534.3,273.2 530.3,275.7" fill="#4f6a2c" stroke="#4f6a2c"/><polygon points="519.0,274.8 530.3,275.7 534.3,273.2 523.0,272.2" fill="#5d7d34" stroke="#5d7d34"/></g>
<g><polygon points="546.9,320.8 558.2,321.8 558.7,283.8 547.3,282.8" fill="#77A043" stroke="#77A043"/><polygon points="558.2,321.8 562.0,319.0 562.5,281.2 558.7,283.8" fill="#4f6a2c" stroke="#4f6a2c"/><polygon points="547.3,282.8 558.7,283.8 562.5,281.2 551.2,280.2" fill="#5d7d34" stroke="#5d7d34"/></g>
<g><polygon points="575.3,323.4 586.7,324.4 587.4,285.6 575.9,284.6" fill="#77A043" stroke="#77A043"/><polygon points="586.7,324.4 590.4,321.6 591.1,283.0 587.4,285.6" fill="#4f6a2c" stroke="#4f6a2c"/><polygon points="575.9,284.6 587.4,285.6 591.1,283.0 579.6,282.0" fill="#5d7d34" stroke="#5d7d34"/></g>
<g><polygon points="604.0,326.0 615.5,327.0 616.4,291.9 604.7,290.9" fill="#77A043" stroke="#77A043"/><polygon points="615.5,327.0 619.0,324.1 619.9,289.2 616.4,291.9" fill="#4f6a2c" stroke="#4f6a2c"/><polygon points="604.7,290.9 616.4,291.9 619.9,289.2 608.3,288.2" fill="#5d7d34" stroke="#5d7d34"/></g>
<g><polygon points="633.0,328.6 644.7,329.6 645.8,290.7 634.0,289.7" fill="#77A043" stroke="#77A043"/><polygon points="644.7,329.6 648.0,326.7 649.2,288.0 645.8,290.7" fill="#4f6a2c" stroke="#4f6a2c"/><polygon points="634.0,289.7 645.8,290.7 649.2,288.0 637.5,287.0" fill="#5d7d34" stroke="#5d7d34"/></g>
<g><polygon points="662.3,331.2 674.1,332.3 675.8,285.0 663.9,284.0" fill="#77A043" stroke="#77A043"/><polygon points="674.1,332.3 677.3,329.4 679.0,282.3 675.8,285.0" fill="#4f6a2c" stroke="#4f6a2c"/><polygon points="663.9,284.0 675.8,285.0 679.0,282.3 667.2,281.3" fill="#5d7d34" stroke="#5d7d34"/></g>
<g><polygon points="691.9,333.9 703.9,335.0 706.6,272.1 694.5,271.1" fill="#77A043" stroke="#77A043"/><polygon points="703.9,335.0 706.9,332.0 709.6,269.5 706.6,272.1" fill="#4f6a2c" stroke="#4f6a2c"/><polygon points="694.5,271.1 706.6,272.1 709.6,269.5 697.6,268.5" fill="#5d7d34" stroke="#5d7d34"/></g>
<g><polygon points="721.9,336.6 734.0,337.7 736.4,288.0 724.2,287.0" fill="#77A043" stroke="#77A043"/><polygon points="734.0,337.7 736.9,334.7 739.3,285.3 736.4,288.0" fill="#4f6a2c" stroke="#4f6a2c"/><polygon points="724.2,287.0 736.4,288.0 739.3,285.3 727.2,284.3" fill="#5d7d34" stroke="#5d7d34"/></g>
<g><polygon points="752.2,339.3 764.4,340.4 767.2,290.0 754.9,289.0" fill="#77A043" stroke="#77A043"/><polygon points="764.4,340.4 767.1,337.4 769.9,287.3 767.2,290.0" fill="#4f6a2c" stroke="#4f6a2c"/><polygon points="754.9,289.0 767.2,290.0 769.9,287.3 757.7,286.3" fill="#5d7d34" stroke="#5d7d34"/></g>
<g><polygon points="782.9,342.1 795.2,343.2 798.0,299.0 785.5,298.0" fill="#77A043" stroke="#77A043"/><polygon points="795.2,343.2 797.7,340.1 800.5,296.2 798.0,299.0" fill="#4f6a2c" stroke="#4f6a2c"/><polygon points="785.5,298.0 798.0,299.0 800.5,296.2 788.1,295.2" fill="#5d7d34" stroke="#5d7d34"/></g>
<g><polygon points="813.9,344.9 826.4,346.0 830.5,286.3 817.8,285.3" fill="#77A043" stroke="#77A043"/><polygon points="826.4,346.0 828.7,342.9 832.8,283.5 830.5,286.3" fill="#4f6a2c" stroke="#4f6a2c"/><polygon points="817.8,285.3 830.5,286.3 832.8,283.5 820.2,282.5" fill="#5d7d34" stroke="#5d7d34"/></g>
<g><polygon points="165.3,293.9 175.2,294.8 170.2,220.9 160.1,220.1" fill="#C0393B" stroke="#C0393B"/><polygon points="175.2,294.8 180.9,292.3 176.0,218.8 170.2,220.9" fill="#7f2627" stroke="#7f2627"/><polygon points="160.1,220.1 170.2,220.9 176.0,218.8 166.0,218.0" fill="#962c2e" stroke="#962c2e"/></g>
<g><polygon points="190.1,296.2 200.1,297.1 196.6,240.9 186.5,240.1" fill="#C0393B" stroke="#C0393B"/><polygon points="200.1,297.1 205.7,294.6 202.2,238.7 196.6,240.9" fill="#7f2627" stroke="#7f2627"/><polygon points="186.5,240.1 196.6,240.9 202.2,238.7 192.2,237.9" fill="#962c2e" stroke="#962c2e"/></g>
<g><polygon points="215.1,298.5 225.2,299.4 222.6,254.2 212.5,253.4" fill="#C0393B" stroke="#C0393B"/><polygon points="225.2,299.4 230.7,296.9 228.2,251.9 222.6,254.2" fill="#7f2627" stroke="#7f2627"/><polygon points="212.5,253.4 222.6,254.2 228.2,251.9 218.0,251.1" fill="#962c2e" stroke="#962c2e"/></g>
<g><polygon points="240.4,300.8 250.6,301.7 248.5,261.1 238.2,260.2" fill="#C0393B" stroke="#C0393B"/><polygon points="250.6,301.7 256.0,299.2 253.9,258.7 248.5,261.1" fill="#7f2627" stroke="#7f2627"/><polygon points="238.2,260.2 248.5,261.1 253.9,258.7 243.7,257.9" fill="#962c2e" stroke="#962c2e"/></g>
<g><polygon points="266.0,303.1 276.3,304.1 274.1,256.9 263.7,256.0" fill="#C0393B" stroke="#C0393B"/><polygon points="276.3,304.1 281.6,301.5 279.4,254.5 274.1,256.9" fill="#7f2627" stroke="#7f2627"/><polygon points="263.7,256.0 274.1,256.9 279.4,254.5 269.1,253.7" fill="#962c2e" stroke="#962c2e"/></g>
<g><polygon points="291.8,305.5 302.2,306.5 299.0,227.8 288.4,227.0" fill="#C0393B" stroke="#C0393B"/><polygon points="302.2,306.5 307.4,303.8 304.2,225.6 299.0,227.8" fill="#7f2627" stroke="#7f2627"/><polygon points="288.4,227.0 299.0,227.8 304.2,225.6 293.7,224.8" fill="#962c2e" stroke="#962c2e"/></g>
<g><polygon points="317.9,307.9 328.5,308.9 325.8,236.3 315.2,235.5" fill="#C0393B" stroke="#C0393B"/><polygon points="328.5,308.9 333.5,306.2 330.9,234.0 325.8,236.3" fill="#7f2627" stroke="#7f2627"/><polygon points="315.2,235.5 325.8,236.3 330.9,234.0 320.3,233.2" fill="#962c2e" stroke="#962c2e"/></g>
<g><polygon points="344.3,310.3 354.9,311.3 353.8,272.5 343.0,271.6" fill="#C0393B" stroke="#C0393B"/><polygon points="354.9,311.3 359.8,308.6 358.7,270.0 353.8,272.5" fill="#7f2627" stroke="#7f2627"/><polygon points="343.0,271.6 353.8,272.5 358.7,270.0 348.0,269.2" fill="#962c2e" stroke="#962c2e"/></g>
<g><polygon points="371.0,312.8 381.7,313.7 380.9,281.9 370.1,281.0" fill="#C0393B" stroke="#C0393B"/><polygon points="381.7,313.7 386.5,311.0 385.7,279.4 380.9,281.9" fill="#7f2627" stroke="#7f2627"/><polygon points="370.1,281.0 380.9,281.9 385.7,279.4 375.0,278.4" fill="#962c2e" stroke="#962c2e"/></g>
<g><polygon points="397.9,315.2 408.8,316.2 408.0,277.0 397.1,276.1" fill="#C0393B" stroke="#C0393B"/><polygon points="408.8,316.2 413.4,313.5 412.7,274.5 408.0,277.0" fill="#7f2627" stroke="#7f2627"/><polygon points="397.1,276.1 408.0,277.0 412.7,274.5 401.8,273.5" fill="#962c2e" stroke="#962c2e"/></g>
<g><polygon points="425.1,317.7 436.1,318.7 435.6,277.6 424.5,276.7" fill="#C0393B" stroke="#C0393B"/><polygon points="436.1,318.7 440.6,316.0 440.1,275.1 435.6,277.6" fill="#7f2627" stroke="#7f2627"/><polygon points="424.5,276.7 435.6,277.6 440.1,275.1 429.1,274.1" fill="#962c2e" stroke="#962c2e"/></g>
<g><polygon points="452.7,320.2 463.8,321.3 463.4,274.8 452.2,273.9" fill="#C0393B" stroke="#C0393B"/><polygon points="463.8,321.3 468.1,318.5 467.8,272.3 463.4,274.8" fill="#7f2627" stroke="#7f2627"/><polygon points="452.2,273.9 463.4,274.8 467.8,272.3 456.7,271.3" fill="#962c2e" stroke="#962c2e"/></g>
<g><polygon points="480.5,322.8 491.7,323.8 491.6,285.7 480.3,284.7" fill="#C0393B" stroke="#C0393B"/><polygon points="491.7,323.8 495.9,321.0 495.9,283.1 491.6,285.7" fill="#7f2627" stroke="#7f2627"/><polygon points="480.3,284.7 491.6,285.7 495.9,283.1 484.6,282.1" fill="#962c2e" stroke="#962c2e"/></g>
<g><polygon points="508.6,325.4 519.9,326.4 520.1,283.6 508.7,282.6" fill="#C0393B" stroke="#C0393B"/><polygon points="519.9,326.4 524.0,323.5 524.2,281.0 520.1,283.6" fill="#7f2627" stroke="#7f2627"/><polygon points="508.7,282.6 520.1,283.6 524.2,281.0 512.8,280.0" fill="#962c2e" stroke="#962c2e"/></g>
<g><polygon points="537.0,328.0 548.5,329.0 548.9,288.9 537.3,287.9" fill="#C0393B" stroke="#C0393B"/><polygon points="548.5,329.0 552.4,326.1 552.9,286.2 548.9,288.9" fill="#7f2627" stroke="#7f2627"/><polygon points="537.3,287.9 548.9,288.9 552.9,286.2 541.4,285.2" fill="#962c2e" stroke="#962c2e"/></g>
<g><polygon points="565.8,330.6 577.4,331.7 578.0,294.9 566.3,293.9" fill="#C0393B" stroke="#C0393B"/><polygon points="577.4,331.7 581.1,328.7 581.8,292.2 578.0,294.9" fill="#7f2627" stroke="#7f2627"/><polygon points="566.3,293.9 578.0,294.9 581.8,292.2 570.1,291.2" fill="#962c2e" stroke="#962c2e"/></g>
<g><polygon points="594.8,333.3 606.6,334.3 607.3,300.5 595.5,299.5" fill="#C0393B" stroke="#C0393B"/><polygon points="606.6,334.3 610.2,331.4 611.0,297.7 607.3,300.5" fill="#7f2627" stroke="#7f2627"/><polygon points="595.5,299.5 607.3,300.5 611.0,297.7 599.2,296.7" fill="#962c2e" stroke="#962c2e"/></g>
<g><polygon points="624.2,336.0 636.1,337.0 637.1,302.8 625.1,301.8" fill="#C0393B" stroke="#C0393B"/><polygon points="636.1,337.0 639.5,334.0 640.5,300.0 637.1,302.8" fill="#7f2627" stroke="#7f2627"/><polygon points="625.1,301.8 637.1,302.8 640.5,300.0 628.7,299.0" fill="#962c2e" stroke="#962c2e"/></g>
<g><polygon points="654.0,338.7 665.9,339.8 667.4,298.2 655.3,297.2" fill="#C0393B" stroke="#C0393B"/><polygon points="665.9,339.8 669.2,336.7 670.7,295.4 667.4,298.2" fill="#7f2627" stroke="#7f2627"/><polygon points="655.3,297.2 667.4,298.2 670.7,295.4 658.7,294.4" fill="#962c2e" stroke="#962c2e"/></g>
<g><polygon points="684.0,341.4 696.1,342.5 698.1,294.7 685.8,293.7" fill="#C0393B" stroke="#C0393B"/><polygon points="696.1,342.5 699.2,339.5 701.2,291.9 698.1,294.7" fill="#7f2627" stroke="#7f2627"/><polygon points="685.8,293.7 698.1,294.7 701.2,291.9 689.1,290.9" fill="#962c2e" stroke="#962c2e"/></g>
<g><polygon points="714.4,344.2 726.6,345.3 728.6,303.7 716.3,302.6" fill="#C0393B" stroke="#C0393B"/><polygon points="726.6,345.3 729.6,342.2 731.6,300.8 728.6,303.7" fill="#7f2627" stroke="#7f2627"/><polygon points="716.3,302.6 728.6,303.7 731.6,300.8 719.3,299.8" fill="#962c2e" stroke="#962c2e"/></g>
<g><polygon points="745.1,347.0 757.5,348.2 759.7,308.8 747.2,307.8" fill="#C0393B" stroke="#C0393B"/><polygon points="757.5,348.2 760.3,345.0 762.5,305.9 759.7,308.8" fill="#7f2627" stroke="#7f2627"/><polygon points="747.2,307.8 759.7,308.8 762.5,305.9 750.0,304.9" fill="#962c2e" stroke="#962c2e"/></g>
<g><polygon points="776.2,349.9 788.8,351.0 791.6,303.7 779.0,302.7" fill="#C0393B" stroke="#C0393B"/><polygon points="788.8,351.0 791.4,347.9 794.2,300.8 791.6,303.7" fill="#7f2627" stroke="#7f2627"/><polygon points="779.0,302.7 791.6,303.7 794.2,300.8 781.7,299.8" fill="#962c2e" stroke="#962c2e"/></g>
<g><polygon points="807.7,352.8 820.3,353.9 824.6,291.5 811.7,290.4" fill="#C0393B" stroke="#C0393B"/><polygon points="820.3,353.9 822.8,350.7 827.0,288.6 824.6,291.5" fill="#7f2627" stroke="#7f2627"/><polygon points="811.7,290.4 824.6,291.5 827.0,288.6 814.2,287.6" fill="#962c2e" stroke="#962c2e"/></g>
<g><polygon points="150.7,300.3 160.7,301.2 147.7,118.0 137.3,117.4" fill="#1F6BA8" stroke="#1F6BA8"/><polygon points="160.7,301.2 166.5,298.6 153.8,116.4 147.7,118.0" fill="#14476f" stroke="#14476f"/><polygon points="137.3,117.4 147.7,118.0 153.8,116.4 143.5,115.8" fill="#185383" stroke="#185383"/></g>
<g><polygon points="175.7,302.6 185.8,303.5 181.4,235.6 171.1,234.8" fill="#1F6BA8" stroke="#1F6BA8"/><polygon points="185.8,303.5 191.6,300.9 187.2,233.4 181.4,235.6" fill="#14476f" stroke="#14476f"/><polygon points="171.1,234.8 181.4,235.6 187.2,233.4 177.0,232.6" fill="#185383" stroke="#185383"/></g>
<g><polygon points="201.0,305.0 211.3,305.9 201.0,135.6 190.4,135.0" fill="#1F6BA8" stroke="#1F6BA8"/><polygon points="211.3,305.9 216.9,303.3 206.9,133.9 201.0,135.6" fill="#14476f" stroke="#14476f"/><polygon points="190.4,135.0 201.0,135.6 206.9,133.9 196.4,133.3" fill="#185383" stroke="#185383"/></g>
<g><polygon points="226.6,307.3 236.9,308.3 229.4,171.9 218.8,171.2" fill="#1F6BA8" stroke="#1F6BA8"/><polygon points="236.9,308.3 242.5,305.6 235.2,169.9 229.4,171.9" fill="#14476f" stroke="#14476f"/><polygon points="218.8,171.2 229.4,171.9 235.2,169.9 224.6,169.3" fill="#185383" stroke="#185383"/></g>
<g><polygon points="252.5,309.7 262.9,310.7 255.5,160.7 244.7,160.0" fill="#1F6BA8" stroke="#1F6BA8"/><polygon points="262.9,310.7 268.3,308.0 261.1,158.8 255.5,160.7" fill="#14476f" stroke="#14476f"/><polygon points="244.7,160.0 255.5,160.7 261.1,158.8 250.4,158.2" fill="#185383" stroke="#185383"/></g>
<g><polygon points="278.6,312.2 289.2,313.2 287.2,269.0 276.6,268.1" fill="#1F6BA8" stroke="#1F6BA8"/><polygon points="289.2,313.2 294.4,310.5 292.5,266.5 287.2,269.0" fill="#14476f" stroke="#14476f"/><polygon points="276.6,268.1 287.2,269.0 292.5,266.5 282.0,265.7" fill="#185383" stroke="#185383"/></g>
<g><polygon points="305.0,314.6 315.7,315.6 313.0,245.2 302.2,244.3" fill="#1F6BA8" stroke="#1F6BA8"/><polygon points="315.7,315.6 320.8,312.9 318.2,242.8 313.0,245.2" fill="#14476f" stroke="#14476f"/><polygon points="302.2,244.3 313.0,245.2 318.2,242.8 307.5,242.0" fill="#185383" stroke="#185383"/></g>
<g><polygon points="331.7,317.1 342.5,318.1 340.4,254.8 329.5,253.9" fill="#1F6BA8" stroke="#1F6BA8"/><polygon points="342.5,318.1 347.5,315.4 345.5,252.3 340.4,254.8" fill="#14476f" stroke="#14476f"/><polygon points="329.5,253.9 340.4,254.8 345.5,252.3 334.7,251.5" fill="#185383" stroke="#185383"/></g>
<g><polygon points="358.7,319.6 369.6,320.7 367.2,233.9 356.1,233.1" fill="#1F6BA8" stroke="#1F6BA8"/><polygon points="369.6,320.7 374.5,317.9 372.2,231.6 367.2,233.9" fill="#14476f" stroke="#14476f"/><polygon points="356.1,233.1 367.2,233.9 372.2,231.6 361.2,230.8" fill="#185383" stroke="#185383"/></g>
<g><polygon points="386.0,322.2 397.0,323.2 395.3,246.1 384.1,245.3" fill="#1F6BA8" stroke="#1F6BA8"/><polygon points="397.0,323.2 401.7,320.4 400.1,243.7 395.3,246.1" fill="#14476f" stroke="#14476f"/><polygon points="384.1,245.3 395.3,246.1 400.1,243.7 389.0,242.9" fill="#185383" stroke="#185383"/></g>
<g><polygon points="413.5,324.8 424.7,325.8 423.8,274.8 412.6,273.9" fill="#1F6BA8" stroke="#1F6BA8"/><polygon points="424.7,325.8 429.3,322.9 428.5,272.3 423.8,274.8" fill="#14476f" stroke="#14476f"/><polygon points="412.6,273.9 423.8,274.8 428.5,272.3 417.4,271.3" fill="#185383" stroke="#185383"/></g>
<g><polygon points="441.4,327.3 452.6,328.4 452.0,259.2 440.6,258.2" fill="#1F6BA8" stroke="#1F6BA8"/><polygon points="452.6,328.4 457.1,325.5 456.5,256.6 452.0,259.2" fill="#14476f" stroke="#14476f"/><polygon points="440.6,258.2 452.0,259.2 456.5,256.6 445.2,255.8" fill="#185383" stroke="#185383"/></g>
<g><polygon points="469.6,330.0 480.9,331.0 480.8,287.5 469.3,286.5" fill="#1F6BA8" stroke="#1F6BA8"/><polygon points="480.9,331.0 485.3,328.1 485.1,284.8 480.8,287.5" fill="#14476f" stroke="#14476f"/><polygon points="469.3,286.5 480.8,287.5 485.1,284.8 473.7,283.8" fill="#185383" stroke="#185383"/></g>
<g><polygon points="498.1,332.6 509.6,333.7 509.6,298.2 498.1,297.2" fill="#1F6BA8" stroke="#1F6BA8"/><polygon points="509.6,333.7 513.8,330.8 513.8,295.5 509.6,298.2" fill="#14476f" stroke="#14476f"/><polygon points="498.1,297.2 509.6,298.2 513.8,295.5 502.3,294.5" fill="#185383" stroke="#185383"/></g>
<g><polygon points="526.9,335.3 538.5,336.4 538.9,290.3 527.1,289.3" fill="#1F6BA8" stroke="#1F6BA8"/><polygon points="538.5,336.4 542.5,333.4 542.9,287.6 538.9,290.3" fill="#14476f" stroke="#14476f"/><polygon points="527.1,289.3 538.9,290.3 542.9,287.6 531.3,286.6" fill="#185383" stroke="#185383"/></g>
<g><polygon points="556.0,338.0 567.7,339.1 568.4,289.6 556.6,288.6" fill="#1F6BA8" stroke="#1F6BA8"/><polygon points="567.7,339.1 571.6,336.1 572.4,286.9 568.4,289.6" fill="#14476f" stroke="#14476f"/><polygon points="556.6,288.6 568.4,289.6 572.4,286.9 560.6,285.9" fill="#185383" stroke="#185383"/></g>
<g><polygon points="585.5,340.8 597.3,341.9 598.1,303.4 586.1,302.4" fill="#1F6BA8" stroke="#1F6BA8"/><polygon points="597.3,341.9 601.1,338.8 601.9,300.6 598.1,303.4" fill="#14476f" stroke="#14476f"/><polygon points="586.1,302.4 598.1,303.4 601.9,300.6 590.0,299.6" fill="#185383" stroke="#185383"/></g>
<g><polygon points="615.2,343.5 627.2,344.7 628.6,292.7 616.5,291.7" fill="#1F6BA8" stroke="#1F6BA8"/><polygon points="627.2,344.7 630.8,341.6 632.2,289.9 628.6,292.7" fill="#14476f" stroke="#14476f"/><polygon points="616.5,291.7 628.6,292.7 632.2,289.9 620.2,288.9" fill="#185383" stroke="#185383"/></g>
<g><polygon points="645.4,346.4 657.5,347.5 659.0,301.9 646.8,300.8" fill="#1F6BA8" stroke="#1F6BA8"/><polygon points="657.5,347.5 660.9,344.4 662.4,299.0 659.0,301.9" fill="#14476f" stroke="#14476f"/><polygon points="646.8,300.8 659.0,301.9 662.4,299.0 650.2,298.0" fill="#185383" stroke="#185383"/></g>
<g><polygon points="675.8,349.2 688.1,350.3 690.9,279.3 678.5,278.3" fill="#1F6BA8" stroke="#1F6BA8"/><polygon points="688.1,350.3 691.3,347.2 694.2,276.6 690.9,279.3" fill="#14476f" stroke="#14476f"/><polygon points="678.5,278.3 690.9,279.3 694.2,276.6 681.8,275.6" fill="#185383" stroke="#185383"/></g>
<g><polygon points="706.7,352.1 719.1,353.2 723.0,269.1 710.3,268.1" fill="#1F6BA8" stroke="#1F6BA8"/><polygon points="719.1,353.2 722.1,350.0 726.0,266.4 723.0,269.1" fill="#14476f" stroke="#14476f"/><polygon points="710.3,268.1 723.0,269.1 726.0,266.4 713.5,265.4" fill="#185383" stroke="#185383"/></g>
<g><polygon points="737.8,355.0 750.4,356.1 754.9,270.4 742.1,269.4" fill="#1F6BA8" stroke="#1F6BA8"/><polygon points="750.4,356.1 753.3,352.9 757.8,267.7 754.9,270.4" fill="#14476f" stroke="#14476f"/><polygon points="742.1,269.4 754.9,270.4 757.8,267.7 745.1,266.7" fill="#185383" stroke="#185383"/></g>
<g><polygon points="769.4,357.9 782.1,359.1 785.8,296.5 772.9,295.5" fill="#1F6BA8" stroke="#1F6BA8"/><polygon points="782.1,359.1 784.8,355.8 788.5,293.6 785.8,296.5" fill="#14476f" stroke="#14476f"/><polygon points="772.9,295.5 785.8,296.5 788.5,293.6 775.7,292.6" fill="#185383" stroke="#185383"/></g>
<g><polygon points="801.3,360.9 814.1,362.1 820.4,267.9 807.2,267.0" fill="#1F6BA8" stroke="#1F6BA8"/><polygon points="814.1,362.1 816.6,358.8 822.9,265.2 820.4,267.9" fill="#14476f" stroke="#14476f"/><polygon points="807.2,267.0 820.4,267.9 822.9,265.2 809.8,264.2" fill="#185383" stroke="#185383"/></g>
<rect x="981" y="66.2" width="7" height="5" fill="#1F6BA8"/>
<text transform="translate(991.6,72.0) scale(1.28,1)" text-anchor="start" class="lg">A</text>
<rect x="981" y="84.1" width="7" height="5" fill="#C0393B"/>
<text transform="translate(991.6,89.9) scale(1.28,1)" text-anchor="start" class="lg">B</text>
<rect x="981" y="101.9" width="7" height="5" fill="#77A043"/>
<text transform="translate(991.6,107.7) scale(1.28,1)" text-anchor="start" class="lg">C</text>
<rect x="981" y="119.8" width="7" height="5" fill="#6E4A96"/>
<text transform="translate(991.6,125.6) scale(1.28,1)" text-anchor="start" class="lg">D</text>
<rect x="981" y="137.6" width="7" height="5" fill="#1E9AAE"/>
<text transform="translate(991.6,143.4) scale(1.28,1)" text-anchor="start" class="lg">E</text>
<rect x="981" y="155.5" width="7" height="5" fill="#F08226"/>
<text transform="translate(991.6,161.3) scale(1.28,1)" text-anchor="start" class="lg">F</text>
<rect x="981" y="173.4" width="7" height="5" fill="#2A82CC"/>
<text transform="translate(991.6,179.2) scale(1.28,1)" text-anchor="start" class="lg">G</text>
<rect x="981" y="191.2" width="7" height="5" fill="#E2443F"/>
<text transform="translate(991.6,197.0) scale(1.28,1)" text-anchor="start" class="lg">H</text>
<rect x="981" y="209.1" width="7" height="5" fill="#8CC63E"/>
<text transform="translate(991.6,214.9) scale(1.28,1)" text-anchor="start" class="lg">I</text>
<rect x="981" y="226.9" width="7" height="5" fill="#8A5CB0"/>
<text transform="translate(991.6,232.7) scale(1.28,1)" text-anchor="start" class="lg">J</text>
<rect x="981" y="244.8" width="7" height="5" fill="#1CBCD8"/>
<text transform="translate(991.6,250.6) scale(1.28,1)" text-anchor="start" class="lg">K</text>
<rect x="981" y="262.7" width="7" height="5" fill="#F9A540"/>
<text transform="translate(991.6,268.5) scale(1.28,1)" text-anchor="start" class="lg">L</text>
<rect x="981" y="280.5" width="7" height="5" fill="#A8C2E4"/>
<text transform="translate(991.6,286.3) scale(1.28,1)" text-anchor="start" class="lg">M</text>
<rect x="981" y="298.4" width="7" height="5" fill="#F2B3B1"/>
<text transform="translate(991.6,304.2) scale(1.28,1)" text-anchor="start" class="lg">N</text>
<rect x="981" y="316.2" width="7" height="5" fill="#C6E0B2"/>
<text transform="translate(991.6,322.0) scale(1.28,1)" text-anchor="start" class="lg">O</text>
<rect x="981" y="334.1" width="7" height="5" fill="#C5B6D8"/>
<text transform="translate(991.6,339.9) scale(1.28,1)" text-anchor="start" class="lg">P</text>
<polyline points="138.8,686.6 336.5,602.5 901.7,643.4" fill="none" stroke="#ababab" stroke-width="1.2"/>
<polyline points="136.6,658.7 335.6,579.4 903.7,618.1" fill="none" stroke="#ababab" stroke-width="1.2"/>
<polyline points="134.4,630.6 334.8,556.1 905.8,592.5" fill="none" stroke="#ababab" stroke-width="1.2"/>
<polyline points="132.1,602.1 333.9,532.5 907.9,566.6" fill="none" stroke="#ababab" stroke-width="1.2"/>
<polyline points="129.8,573.3 333.0,508.8 910.1,540.4" fill="none" stroke="#ababab" stroke-width="1.2"/>
<polyline points="127.5,544.1 332.1,484.8 912.2,513.9" fill="none" stroke="#ababab" stroke-width="1.2"/>
<polyline points="125.1,514.6 331.2,460.5 914.4,487.2" fill="none" stroke="#ababab" stroke-width="1.2"/>
<polyline points="122.8,484.7 330.3,436.1 916.6,460.1" fill="none" stroke="#ababab" stroke-width="1.2"/>
<polyline points="120.4,454.5 329.4,411.3 918.8,432.8" fill="none" stroke="#ababab" stroke-width="1.2"/>
<line x1="138.8" y1="686.6" x2="120.4" y2="454.5" stroke="#8c8c8c" stroke-width="1"/>
<line x1="138.8" y1="686.6" x2="133.3" y2="686.0" stroke="#8c8c8c" stroke-width="1"/>
<text transform="translate(125.8,689.9) scale(1.28,1)" text-anchor="end" class="tl">0</text>
<line x1="136.6" y1="658.7" x2="131.1" y2="658.3" stroke="#8c8c8c" stroke-width="1"/>
<text transform="translate(123.6,662.0) scale(1.28,1)" text-anchor="end" class="tl">0.05</text>
<line x1="134.4" y1="630.6" x2="128.8" y2="630.1" stroke="#8c8c8c" stroke-width="1"/>
<text transform="translate(121.4,633.9) scale(1.28,1)" text-anchor="end" class="tl">0.1</text>
<line x1="132.1" y1="602.1" x2="126.5" y2="601.7" stroke="#8c8c8c" stroke-width="1"/>
<text transform="translate(119.1,605.4) scale(1.28,1)" text-anchor="end" class="tl">0.15</text>
<line x1="129.8" y1="573.3" x2="124.2" y2="572.9" stroke="#8c8c8c" stroke-width="1"/>
<text transform="translate(116.8,576.6) scale(1.28,1)" text-anchor="end" class="tl">0.2</text>
<line x1="127.5" y1="544.1" x2="121.8" y2="543.8" stroke="#8c8c8c" stroke-width="1"/>
<text transform="translate(114.5,547.4) scale(1.28,1)" text-anchor="end" class="tl">0.25</text>
<line x1="125.1" y1="514.6" x2="119.4" y2="514.3" stroke="#8c8c8c" stroke-width="1"/>
<text transform="translate(112.1,517.9) scale(1.28,1)" text-anchor="end" class="tl">0.3</text>
<line x1="122.8" y1="484.7" x2="117.0" y2="484.4" stroke="#8c8c8c" stroke-width="1"/>
<text transform="translate(109.8,488.0) scale(1.28,1)" text-anchor="end" class="tl">0.35</text>
<line x1="120.4" y1="454.5" x2="114.6" y2="454.2" stroke="#8c8c8c" stroke-width="1"/>
<text transform="translate(107.4,457.8) scale(1.28,1)" text-anchor="end" class="tl">0.4</text>
<line x1="138.8" y1="686.6" x2="821.6" y2="749.3" stroke="#8c8c8c" stroke-width="1"/>
<line x1="138.8" y1="686.6" x2="138.8" y2="689.6" stroke="#8c8c8c" stroke-width="1"/>
<line x1="164.0" y1="688.9" x2="164.0" y2="691.9" stroke="#8c8c8c" stroke-width="1"/>
<line x1="189.5" y1="691.2" x2="189.5" y2="694.2" stroke="#8c8c8c" stroke-width="1"/>
<line x1="215.2" y1="693.6" x2="215.2" y2="696.6" stroke="#8c8c8c" stroke-width="1"/>
<line x1="241.2" y1="696.0" x2="241.2" y2="699.0" stroke="#8c8c8c" stroke-width="1"/>
<line x1="267.4" y1="698.4" x2="267.4" y2="701.4" stroke="#8c8c8c" stroke-width="1"/>
<line x1="293.9" y1="700.8" x2="293.9" y2="703.8" stroke="#8c8c8c" stroke-width="1"/>
<line x1="320.7" y1="703.3" x2="320.7" y2="706.3" stroke="#8c8c8c" stroke-width="1"/>
<line x1="347.7" y1="705.7" x2="347.7" y2="708.7" stroke="#8c8c8c" stroke-width="1"/>
<line x1="375.1" y1="708.3" x2="375.1" y2="711.3" stroke="#8c8c8c" stroke-width="1"/>
<line x1="402.7" y1="710.8" x2="402.7" y2="713.8" stroke="#8c8c8c" stroke-width="1"/>
<line x1="430.6" y1="713.4" x2="430.6" y2="716.4" stroke="#8c8c8c" stroke-width="1"/>
<line x1="458.7" y1="715.9" x2="458.7" y2="718.9" stroke="#8c8c8c" stroke-width="1"/>
<line x1="487.2" y1="718.6" x2="487.2" y2="721.6" stroke="#8c8c8c" stroke-width="1"/>
<line x1="516.0" y1="721.2" x2="516.0" y2="724.2" stroke="#8c8c8c" stroke-width="1"/>
<line x1="545.1" y1="723.9" x2="545.1" y2="726.9" stroke="#8c8c8c" stroke-width="1"/>
<line x1="574.5" y1="726.6" x2="574.5" y2="729.6" stroke="#8c8c8c" stroke-width="1"/>
<line x1="604.3" y1="729.3" x2="604.3" y2="732.3" stroke="#8c8c8c" stroke-width="1"/>
<line x1="634.3" y1="732.1" x2="634.3" y2="735.1" stroke="#8c8c8c" stroke-width="1"/>
<line x1="664.7" y1="734.9" x2="664.7" y2="737.9" stroke="#8c8c8c" stroke-width="1"/>
<line x1="695.4" y1="737.7" x2="695.4" y2="740.7" stroke="#8c8c8c" stroke-width="1"/>
<line x1="726.4" y1="740.5" x2="726.4" y2="743.5" stroke="#8c8c8c" stroke-width="1"/>
<line x1="757.8" y1="743.4" x2="757.8" y2="746.4" stroke="#8c8c8c" stroke-width="1"/>
<line x1="789.5" y1="746.3" x2="789.5" y2="749.3" stroke="#8c8c8c" stroke-width="1"/>
<line x1="821.6" y1="749.3" x2="821.6" y2="752.3" stroke="#8c8c8c" stroke-width="1"/>
<text transform="translate(151.4,703.3) scale(1.28,1)" text-anchor="middle" class="xl">1</text>
<text transform="translate(176.7,705.6) scale(1.28,1)" text-anchor="middle" class="xl">2</text>
<text transform="translate(202.3,708.0) scale(1.28,1)" text-anchor="middle" class="xl">3</text>
<text transform="translate(228.2,710.4) scale(1.28,1)" text-anchor="middle" class="xl">4</text>
<text transform="translate(254.3,712.8) scale(1.28,1)" text-anchor="middle" class="xl">5</text>
<text transform="translate(280.6,715.2) scale(1.28,1)" text-anchor="middle" class="xl">6</text>
<text transform="translate(307.3,717.6) scale(1.28,1)" text-anchor="middle" class="xl">7</text>
<text transform="translate(334.2,720.1) scale(1.28,1)" text-anchor="middle" class="xl">8</text>
<text transform="translate(361.4,722.6) scale(1.28,1)" text-anchor="middle" class="xl">9</text>
<text transform="translate(388.8,725.1) scale(1.28,1)" text-anchor="middle" class="xl">10</text>
<text transform="translate(416.6,727.7) scale(1.28,1)" text-anchor="middle" class="xl">11</text>
<text transform="translate(444.6,730.2) scale(1.28,1)" text-anchor="middle" class="xl">12</text>
<text transform="translate(473.0,732.8) scale(1.28,1)" text-anchor="middle" class="xl">13</text>
<text transform="translate(501.6,735.5) scale(1.28,1)" text-anchor="middle" class="xl">14</text>
<text transform="translate(530.5,738.1) scale(1.28,1)" text-anchor="middle" class="xl">15</text>
<text transform="translate(559.8,740.8) scale(1.28,1)" text-anchor="middle" class="xl">16</text>
<text transform="translate(589.3,743.5) scale(1.28,1)" text-anchor="middle" class="xl">17</text>
<text transform="translate(619.2,746.3) scale(1.28,1)" text-anchor="middle" class="xl">18</text>
<text transform="translate(649.4,749.1) scale(1.28,1)" text-anchor="middle" class="xl">19</text>
<text transform="translate(680.0,751.9) scale(1.28,1)" text-anchor="middle" class="xl">20</text>
<text transform="translate(710.9,754.7) scale(1.28,1)" text-anchor="middle" class="xl">21</text>
<text transform="translate(742.1,757.6) scale(1.28,1)" text-anchor="middle" class="xl">22</text>
<text transform="translate(773.6,760.5) scale(1.28,1)" text-anchor="middle" class="xl">23</text>
<text transform="translate(805.5,763.4) scale(1.28,1)" text-anchor="middle" class="xl">24</text>
<line x1="821.6" y1="749.3" x2="901.7" y2="643.4" stroke="#8c8c8c" stroke-width="1"/>
<line x1="821.6" y1="749.3" x2="825.8" y2="749.7" stroke="#8c8c8c" stroke-width="1"/>
<line x1="827.8" y1="741.1" x2="831.9" y2="741.5" stroke="#8c8c8c" stroke-width="1"/>
<line x1="833.8" y1="733.2" x2="837.9" y2="733.6" stroke="#8c8c8c" stroke-width="1"/>
<line x1="839.6" y1="725.5" x2="843.6" y2="725.9" stroke="#8c8c8c" stroke-width="1"/>
<line x1="845.2" y1="718.1" x2="849.2" y2="718.4" stroke="#8c8c8c" stroke-width="1"/>
<line x1="850.7" y1="710.8" x2="854.6" y2="711.2" stroke="#8c8c8c" stroke-width="1"/>
<line x1="856.0" y1="703.8" x2="859.9" y2="704.1" stroke="#8c8c8c" stroke-width="1"/>
<line x1="861.2" y1="697.0" x2="865.0" y2="697.3" stroke="#8c8c8c" stroke-width="1"/>
<line x1="866.2" y1="690.4" x2="869.9" y2="690.7" stroke="#8c8c8c" stroke-width="1"/>
<line x1="871.0" y1="683.9" x2="874.8" y2="684.2" stroke="#8c8c8c" stroke-width="1"/>
<line x1="875.8" y1="677.7" x2="879.4" y2="678.0" stroke="#8c8c8c" stroke-width="1"/>
<line x1="880.4" y1="671.6" x2="884.0" y2="671.9" stroke="#8c8c8c" stroke-width="1"/>
<line x1="884.9" y1="665.6" x2="888.4" y2="665.9" stroke="#8c8c8c" stroke-width="1"/>
<line x1="889.2" y1="659.9" x2="892.8" y2="660.1" stroke="#8c8c8c" stroke-width="1"/>
<line x1="893.5" y1="654.3" x2="897.0" y2="654.5" stroke="#8c8c8c" stroke-width="1"/>
<line x1="897.6" y1="648.8" x2="901.1" y2="649.0" stroke="#8c8c8c" stroke-width="1"/>
<line x1="901.7" y1="643.4" x2="905.1" y2="643.7" stroke="#8c8c8c" stroke-width="1"/>
<text transform="translate(839.2,748.8) scale(1.28,1)" text-anchor="middle" class="zl">A</text>
<text transform="translate(851.2,732.9) scale(1.28,1)" text-anchor="middle" class="zl">C</text>
<text transform="translate(862.5,718.0) scale(1.28,1)" text-anchor="middle" class="zl">E</text>
<text transform="translate(873.1,704.0) scale(1.28,1)" text-anchor="middle" class="zl">G</text>
<text transform="translate(883.1,690.7) scale(1.28,1)" text-anchor="middle" class="zl">I</text>
<text transform="translate(892.6,678.2) scale(1.28,1)" text-anchor="middle" class="zl">K</text>
<text transform="translate(901.6,666.3) scale(1.28,1)" text-anchor="middle" class="zl">M</text>
<text transform="translate(910.1,655.1) scale(1.28,1)" text-anchor="middle" class="zl">O</text>
<g><polygon points="335.8,606.0 344.4,606.6 338.5,438.8 329.6,438.4" fill="#C5B6D8" stroke="#C5B6D8"/><polygon points="344.4,606.6 348.4,604.8 342.7,437.8 338.5,438.8" fill="#82788f" stroke="#82788f"/><polygon points="329.6,438.4 338.5,438.8 342.7,437.8 333.8,437.4" fill="#9a8ea8" stroke="#9a8ea8"/></g>
<g><polygon points="357.4,607.5 366.0,608.2 364.9,572.8 356.2,572.2" fill="#C5B6D8" stroke="#C5B6D8"/><polygon points="366.0,608.2 370.0,606.4 368.9,571.2 364.9,572.8" fill="#82788f" stroke="#82788f"/><polygon points="356.2,572.2 364.9,572.8 368.9,571.2 360.2,570.6" fill="#9a8ea8" stroke="#9a8ea8"/></g>
<g><polygon points="379.1,609.1 387.8,609.8 384.7,491.2 375.8,490.7" fill="#C5B6D8" stroke="#C5B6D8"/><polygon points="387.8,609.8 391.7,608.0 388.7,489.9 384.7,491.2" fill="#82788f" stroke="#82788f"/><polygon points="375.8,490.7 384.7,491.2 388.7,489.9 379.8,489.5" fill="#9a8ea8" stroke="#9a8ea8"/></g>
<g><polygon points="401.0,610.7 409.8,611.4 406.4,454.1 397.3,453.7" fill="#C5B6D8" stroke="#C5B6D8"/><polygon points="409.8,611.4 413.6,609.6 410.3,453.0 406.4,454.1" fill="#82788f" stroke="#82788f"/><polygon points="397.3,453.7 406.4,454.1 410.3,453.0 401.2,452.6" fill="#9a8ea8" stroke="#9a8ea8"/></g>
<g><polygon points="423.1,612.3 432.0,613.0 430.9,550.7 421.9,550.2" fill="#C5B6D8" stroke="#C5B6D8"/><polygon points="432.0,613.0 435.7,611.2 434.7,549.2 430.9,550.7" fill="#82788f" stroke="#82788f"/><polygon points="421.9,550.2 430.9,550.7 434.7,549.2 425.7,548.6" fill="#9a8ea8" stroke="#9a8ea8"/></g>
<g><polygon points="445.4,614.0 454.3,614.6 453.0,508.0 443.8,507.5" fill="#C5B6D8" stroke="#C5B6D8"/><polygon points="454.3,614.6 457.9,612.8 456.7,506.6 453.0,508.0" fill="#82788f" stroke="#82788f"/><polygon points="443.8,507.5 453.0,508.0 456.7,506.6 447.6,506.2" fill="#9a8ea8" stroke="#9a8ea8"/></g>
<g><polygon points="467.8,615.6 476.9,616.3 476.2,533.0 467.0,532.5" fill="#C5B6D8" stroke="#C5B6D8"/><polygon points="476.9,616.3 480.4,614.4 479.8,531.6 476.2,533.0" fill="#82788f" stroke="#82788f"/><polygon points="467.0,532.5 476.2,533.0 479.8,531.6 470.6,531.0" fill="#9a8ea8" stroke="#9a8ea8"/></g>
<g><polygon points="490.5,617.3 499.6,617.9 499.5,581.7 490.3,581.1" fill="#C5B6D8" stroke="#C5B6D8"/><polygon points="499.6,617.9 503.0,616.1 502.9,580.0 499.5,581.7" fill="#82788f" stroke="#82788f"/><polygon points="490.3,581.1 499.5,581.7 502.9,580.0 493.8,579.4" fill="#9a8ea8" stroke="#9a8ea8"/></g>
<g><polygon points="513.3,618.9 522.5,619.6 522.7,528.7 513.3,528.2" fill="#C5B6D8" stroke="#C5B6D8"/><polygon points="522.5,619.6 525.8,617.8 526.0,527.3 522.7,528.7" fill="#82788f" stroke="#82788f"/><polygon points="513.3,528.2 522.7,528.7 526.0,527.3 516.7,526.7" fill="#9a8ea8" stroke="#9a8ea8"/></g>
<g><polygon points="536.4,620.6 545.6,621.3 545.9,578.7 536.6,578.1" fill="#C5B6D8" stroke="#C5B6D8"/><polygon points="545.6,621.3 548.8,619.4 549.2,577.1 545.9,578.7" fill="#82788f" stroke="#82788f"/><polygon points="536.6,578.1 545.9,578.7 549.2,577.1 539.8,576.4" fill="#9a8ea8" stroke="#9a8ea8"/></g>
<g><polygon points="559.6,622.3 568.9,623.0 569.8,547.2 560.3,546.7" fill="#C5B6D8" stroke="#C5B6D8"/><polygon points="568.9,623.0 572.1,621.1 573.0,545.7 569.8,547.2" fill="#82788f" stroke="#82788f"/><polygon points="560.3,546.7 569.8,547.2 573.0,545.7 563.5,545.1" fill="#9a8ea8" stroke="#9a8ea8"/></g>
<g><polygon points="583.0,624.0 592.4,624.7 594.5,499.2 584.8,498.7" fill="#C5B6D8" stroke="#C5B6D8"/><polygon points="592.4,624.7 595.5,622.8 597.6,497.8 594.5,499.2" fill="#82788f" stroke="#82788f"/><polygon points="584.8,498.7 594.5,499.2 597.6,497.8 587.9,497.4" fill="#9a8ea8" stroke="#9a8ea8"/></g>
<g><polygon points="606.6,625.8 616.2,626.5 618.4,523.0 608.6,522.5" fill="#C5B6D8" stroke="#C5B6D8"/><polygon points="616.2,626.5 619.1,624.5 621.3,521.6 618.4,523.0" fill="#82788f" stroke="#82788f"/><polygon points="608.6,522.5 618.4,523.0 621.3,521.6 611.6,521.0" fill="#9a8ea8" stroke="#9a8ea8"/></g>
<g><polygon points="630.5,627.5 640.1,628.2 642.8,524.8 633.0,524.3" fill="#C5B6D8" stroke="#C5B6D8"/><polygon points="640.1,628.2 642.9,626.3 645.6,523.4 642.8,524.8" fill="#82788f" stroke="#82788f"/><polygon points="633.0,524.3 642.8,524.8 645.6,523.4 635.9,522.8" fill="#9a8ea8" stroke="#9a8ea8"/></g>
<g><polygon points="654.5,629.3 664.2,630.0 668.9,480.9 658.9,480.4" fill="#C5B6D8" stroke="#C5B6D8"/><polygon points="664.2,630.0 666.9,628.0 671.6,479.6 668.9,480.9" fill="#82788f" stroke="#82788f"/><polygon points="658.9,480.4 668.9,480.9 671.6,479.6 661.7,479.2" fill="#9a8ea8" stroke="#9a8ea8"/></g>
<g><polygon points="678.8,631.1 688.5,631.8 693.1,506.7 683.1,506.1" fill="#C5B6D8" stroke="#C5B6D8"/><polygon points="688.5,631.8 691.1,629.8 695.7,505.3 693.1,506.7" fill="#82788f" stroke="#82788f"/><polygon points="683.1,506.1 693.1,506.7 695.7,505.3 685.7,504.7" fill="#9a8ea8" stroke="#9a8ea8"/></g>
<g><polygon points="703.2,632.8 713.0,633.6 718.2,510.8 708.1,510.3" fill="#C5B6D8" stroke="#C5B6D8"/><polygon points="713.0,633.6 715.5,631.6 720.7,509.4 718.2,510.8" fill="#82788f" stroke="#82788f"/><polygon points="708.1,510.3 718.2,510.8 720.7,509.4 710.6,508.8" fill="#9a8ea8" stroke="#9a8ea8"/></g>
<g><polygon points="727.9,634.6 737.8,635.4 744.2,498.2 734.0,497.7" fill="#C5B6D8" stroke="#C5B6D8"/><polygon points="737.8,635.4 740.2,633.4 746.6,496.8 744.2,498.2" fill="#82788f" stroke="#82788f"/><polygon points="734.0,497.7 744.2,498.2 746.6,496.8 736.5,496.4" fill="#9a8ea8" stroke="#9a8ea8"/></g>
<g><polygon points="752.8,636.5 762.8,637.2 770.9,480.9 760.6,480.5" fill="#C5B6D8" stroke="#C5B6D8"/><polygon points="762.8,637.2 765.0,635.2 773.2,479.6 770.9,480.9" fill="#82788f" stroke="#82788f"/><polygon points="760.6,480.5 770.9,480.9 773.2,479.6 762.9,479.2" fill="#9a8ea8" stroke="#9a8ea8"/></g>
<g><polygon points="777.9,638.3 788.0,639.0 797.4,474.0 787.0,473.5" fill="#C5B6D8" stroke="#C5B6D8"/><polygon points="788.0,639.0 790.1,637.0 799.6,472.7 797.4,474.0" fill="#82788f" stroke="#82788f"/><polygon points="787.0,473.5 797.4,474.0 799.6,472.7 789.2,472.3" fill="#9a8ea8" stroke="#9a8ea8"/></g>
<g><polygon points="803.2,640.2 813.4,640.9 822.0,503.6 811.5,503.1" fill="#C5B6D8" stroke="#C5B6D8"/><polygon points="813.4,640.9 815.4,638.8 824.0,502.2 822.0,503.6" fill="#82788f" stroke="#82788f"/><polygon points="811.5,503.1 822.0,503.6 824.0,502.2 813.6,501.6" fill="#9a8ea8" stroke="#9a8ea8"/></g>
<g><polygon points="828.7,642.0 839.0,642.8 848.4,504.5 837.8,504.0" fill="#C5B6D8" stroke="#C5B6D8"/><polygon points="839.0,642.8 840.9,640.7 850.3,503.1 848.4,504.5" fill="#82788f" stroke="#82788f"/><polygon points="837.8,504.0 848.4,504.5 850.3,503.1 839.8,502.5" fill="#9a8ea8" stroke="#9a8ea8"/></g>
<g><polygon points="854.5,643.9 864.9,644.7 875.0,506.7 864.3,506.2" fill="#C5B6D8" stroke="#C5B6D8"/><polygon points="864.9,644.7 866.7,642.6 876.8,505.3 875.0,506.7" fill="#82788f" stroke="#82788f"/><polygon points="864.3,506.2 875.0,506.7 876.8,505.3 866.2,504.7" fill="#9a8ea8" stroke="#9a8ea8"/></g>
<g><polygon points="880.5,645.8 891.0,646.6 901.9,509.2 891.1,508.7" fill="#C5B6D8" stroke="#C5B6D8"/><polygon points="891.0,646.6 892.6,644.5 903.5,507.8 901.9,509.2" fill="#82788f" stroke="#82788f"/><polygon points="891.1,508.7 901.9,509.2 903.5,507.8 892.8,507.2" fill="#9a8ea8" stroke="#9a8ea8"/></g>
<g><polygon points="325.5,610.4 334.2,611.0 333.1,583.0 324.4,582.4" fill="#C6E0B2" stroke="#C6E0B2"/><polygon points="334.2,611.0 338.3,609.2 337.3,581.3 333.1,583.0" fill="#839475" stroke="#839475"/><polygon points="324.4,582.4 333.1,583.0 337.3,581.3 328.6,580.7" fill="#9aaf8b" stroke="#9aaf8b"/></g>
<g><polygon points="347.3,612.0 356.0,612.6 355.0,582.6 346.2,582.0" fill="#C6E0B2" stroke="#C6E0B2"/><polygon points="356.0,612.6 360.1,610.8 359.1,580.9 355.0,582.6" fill="#839475" stroke="#839475"/><polygon points="346.2,582.0 355.0,582.6 359.1,580.9 350.3,580.3" fill="#9aaf8b" stroke="#9aaf8b"/></g>
<g><polygon points="369.2,613.6 378.0,614.3 377.3,587.2 368.4,586.6" fill="#C6E0B2" stroke="#C6E0B2"/><polygon points="378.0,614.3 382.0,612.5 381.2,585.5 377.3,587.2" fill="#839475" stroke="#839475"/><polygon points="368.4,586.6 377.3,587.2 381.2,585.5 372.4,584.9" fill="#9aaf8b" stroke="#9aaf8b"/></g>
<g><polygon points="391.3,615.3 400.3,615.9 399.7,591.3 390.7,590.7" fill="#C6E0B2" stroke="#C6E0B2"/><polygon points="400.3,615.9 404.1,614.1 403.5,589.6 399.7,591.3" fill="#839475" stroke="#839475"/><polygon points="390.7,590.7 399.7,591.3 403.5,589.6 394.6,589.0" fill="#9aaf8b" stroke="#9aaf8b"/></g>
<g><polygon points="413.7,616.9 422.6,617.6 422.1,591.7 413.1,591.1" fill="#C6E0B2" stroke="#C6E0B2"/><polygon points="422.6,617.6 426.4,615.7 425.9,590.0 422.1,591.7" fill="#839475" stroke="#839475"/><polygon points="413.1,591.1 422.1,591.7 425.9,590.0 416.9,589.4" fill="#9aaf8b" stroke="#9aaf8b"/></g>
<g><polygon points="436.2,618.6 445.2,619.3 443.7,515.5 434.5,514.9" fill="#C6E0B2" stroke="#C6E0B2"/><polygon points="445.2,619.3 448.9,617.4 447.5,514.1 443.7,515.5" fill="#839475" stroke="#839475"/><polygon points="434.5,514.9 443.7,515.5 447.5,514.1 438.3,513.5" fill="#9aaf8b" stroke="#9aaf8b"/></g>
<g><polygon points="458.9,620.3 468.0,620.9 467.7,596.0 458.6,595.3" fill="#C6E0B2" stroke="#C6E0B2"/><polygon points="468.0,620.9 471.6,619.1 471.3,594.2 467.7,596.0" fill="#839475" stroke="#839475"/><polygon points="458.6,595.3 467.7,596.0 471.3,594.2 462.2,593.6" fill="#9aaf8b" stroke="#9aaf8b"/></g>
<g><polygon points="481.7,622.0 491.0,622.6 490.8,588.4 481.5,587.7" fill="#C6E0B2" stroke="#C6E0B2"/><polygon points="491.0,622.6 494.4,620.8 494.3,586.6 490.8,588.4" fill="#839475" stroke="#839475"/><polygon points="481.5,587.7 490.8,588.4 494.3,586.6 485.1,586.0" fill="#9aaf8b" stroke="#9aaf8b"/></g>
<g><polygon points="504.8,623.7 514.1,624.4 514.1,569.3 504.7,568.7" fill="#C6E0B2" stroke="#C6E0B2"/><polygon points="514.1,624.4 517.5,622.5 517.5,567.6 514.1,569.3" fill="#839475" stroke="#839475"/><polygon points="504.7,568.7 514.1,569.3 517.5,567.6 508.2,567.0" fill="#9aaf8b" stroke="#9aaf8b"/></g>
<g><polygon points="528.1,625.4 537.5,626.1 537.6,602.0 528.2,601.4" fill="#C6E0B2" stroke="#C6E0B2"/><polygon points="537.5,626.1 540.8,624.2 540.9,600.2 537.6,602.0" fill="#839475" stroke="#839475"/><polygon points="528.2,601.4 537.6,602.0 540.9,600.2 531.5,599.6" fill="#9aaf8b" stroke="#9aaf8b"/></g>
<g><polygon points="551.6,627.1 561.0,627.8 561.3,601.3 551.8,600.6" fill="#C6E0B2" stroke="#C6E0B2"/><polygon points="561.0,627.8 564.2,625.9 564.5,599.4 561.3,601.3" fill="#839475" stroke="#839475"/><polygon points="551.8,600.6 561.3,601.3 564.5,599.4 555.0,598.8" fill="#9aaf8b" stroke="#9aaf8b"/></g>
<g><polygon points="575.3,628.9 584.8,629.6 585.2,604.5 575.6,603.8" fill="#C6E0B2" stroke="#C6E0B2"/><polygon points="584.8,629.6 587.9,627.6 588.3,602.6 585.2,604.5" fill="#839475" stroke="#839475"/><polygon points="575.6,603.8 585.2,604.5 588.3,602.6 578.7,602.0" fill="#9aaf8b" stroke="#9aaf8b"/></g>
<g><polygon points="599.1,630.7 608.8,631.4 609.3,602.1 599.7,601.4" fill="#C6E0B2" stroke="#C6E0B2"/><polygon points="608.8,631.4 611.7,629.4 612.3,600.2 609.3,602.1" fill="#839475" stroke="#839475"/><polygon points="599.7,601.4 609.3,602.1 612.3,600.2 602.7,599.6" fill="#9aaf8b" stroke="#9aaf8b"/></g>
<g><polygon points="623.2,632.5 632.9,633.2 636.9,474.0 626.9,473.5" fill="#C6E0B2" stroke="#C6E0B2"/><polygon points="632.9,633.2 635.8,631.2 639.8,472.7 636.9,474.0" fill="#839475" stroke="#839475"/><polygon points="626.9,473.5 636.9,474.0 639.8,472.7 629.9,472.3" fill="#9aaf8b" stroke="#9aaf8b"/></g>
<g><polygon points="647.5,634.3 657.3,635.0 658.2,606.2 648.3,605.5" fill="#C6E0B2" stroke="#C6E0B2"/><polygon points="657.3,635.0 660.1,633.0 661.0,604.3 658.2,606.2" fill="#839475" stroke="#839475"/><polygon points="648.3,605.5 658.2,606.2 661.0,604.3 651.2,603.7" fill="#9aaf8b" stroke="#9aaf8b"/></g>
<g><polygon points="672.0,636.1 681.9,636.8 682.7,613.5 672.8,612.8" fill="#C6E0B2" stroke="#C6E0B2"/><polygon points="681.9,636.8 684.6,634.8 685.4,611.5 682.7,613.5" fill="#839475" stroke="#839475"/><polygon points="672.8,612.8 682.7,613.5 685.4,611.5 675.5,610.9" fill="#9aaf8b" stroke="#9aaf8b"/></g>
<g><polygon points="696.8,637.9 706.7,638.7 707.6,618.1 697.6,617.4" fill="#C6E0B2" stroke="#C6E0B2"/><polygon points="706.7,638.7 709.3,636.6 710.1,616.1 707.6,618.1" fill="#839475" stroke="#839475"/><polygon points="697.6,617.4 707.6,618.1 710.1,616.1 700.2,615.5" fill="#9aaf8b" stroke="#9aaf8b"/></g>
<g><polygon points="721.7,639.8 731.8,640.5 732.8,616.9 722.8,616.2" fill="#C6E0B2" stroke="#C6E0B2"/><polygon points="731.8,640.5 734.2,638.4 735.3,615.0 732.8,616.9" fill="#839475" stroke="#839475"/><polygon points="722.8,616.2 732.8,616.9 735.3,615.0 725.2,614.3" fill="#9aaf8b" stroke="#9aaf8b"/></g>
<g><polygon points="746.9,641.6 757.0,642.4 758.4,616.2 748.2,615.5" fill="#C6E0B2" stroke="#C6E0B2"/><polygon points="757.0,642.4 759.3,640.3 760.7,614.3 758.4,616.2" fill="#839475" stroke="#839475"/><polygon points="748.2,615.5 758.4,616.2 760.7,614.3 750.5,613.5" fill="#9aaf8b" stroke="#9aaf8b"/></g>
<g><polygon points="772.3,643.5 782.5,644.3 784.0,618.2 773.7,617.5" fill="#C6E0B2" stroke="#C6E0B2"/><polygon points="782.5,644.3 784.7,642.2 786.2,616.3 784.0,618.2" fill="#839475" stroke="#839475"/><polygon points="773.7,617.5 784.0,618.2 786.2,616.3 775.9,615.5" fill="#9aaf8b" stroke="#9aaf8b"/></g>
<g><polygon points="797.9,645.4 808.2,646.2 809.4,627.2 799.0,626.5" fill="#C6E0B2" stroke="#C6E0B2"/><polygon points="808.2,646.2 810.3,644.1 811.5,625.2 809.4,627.2" fill="#839475" stroke="#839475"/><polygon points="799.0,626.5 809.4,627.2 811.5,625.2 801.2,624.4" fill="#9aaf8b" stroke="#9aaf8b"/></g>
<g><polygon points="823.8,647.3 834.2,648.1 838.7,581.0 828.1,580.3" fill="#C6E0B2" stroke="#C6E0B2"/><polygon points="834.2,648.1 836.1,646.0 840.6,579.1 838.7,581.0" fill="#839475" stroke="#839475"/><polygon points="828.1,580.3 838.7,581.0 840.6,579.1 830.1,578.5" fill="#9aaf8b" stroke="#9aaf8b"/></g>
<g><polygon points="849.9,649.3 860.4,650.0 867.1,557.9 856.3,557.3" fill="#C6E0B2" stroke="#C6E0B2"/><polygon points="860.4,650.0 862.2,647.9 868.9,556.2 867.1,557.9" fill="#839475" stroke="#839475"/><polygon points="856.3,557.3 867.1,557.9 868.9,556.2 858.2,555.6" fill="#9aaf8b" stroke="#9aaf8b"/></g>
<g><polygon points="876.2,651.2 886.8,652.0 888.7,627.2 878.1,626.5" fill="#C6E0B2" stroke="#C6E0B2"/><polygon points="886.8,652.0 888.5,649.8 890.4,625.2 888.7,627.2" fill="#839475" stroke="#839475"/><polygon points="878.1,626.5 888.7,627.2 890.4,625.2 879.8,624.4" fill="#9aaf8b" stroke="#9aaf8b"/></g>
<g><polygon points="314.9,614.9 323.7,615.6 322.9,594.0 314.1,593.4" fill="#F2B3B1" stroke="#F2B3B1"/><polygon points="323.7,615.6 327.9,613.7 327.1,592.3 322.9,594.0" fill="#a07675" stroke="#a07675"/><polygon points="314.1,593.4 322.9,594.0 327.1,592.3 318.3,591.7" fill="#bd8c8a" stroke="#bd8c8a"/></g>
<g><polygon points="336.9,616.6 345.8,617.2 345.0,594.1 336.1,593.4" fill="#F2B3B1" stroke="#F2B3B1"/><polygon points="345.8,617.2 349.9,615.4 349.1,592.3 345.0,594.1" fill="#a07675" stroke="#a07675"/><polygon points="336.1,593.4 345.0,594.1 349.1,592.3 340.3,591.7" fill="#bd8c8a" stroke="#bd8c8a"/></g>
<g><polygon points="359.1,618.2 368.0,618.9 367.0,585.3 358.0,584.7" fill="#F2B3B1" stroke="#F2B3B1"/><polygon points="368.0,618.9 372.1,617.0 371.1,583.6 367.0,585.3" fill="#a07675" stroke="#a07675"/><polygon points="358.0,584.7 367.0,585.3 371.1,583.6 362.1,583.0" fill="#bd8c8a" stroke="#bd8c8a"/></g>
<g><polygon points="381.5,619.9 390.4,620.6 389.9,598.3 380.8,597.7" fill="#F2B3B1" stroke="#F2B3B1"/><polygon points="390.4,620.6 394.4,618.7 393.8,596.5 389.9,598.3" fill="#a07675" stroke="#a07675"/><polygon points="380.8,597.7 389.9,598.3 393.8,596.5 384.8,595.9" fill="#bd8c8a" stroke="#bd8c8a"/></g>
<g><polygon points="404.0,621.6 413.1,622.3 412.6,598.7 403.5,598.1" fill="#F2B3B1" stroke="#F2B3B1"/><polygon points="413.1,622.3 416.9,620.4 416.4,596.9 412.6,598.7" fill="#a07675" stroke="#a07675"/><polygon points="403.5,598.1 412.6,598.7 416.4,596.9 407.4,596.3" fill="#bd8c8a" stroke="#bd8c8a"/></g>
<g><polygon points="426.7,623.3 435.9,624.0 435.5,602.1 426.3,601.5" fill="#F2B3B1" stroke="#F2B3B1"/><polygon points="435.9,624.0 439.6,622.1 439.3,600.3 435.5,602.1" fill="#a07675" stroke="#a07675"/><polygon points="426.3,601.5 435.5,602.1 439.3,600.3 430.2,599.7" fill="#bd8c8a" stroke="#bd8c8a"/></g>
<g><polygon points="449.7,625.0 458.9,625.7 458.6,605.2 449.4,604.5" fill="#F2B3B1" stroke="#F2B3B1"/><polygon points="458.9,625.7 462.6,623.8 462.3,603.3 458.6,605.2" fill="#a07675" stroke="#a07675"/><polygon points="449.4,604.5 458.6,605.2 462.3,603.3 453.1,602.7" fill="#bd8c8a" stroke="#bd8c8a"/></g>
<g><polygon points="472.8,626.8 482.1,627.5 482.0,606.8 472.6,606.1" fill="#F2B3B1" stroke="#F2B3B1"/><polygon points="482.1,627.5 485.7,625.5 485.5,604.9 482.0,606.8" fill="#a07675" stroke="#a07675"/><polygon points="472.6,606.1 482.0,606.8 485.5,604.9 476.2,604.3" fill="#bd8c8a" stroke="#bd8c8a"/></g>
<g><polygon points="496.1,628.5 505.5,629.2 505.4,602.9 496.0,602.2" fill="#F2B3B1" stroke="#F2B3B1"/><polygon points="505.5,629.2 509.0,627.3 508.9,601.0 505.4,602.9" fill="#a07675" stroke="#a07675"/><polygon points="496.0,602.2 505.4,602.9 508.9,601.0 499.5,600.4" fill="#bd8c8a" stroke="#bd8c8a"/></g>
<g><polygon points="519.6,630.3 529.1,631.0 529.2,609.3 519.7,608.6" fill="#F2B3B1" stroke="#F2B3B1"/><polygon points="529.1,631.0 532.5,629.0 532.6,607.4 529.2,609.3" fill="#a07675" stroke="#a07675"/><polygon points="519.7,608.6 529.2,609.3 532.6,607.4 523.1,606.8" fill="#bd8c8a" stroke="#bd8c8a"/></g>
<g><polygon points="543.4,632.1 552.9,632.8 553.1,612.4 543.5,611.8" fill="#F2B3B1" stroke="#F2B3B1"/><polygon points="552.9,632.8 556.2,630.8 556.4,610.5 553.1,612.4" fill="#a07675" stroke="#a07675"/><polygon points="543.5,611.8 553.1,612.4 556.4,610.5 546.8,609.9" fill="#bd8c8a" stroke="#bd8c8a"/></g>
<g><polygon points="567.3,633.9 576.9,634.6 577.2,611.7 567.6,611.1" fill="#F2B3B1" stroke="#F2B3B1"/><polygon points="576.9,634.6 580.1,632.6 580.4,609.8 577.2,611.7" fill="#a07675" stroke="#a07675"/><polygon points="567.6,611.1 577.2,611.7 580.4,609.8 570.8,609.2" fill="#bd8c8a" stroke="#bd8c8a"/></g>
<g><polygon points="591.5,635.7 601.2,636.4 601.5,620.3 591.7,619.6" fill="#F2B3B1" stroke="#F2B3B1"/><polygon points="601.2,636.4 604.2,634.4 604.5,618.3 601.5,620.3" fill="#a07675" stroke="#a07675"/><polygon points="591.7,619.6 601.5,620.3 604.5,618.3 594.8,617.7" fill="#bd8c8a" stroke="#bd8c8a"/></g>
<g><polygon points="615.8,637.5 625.6,638.3 626.0,620.3 616.2,619.6" fill="#F2B3B1" stroke="#F2B3B1"/><polygon points="625.6,638.3 628.6,636.2 629.0,618.4 626.0,620.3" fill="#a07675" stroke="#a07675"/><polygon points="616.2,619.6 626.0,620.3 629.0,618.4 619.2,617.6" fill="#bd8c8a" stroke="#bd8c8a"/></g>
<g><polygon points="640.4,639.4 650.3,640.1 650.9,619.8 640.9,619.1" fill="#F2B3B1" stroke="#F2B3B1"/><polygon points="650.3,640.1 653.1,638.0 653.7,617.9 650.9,619.8" fill="#a07675" stroke="#a07675"/><polygon points="640.9,619.1 650.9,619.8 653.7,617.9 643.8,617.1" fill="#bd8c8a" stroke="#bd8c8a"/></g>
<g><polygon points="665.2,641.2 675.2,642.0 675.7,625.7 665.7,624.9" fill="#F2B3B1" stroke="#F2B3B1"/><polygon points="675.2,642.0 677.9,639.9 678.4,623.7 675.7,625.7" fill="#a07675" stroke="#a07675"/><polygon points="665.7,624.9 675.7,625.7 678.4,623.7 668.5,622.9" fill="#bd8c8a" stroke="#bd8c8a"/></g>
<g><polygon points="690.2,643.1 700.3,643.9 701.1,621.4 691.0,620.6" fill="#F2B3B1" stroke="#F2B3B1"/><polygon points="700.3,643.9 702.9,641.8 703.8,619.4 701.1,621.4" fill="#a07675" stroke="#a07675"/><polygon points="691.0,620.6 701.1,621.4 703.8,619.4 693.7,618.6" fill="#bd8c8a" stroke="#bd8c8a"/></g>
<g><polygon points="715.4,645.0 725.6,645.8 726.3,629.9 716.1,629.2" fill="#F2B3B1" stroke="#F2B3B1"/><polygon points="725.6,645.8 728.1,643.7 728.8,627.9 726.3,629.9" fill="#a07675" stroke="#a07675"/><polygon points="716.1,629.2 726.3,629.9 728.8,627.9 718.6,627.1" fill="#bd8c8a" stroke="#bd8c8a"/></g>
<g><polygon points="740.9,646.9 751.1,647.7 752.3,624.5 742.0,623.7" fill="#F2B3B1" stroke="#F2B3B1"/><polygon points="751.1,647.7 753.5,645.6 754.7,622.4 752.3,624.5" fill="#a07675" stroke="#a07675"/><polygon points="742.0,623.7 752.3,624.5 754.7,622.4 744.4,621.7" fill="#bd8c8a" stroke="#bd8c8a"/></g>
<g><polygon points="766.6,648.9 776.9,649.6 778.0,631.0 767.6,630.3" fill="#F2B3B1" stroke="#F2B3B1"/><polygon points="776.9,649.6 779.2,647.5 780.2,629.0 778.0,631.0" fill="#a07675" stroke="#a07675"/><polygon points="767.6,630.3 778.0,631.0 780.2,629.0 769.9,628.2" fill="#bd8c8a" stroke="#bd8c8a"/></g>
<g><polygon points="792.5,650.8 803.0,651.6 803.8,637.5 793.3,636.7" fill="#F2B3B1" stroke="#F2B3B1"/><polygon points="803.0,651.6 805.1,649.4 805.9,635.4 803.8,637.5" fill="#a07675" stroke="#a07675"/><polygon points="793.3,636.7 803.8,637.5 805.9,635.4 795.5,634.6" fill="#bd8c8a" stroke="#bd8c8a"/></g>
<g><polygon points="818.7,652.8 829.2,653.6 830.3,637.5 819.7,636.7" fill="#F2B3B1" stroke="#F2B3B1"/><polygon points="829.2,653.6 831.2,651.4 832.3,635.4 830.3,637.5" fill="#a07675" stroke="#a07675"/><polygon points="819.7,636.7 830.3,637.5 832.3,635.4 821.8,634.6" fill="#bd8c8a" stroke="#bd8c8a"/></g>
<g><polygon points="845.1,654.8 855.7,655.6 857.0,638.2 846.3,637.5" fill="#F2B3B1" stroke="#F2B3B1"/><polygon points="855.7,655.6 857.6,653.3 858.8,636.1 857.0,638.2" fill="#a07675" stroke="#a07675"/><polygon points="846.3,637.5 857.0,638.2 858.8,636.1 848.2,635.3" fill="#bd8c8a" stroke="#bd8c8a"/></g>
<g><polygon points="871.7,656.8 882.5,657.6 884.7,628.1 873.9,627.3" fill="#F2B3B1" stroke="#F2B3B1"/><polygon points="882.5,657.6 884.2,655.3 886.5,626.0 884.7,628.1" fill="#a07675" stroke="#a07675"/><polygon points="873.9,627.3 884.7,628.1 886.5,626.0 875.7,625.2" fill="#bd8c8a" stroke="#bd8c8a"/></g>
<g><polygon points="304.1,619.5 313.0,620.2 312.2,601.1 303.3,600.5" fill="#A8C2E4" stroke="#A8C2E4"/><polygon points="313.0,620.2 317.3,618.3 316.5,599.3 312.2,601.1" fill="#6f8096" stroke="#6f8096"/><polygon points="303.3,600.5 312.2,601.1 316.5,599.3 307.7,598.7" fill="#8397b2" stroke="#8397b2"/></g>
<g><polygon points="326.3,621.2 335.3,621.9 334.2,594.1 325.3,593.4" fill="#A8C2E4" stroke="#A8C2E4"/><polygon points="335.3,621.9 339.5,620.0 338.5,592.3 334.2,594.1" fill="#6f8096" stroke="#6f8096"/><polygon points="325.3,593.4 334.2,594.1 338.5,592.3 329.5,591.7" fill="#8397b2" stroke="#8397b2"/></g>
<g><polygon points="348.7,622.9 357.7,623.6 357.0,602.1 348.0,601.5" fill="#A8C2E4" stroke="#A8C2E4"/><polygon points="357.7,623.6 361.9,621.7 361.2,600.3 357.0,602.1" fill="#6f8096" stroke="#6f8096"/><polygon points="348.0,601.5 357.0,602.1 361.2,600.3 352.2,599.7" fill="#8397b2" stroke="#8397b2"/></g>
<g><polygon points="371.3,624.7 380.4,625.4 379.8,603.4 370.7,602.7" fill="#A8C2E4" stroke="#A8C2E4"/><polygon points="380.4,625.4 384.5,623.4 383.9,601.5 379.8,603.4" fill="#6f8096" stroke="#6f8096"/><polygon points="370.7,602.7 379.8,603.4 383.9,601.5 374.8,600.9" fill="#8397b2" stroke="#8397b2"/></g>
<g><polygon points="394.1,626.4 403.3,627.1 402.8,605.7 393.6,605.0" fill="#A8C2E4" stroke="#A8C2E4"/><polygon points="403.3,627.1 407.2,625.2 406.7,603.8 402.8,605.7" fill="#6f8096" stroke="#6f8096"/><polygon points="393.6,605.0 402.8,605.7 406.7,603.8 397.6,603.2" fill="#8397b2" stroke="#8397b2"/></g>
<g><polygon points="417.1,628.1 426.3,628.9 425.9,607.5 416.6,606.8" fill="#A8C2E4" stroke="#A8C2E4"/><polygon points="426.3,628.9 430.2,626.9 429.8,605.6 425.9,607.5" fill="#6f8096" stroke="#6f8096"/><polygon points="416.6,606.8 425.9,607.5 429.8,605.6 420.5,605.0" fill="#8397b2" stroke="#8397b2"/></g>
<g><polygon points="440.2,629.9 449.6,630.6 449.2,605.7 439.8,605.0" fill="#A8C2E4" stroke="#A8C2E4"/><polygon points="449.6,630.6 453.3,628.6 453.0,603.8 449.2,605.7" fill="#6f8096" stroke="#6f8096"/><polygon points="439.8,605.0 449.2,605.7 453.0,603.8 443.7,603.2" fill="#8397b2" stroke="#8397b2"/></g>
<g><polygon points="463.6,631.7 473.0,632.4 472.8,613.7 463.4,613.1" fill="#A8C2E4" stroke="#A8C2E4"/><polygon points="473.0,632.4 476.7,630.4 476.5,611.8 472.8,613.7" fill="#6f8096" stroke="#6f8096"/><polygon points="463.4,613.1 472.8,613.7 476.5,611.8 467.1,611.2" fill="#8397b2" stroke="#8397b2"/></g>
<g><polygon points="487.2,633.5 496.7,634.2 496.6,607.5 487.0,606.8" fill="#A8C2E4" stroke="#A8C2E4"/><polygon points="496.7,634.2 500.2,632.2 500.1,605.6 496.6,607.5" fill="#6f8096" stroke="#6f8096"/><polygon points="487.0,606.8 496.6,607.5 500.1,605.6 490.6,605.0" fill="#8397b2" stroke="#8397b2"/></g>
<g><polygon points="511.0,635.3 520.5,636.0 520.6,612.5 510.9,611.8" fill="#A8C2E4" stroke="#A8C2E4"/><polygon points="520.5,636.0 524.0,634.0 524.0,610.5 520.6,612.5" fill="#6f8096" stroke="#6f8096"/><polygon points="510.9,611.8 520.6,612.5 524.0,610.5 514.5,609.9" fill="#8397b2" stroke="#8397b2"/></g>
<g><polygon points="534.9,637.1 544.6,637.9 544.8,606.9 535.1,606.3" fill="#A8C2E4" stroke="#A8C2E4"/><polygon points="544.6,637.9 548.0,635.8 548.2,605.0 544.8,606.9" fill="#6f8096" stroke="#6f8096"/><polygon points="535.1,606.3 544.8,606.9 548.2,605.0 538.5,604.4" fill="#8397b2" stroke="#8397b2"/></g>
<g><polygon points="559.1,639.0 568.9,639.7 569.1,619.1 559.3,618.4" fill="#A8C2E4" stroke="#A8C2E4"/><polygon points="568.9,639.7 572.1,637.7 572.4,617.2 569.1,619.1" fill="#6f8096" stroke="#6f8096"/><polygon points="559.3,618.4 569.1,619.1 572.4,617.2 562.6,616.4" fill="#8397b2" stroke="#8397b2"/></g>
<g><polygon points="583.6,640.8 593.4,641.6 593.7,624.0 583.8,623.2" fill="#A8C2E4" stroke="#A8C2E4"/><polygon points="593.4,641.6 596.5,639.5 596.8,622.0 593.7,624.0" fill="#6f8096" stroke="#6f8096"/><polygon points="583.8,623.2 593.7,624.0 596.8,622.0 587.0,621.2" fill="#8397b2" stroke="#8397b2"/></g>
<g><polygon points="608.2,642.7 618.1,643.5 618.6,622.3 608.6,621.5" fill="#A8C2E4" stroke="#A8C2E4"/><polygon points="618.1,643.5 621.1,641.4 621.6,620.3 618.6,622.3" fill="#6f8096" stroke="#6f8096"/><polygon points="608.6,621.5 618.6,622.3 621.6,620.3 611.7,619.5" fill="#8397b2" stroke="#8397b2"/></g>
<g><polygon points="633.1,644.6 643.1,645.4 643.6,624.0 633.6,623.3" fill="#A8C2E4" stroke="#A8C2E4"/><polygon points="643.1,645.4 646.0,643.3 646.6,622.0 643.6,624.0" fill="#6f8096" stroke="#6f8096"/><polygon points="633.6,623.3 643.6,624.0 646.6,622.0 636.6,621.2" fill="#8397b2" stroke="#8397b2"/></g>
<g><polygon points="658.1,646.5 668.2,647.3 668.8,628.8 658.7,628.1" fill="#A8C2E4" stroke="#A8C2E4"/><polygon points="668.2,647.3 671.0,645.1 671.6,626.8 668.8,628.8" fill="#6f8096" stroke="#6f8096"/><polygon points="658.7,628.1 668.8,628.8 671.6,626.8 661.5,626.0" fill="#8397b2" stroke="#8397b2"/></g>
<g><polygon points="683.4,648.4 693.6,649.2 694.2,634.5 684.0,633.7" fill="#A8C2E4" stroke="#A8C2E4"/><polygon points="693.6,649.2 696.3,647.1 696.9,632.4 694.2,634.5" fill="#6f8096" stroke="#6f8096"/><polygon points="684.0,633.7 694.2,634.5 696.9,632.4 686.7,631.6" fill="#8397b2" stroke="#8397b2"/></g>
<g><polygon points="709.0,650.4 719.2,651.2 720.2,628.8 709.9,628.0" fill="#A8C2E4" stroke="#A8C2E4"/><polygon points="719.2,651.2 721.8,649.0 722.8,626.7 720.2,628.8" fill="#6f8096" stroke="#6f8096"/><polygon points="709.9,628.0 720.2,628.8 722.8,626.7 712.5,625.9" fill="#8397b2" stroke="#8397b2"/></g>
<g><polygon points="734.7,652.4 745.1,653.1 746.4,627.2 735.9,626.5" fill="#A8C2E4" stroke="#A8C2E4"/><polygon points="745.1,653.1 747.5,651.0 748.8,625.2 746.4,627.2" fill="#6f8096" stroke="#6f8096"/><polygon points="735.9,626.5 746.4,627.2 748.8,625.2 738.4,624.4" fill="#8397b2" stroke="#8397b2"/></g>
<g><polygon points="760.7,654.3 771.2,655.1 772.2,636.5 761.7,635.7" fill="#A8C2E4" stroke="#A8C2E4"/><polygon points="771.2,655.1 773.5,652.9 774.5,634.4 772.2,636.5" fill="#6f8096" stroke="#6f8096"/><polygon points="761.7,635.7 772.2,636.5 774.5,634.4 764.1,633.6" fill="#8397b2" stroke="#8397b2"/></g>
<g><polygon points="787.0,656.3 797.5,657.1 798.5,640.8 787.9,640.1" fill="#A8C2E4" stroke="#A8C2E4"/><polygon points="797.5,657.1 799.7,654.9 800.7,638.7 798.5,640.8" fill="#6f8096" stroke="#6f8096"/><polygon points="787.9,640.1 798.5,640.8 800.7,638.7 790.1,637.9" fill="#8397b2" stroke="#8397b2"/></g>
<g><polygon points="813.5,658.4 824.1,659.2 825.3,641.4 814.6,640.6" fill="#A8C2E4" stroke="#A8C2E4"/><polygon points="824.1,659.2 826.2,656.9 827.3,639.2 825.3,641.4" fill="#6f8096" stroke="#6f8096"/><polygon points="814.6,640.6 825.3,641.4 827.3,639.2 816.7,638.4" fill="#8397b2" stroke="#8397b2"/></g>
<g><polygon points="840.2,660.4 850.9,661.2 852.4,640.9 841.6,640.1" fill="#A8C2E4" stroke="#A8C2E4"/><polygon points="850.9,661.2 852.9,658.9 854.3,638.7 852.4,640.9" fill="#6f8096" stroke="#6f8096"/><polygon points="841.6,640.1 852.4,640.9 854.3,638.7 843.6,637.9" fill="#8397b2" stroke="#8397b2"/></g>
<g><polygon points="867.2,662.5 878.0,663.3 879.5,644.4 868.6,643.6" fill="#A8C2E4" stroke="#A8C2E4"/><polygon points="878.0,663.3 879.8,661.0 881.3,642.2 879.5,644.4" fill="#6f8096" stroke="#6f8096"/><polygon points="868.6,643.6 879.5,644.4 881.3,642.2 870.4,641.4" fill="#8397b2" stroke="#8397b2"/></g>
<g><polygon points="293.1,624.3 302.0,625.0 301.2,607.5 292.3,606.8" fill="#F9A540" stroke="#F9A540"/><polygon points="302.0,625.0 306.4,623.1 305.7,605.6 301.2,607.5" fill="#a46d2a" stroke="#a46d2a"/><polygon points="292.3,606.8 301.2,607.5 305.7,605.6 296.7,605.0" fill="#c28132" stroke="#c28132"/></g>
<g><polygon points="315.5,626.0 324.5,626.7 323.8,607.5 314.7,606.8" fill="#F9A540" stroke="#F9A540"/><polygon points="324.5,626.7 328.9,624.8 328.1,605.6 323.8,607.5" fill="#a46d2a" stroke="#a46d2a"/><polygon points="314.7,606.8 323.8,607.5 328.1,605.6 319.1,605.0" fill="#c28132" stroke="#c28132"/></g>
<g><polygon points="338.1,627.8 347.2,628.5 346.6,610.2 337.4,609.5" fill="#F9A540" stroke="#F9A540"/><polygon points="347.2,628.5 351.5,626.5 350.8,608.3 346.6,610.2" fill="#a46d2a" stroke="#a46d2a"/><polygon points="337.4,609.5 346.6,610.2 350.8,608.3 341.7,607.7" fill="#c28132" stroke="#c28132"/></g>
<g><polygon points="360.9,629.5 370.1,630.2 369.6,612.5 360.4,611.8" fill="#F9A540" stroke="#F9A540"/><polygon points="370.1,630.2 374.3,628.3 373.7,610.6 369.6,612.5" fill="#a46d2a" stroke="#a46d2a"/><polygon points="360.4,611.8 369.6,612.5 373.7,610.6 364.6,610.0" fill="#c28132" stroke="#c28132"/></g>
<g><polygon points="383.9,631.3 393.2,632.0 392.7,613.0 383.4,612.4" fill="#F9A540" stroke="#F9A540"/><polygon points="393.2,632.0 397.3,630.0 396.8,611.1 392.7,613.0" fill="#a46d2a" stroke="#a46d2a"/><polygon points="383.4,612.4 392.7,613.0 396.8,611.1 387.5,610.5" fill="#c28132" stroke="#c28132"/></g>
<g><polygon points="407.2,633.1 416.5,633.8 416.1,613.1 406.7,612.4" fill="#F9A540" stroke="#F9A540"/><polygon points="416.5,633.8 420.5,631.8 420.0,611.1 416.1,613.1" fill="#a46d2a" stroke="#a46d2a"/><polygon points="406.7,612.4 416.1,613.1 420.0,611.1 410.7,610.5" fill="#c28132" stroke="#c28132"/></g>
<g><polygon points="430.6,634.9 440.0,635.6 439.6,608.0 430.1,607.4" fill="#F9A540" stroke="#F9A540"/><polygon points="440.0,635.6 443.8,633.6 443.4,606.1 439.6,608.0" fill="#a46d2a" stroke="#a46d2a"/><polygon points="430.1,607.4 439.6,608.0 443.4,606.1 434.0,605.5" fill="#c28132" stroke="#c28132"/></g>
<g><polygon points="454.2,636.7 463.7,637.5 463.5,614.5 453.9,613.8" fill="#F9A540" stroke="#F9A540"/><polygon points="463.7,637.5 467.4,635.4 467.2,612.5 463.5,614.5" fill="#a46d2a" stroke="#a46d2a"/><polygon points="453.9,613.8 463.5,614.5 467.2,612.5 457.7,611.9" fill="#c28132" stroke="#c28132"/></g>
<g><polygon points="478.0,638.6 487.6,639.3 487.5,617.7 477.9,617.0" fill="#F9A540" stroke="#F9A540"/><polygon points="487.6,639.3 491.3,637.3 491.2,615.7 487.5,617.7" fill="#a46d2a" stroke="#a46d2a"/><polygon points="477.9,617.0 487.5,617.7 491.2,615.7 481.6,615.1" fill="#c28132" stroke="#c28132"/></g>
<g><polygon points="502.1,640.4 511.7,641.2 511.7,621.5 502.0,620.8" fill="#F9A540" stroke="#F9A540"/><polygon points="511.7,641.2 515.3,639.1 515.3,619.6 511.7,621.5" fill="#a46d2a" stroke="#a46d2a"/><polygon points="502.0,620.8 511.7,621.5 515.3,619.6 505.6,618.8" fill="#c28132" stroke="#c28132"/></g>
<g><polygon points="526.3,642.3 536.1,643.1 536.2,626.4 526.4,625.7" fill="#F9A540" stroke="#F9A540"/><polygon points="536.1,643.1 539.5,641.0 539.6,624.4 536.2,626.4" fill="#a46d2a" stroke="#a46d2a"/><polygon points="526.4,625.7 536.2,626.4 539.6,624.4 529.8,623.6" fill="#c28132" stroke="#c28132"/></g>
<g><polygon points="550.8,644.2 560.6,645.0 560.8,625.7 550.9,625.0" fill="#F9A540" stroke="#F9A540"/><polygon points="560.6,645.0 564.0,642.9 564.2,623.7 560.8,625.7" fill="#a46d2a" stroke="#a46d2a"/><polygon points="550.9,625.0 560.8,625.7 564.2,623.7 554.3,622.9" fill="#c28132" stroke="#c28132"/></g>
<g><polygon points="575.5,646.1 585.4,646.9 585.7,629.5 575.7,628.8" fill="#F9A540" stroke="#F9A540"/><polygon points="585.4,646.9 588.6,644.7 588.9,627.5 585.7,629.5" fill="#a46d2a" stroke="#a46d2a"/><polygon points="575.7,628.8 585.7,629.5 588.9,627.5 579.0,626.7" fill="#c28132" stroke="#c28132"/></g>
<g><polygon points="600.4,648.0 610.4,648.8 610.7,633.0 600.7,632.2" fill="#F9A540" stroke="#F9A540"/><polygon points="610.4,648.8 613.5,646.7 613.8,630.9 610.7,633.0" fill="#a46d2a" stroke="#a46d2a"/><polygon points="600.7,632.2 610.7,633.0 613.8,630.9 603.8,630.1" fill="#c28132" stroke="#c28132"/></g>
<g><polygon points="625.5,650.0 635.6,650.8 636.1,633.0 625.9,632.2" fill="#F9A540" stroke="#F9A540"/><polygon points="635.6,650.8 638.6,648.6 639.1,630.9 636.1,633.0" fill="#a46d2a" stroke="#a46d2a"/><polygon points="625.9,632.2 636.1,633.0 639.1,630.9 629.0,630.1" fill="#c28132" stroke="#c28132"/></g>
<g><polygon points="650.9,651.9 661.1,652.7 661.6,637.9 651.3,637.1" fill="#F9A540" stroke="#F9A540"/><polygon points="661.1,652.7 664.0,650.5 664.4,635.8 661.6,637.9" fill="#a46d2a" stroke="#a46d2a"/><polygon points="651.3,637.1 661.6,637.9 664.4,635.8 654.2,635.0" fill="#c28132" stroke="#c28132"/></g>
<g><polygon points="676.5,653.9 686.8,654.7 687.4,637.9 677.1,637.1" fill="#F9A540" stroke="#F9A540"/><polygon points="686.8,654.7 689.6,652.5 690.2,635.8 687.4,637.9" fill="#a46d2a" stroke="#a46d2a"/><polygon points="677.1,637.1 687.4,637.9 690.2,635.8 679.9,635.0" fill="#c28132" stroke="#c28132"/></g>
<g><polygon points="702.3,655.9 712.7,656.7 713.4,640.3 703.0,639.5" fill="#F9A540" stroke="#F9A540"/><polygon points="712.7,656.7 715.4,654.5 716.1,638.1 713.4,640.3" fill="#a46d2a" stroke="#a46d2a"/><polygon points="703.0,639.5 713.4,640.3 716.1,638.1 705.7,637.4" fill="#c28132" stroke="#c28132"/></g>
<g><polygon points="728.4,657.9 738.9,658.7 740.0,636.2 729.4,635.5" fill="#F9A540" stroke="#F9A540"/><polygon points="738.9,658.7 741.4,656.5 742.5,634.1 740.0,636.2" fill="#a46d2a" stroke="#a46d2a"/><polygon points="729.4,635.5 740.0,636.2 742.5,634.1 732.0,633.3" fill="#c28132" stroke="#c28132"/></g>
<g><polygon points="754.7,660.0 765.3,660.8 766.2,645.0 755.5,644.2" fill="#F9A540" stroke="#F9A540"/><polygon points="765.3,660.8 767.7,658.5 768.5,642.8 766.2,645.0" fill="#a46d2a" stroke="#a46d2a"/><polygon points="755.5,644.2 766.2,645.0 768.5,642.8 757.9,642.0" fill="#c28132" stroke="#c28132"/></g>
<g><polygon points="781.3,662.0 792.0,662.8 792.8,649.0 782.1,648.2" fill="#F9A540" stroke="#F9A540"/><polygon points="792.0,662.8 794.2,660.5 795.0,646.8 792.8,649.0" fill="#a46d2a" stroke="#a46d2a"/><polygon points="782.1,648.2 792.8,649.0 795.0,646.8 784.4,646.0" fill="#c28132" stroke="#c28132"/></g>
<g><polygon points="808.1,664.1 818.9,664.9 819.7,651.7 808.9,650.8" fill="#F9A540" stroke="#F9A540"/><polygon points="818.9,664.9 821.0,662.6 821.9,649.4 819.7,651.7" fill="#a46d2a" stroke="#a46d2a"/><polygon points="808.9,650.8 819.7,651.7 821.9,649.4 811.1,648.6" fill="#c28132" stroke="#c28132"/></g>
<g><polygon points="835.2,666.2 846.1,667.0 847.1,651.7 836.2,650.9" fill="#F9A540" stroke="#F9A540"/><polygon points="846.1,667.0 848.0,664.7 849.1,649.4 847.1,651.7" fill="#a46d2a" stroke="#a46d2a"/><polygon points="836.2,650.9 847.1,651.7 849.1,649.4 838.2,648.6" fill="#c28132" stroke="#c28132"/></g>
<g><polygon points="862.5,668.3 873.5,669.1 874.9,650.4 863.9,649.6" fill="#F9A540" stroke="#F9A540"/><polygon points="873.5,669.1 875.3,666.8 876.7,648.1 874.9,650.4" fill="#a46d2a" stroke="#a46d2a"/><polygon points="863.9,649.6 874.9,650.4 876.7,648.1 865.7,647.3" fill="#c28132" stroke="#c28132"/></g>
<g><polygon points="281.7,629.2 290.8,629.9 289.8,608.8 280.7,608.1" fill="#1CBCD8" stroke="#1CBCD8"/><polygon points="290.8,629.9 295.3,627.9 294.3,606.9 289.8,608.8" fill="#127c8f" stroke="#127c8f"/><polygon points="280.7,608.1 289.8,608.8 294.3,606.9 285.3,606.3" fill="#1693a8" stroke="#1693a8"/></g>
<g><polygon points="304.4,630.9 313.5,631.6 312.6,610.6 303.5,609.9" fill="#1CBCD8" stroke="#1CBCD8"/><polygon points="313.5,631.6 317.9,629.7 317.1,608.7 312.6,610.6" fill="#127c8f" stroke="#127c8f"/><polygon points="303.5,609.9 312.6,610.6 317.1,608.7 308.0,608.1" fill="#1693a8" stroke="#1693a8"/></g>
<g><polygon points="327.2,632.7 336.4,633.4 335.5,608.0 326.2,607.3" fill="#1CBCD8" stroke="#1CBCD8"/><polygon points="336.4,633.4 340.8,631.4 339.9,606.1 335.5,608.0" fill="#127c8f" stroke="#127c8f"/><polygon points="326.2,607.3 335.5,608.0 339.9,606.1 330.7,605.5" fill="#1693a8" stroke="#1693a8"/></g>
<g><polygon points="350.3,634.5 359.6,635.3 358.8,613.1 349.5,612.4" fill="#1CBCD8" stroke="#1CBCD8"/><polygon points="359.6,635.3 363.8,633.2 363.1,611.1 358.8,613.1" fill="#127c8f" stroke="#127c8f"/><polygon points="349.5,612.4 358.8,613.1 363.1,611.1 353.8,610.5" fill="#1693a8" stroke="#1693a8"/></g>
<g><polygon points="373.5,636.3 382.9,637.1 382.4,618.4 373.0,617.7" fill="#1CBCD8" stroke="#1CBCD8"/><polygon points="382.9,637.1 387.1,635.0 386.6,616.4 382.4,618.4" fill="#127c8f" stroke="#127c8f"/><polygon points="373.0,617.7 382.4,618.4 386.6,616.4 377.2,615.8" fill="#1693a8" stroke="#1693a8"/></g>
<g><polygon points="397.0,638.2 406.4,638.9 405.9,617.2 396.5,616.5" fill="#1CBCD8" stroke="#1CBCD8"/><polygon points="406.4,638.9 410.5,636.9 410.0,615.2 405.9,617.2" fill="#127c8f" stroke="#127c8f"/><polygon points="396.5,616.5 405.9,617.2 410.0,615.2 400.6,614.6" fill="#1693a8" stroke="#1693a8"/></g>
<g><polygon points="420.7,640.0 430.2,640.8 429.9,621.8 420.3,621.1" fill="#1CBCD8" stroke="#1CBCD8"/><polygon points="430.2,640.8 434.1,638.7 433.8,619.9 429.9,621.8" fill="#127c8f" stroke="#127c8f"/><polygon points="420.3,621.1 429.9,621.8 433.8,619.9 424.3,619.1" fill="#1693a8" stroke="#1693a8"/></g>
<g><polygon points="444.5,641.9 454.2,642.7 453.9,623.0 444.3,622.2" fill="#1CBCD8" stroke="#1CBCD8"/><polygon points="454.2,642.7 458.0,640.6 457.8,621.0 453.9,623.0" fill="#127c8f" stroke="#127c8f"/><polygon points="444.3,622.2 453.9,623.0 457.8,621.0 448.2,620.2" fill="#1693a8" stroke="#1693a8"/></g>
<g><polygon points="468.6,643.8 478.3,644.6 478.2,625.3 468.4,624.6" fill="#1CBCD8" stroke="#1CBCD8"/><polygon points="478.3,644.6 482.1,642.5 481.9,623.3 478.2,625.3" fill="#127c8f" stroke="#127c8f"/><polygon points="468.4,624.6 478.2,625.3 481.9,623.3 472.2,622.5" fill="#1693a8" stroke="#1693a8"/></g>
<g><polygon points="492.9,645.7 502.7,646.5 502.7,624.6 492.8,623.9" fill="#1CBCD8" stroke="#1CBCD8"/><polygon points="502.7,646.5 506.4,644.3 506.3,622.6 502.7,624.6" fill="#127c8f" stroke="#127c8f"/><polygon points="492.8,623.9 502.7,624.6 506.3,622.6 496.5,621.8" fill="#1693a8" stroke="#1693a8"/></g>
<g><polygon points="517.5,647.6 527.3,648.4 527.4,619.2 517.5,618.4" fill="#1CBCD8" stroke="#1CBCD8"/><polygon points="527.3,648.4 530.9,646.3 531.0,617.2 527.4,619.2" fill="#127c8f" stroke="#127c8f"/><polygon points="517.5,618.4 527.4,619.2 531.0,617.2 521.1,616.4" fill="#1693a8" stroke="#1693a8"/></g>
<g><polygon points="542.2,649.6 552.2,650.4 552.4,620.4 542.4,619.7" fill="#1CBCD8" stroke="#1CBCD8"/><polygon points="552.2,650.4 555.6,648.2 555.8,618.4 552.4,620.4" fill="#127c8f" stroke="#127c8f"/><polygon points="542.4,619.7 552.4,620.4 555.8,618.4 545.9,617.6" fill="#1693a8" stroke="#1693a8"/></g>
<g><polygon points="567.2,651.5 577.2,652.3 577.5,635.5 567.4,634.7" fill="#1CBCD8" stroke="#1CBCD8"/><polygon points="577.2,652.3 580.5,650.1 580.8,633.4 577.5,635.5" fill="#127c8f" stroke="#127c8f"/><polygon points="567.4,634.7 577.5,635.5 580.8,633.4 570.7,632.6" fill="#1693a8" stroke="#1693a8"/></g>
<g><polygon points="592.4,653.5 602.5,654.3 602.9,636.2 592.7,635.4" fill="#1CBCD8" stroke="#1CBCD8"/><polygon points="602.5,654.3 605.7,652.1 606.1,634.1 602.9,636.2" fill="#127c8f" stroke="#127c8f"/><polygon points="592.7,635.4 602.9,636.2 606.1,634.1 595.9,633.3" fill="#1693a8" stroke="#1693a8"/></g>
<g><polygon points="617.8,655.5 628.0,656.3 628.5,637.9 618.2,637.2" fill="#1CBCD8" stroke="#1CBCD8"/><polygon points="628.0,656.3 631.1,654.1 631.6,635.8 628.5,637.9" fill="#127c8f" stroke="#127c8f"/><polygon points="618.2,637.2 628.5,637.9 631.6,635.8 621.3,635.0" fill="#1693a8" stroke="#1693a8"/></g>
<g><polygon points="643.5,657.5 653.8,658.3 654.3,641.8 643.9,641.0" fill="#1CBCD8" stroke="#1CBCD8"/><polygon points="653.8,658.3 656.8,656.1 657.2,639.6 654.3,641.8" fill="#127c8f" stroke="#127c8f"/><polygon points="643.9,641.0 654.3,641.8 657.2,639.6 646.9,638.8" fill="#1693a8" stroke="#1693a8"/></g>
<g><polygon points="669.4,659.5 679.8,660.4 680.4,644.2 669.9,643.4" fill="#1CBCD8" stroke="#1CBCD8"/><polygon points="679.8,660.4 682.6,658.1 683.2,642.0 680.4,644.2" fill="#127c8f" stroke="#127c8f"/><polygon points="669.9,643.4 680.4,644.2 683.2,642.0 672.8,641.2" fill="#1693a8" stroke="#1693a8"/></g>
<g><polygon points="695.5,661.6 706.1,662.4 707.6,624.8 697.0,624.0" fill="#1CBCD8" stroke="#1CBCD8"/><polygon points="706.1,662.4 708.7,660.1 710.3,622.7 707.6,624.8" fill="#127c8f" stroke="#127c8f"/><polygon points="697.0,624.0 707.6,624.8 710.3,622.7 699.7,621.9" fill="#1693a8" stroke="#1693a8"/></g>
<g><polygon points="721.9,663.7 732.5,664.5 733.6,640.9 722.9,640.1" fill="#1CBCD8" stroke="#1CBCD8"/><polygon points="732.5,664.5 735.1,662.2 736.2,638.7 733.6,640.9" fill="#127c8f" stroke="#127c8f"/><polygon points="722.9,640.1 733.6,640.9 736.2,638.7 725.6,637.9" fill="#1693a8" stroke="#1693a8"/></g>
<g><polygon points="748.6,665.7 759.3,666.6 760.5,643.9 749.7,643.1" fill="#1CBCD8" stroke="#1CBCD8"/><polygon points="759.3,666.6 761.7,664.2 762.9,641.7 760.5,643.9" fill="#127c8f" stroke="#127c8f"/><polygon points="749.7,643.1 760.5,643.9 762.9,641.7 752.2,640.9" fill="#1693a8" stroke="#1693a8"/></g>
<g><polygon points="775.4,667.9 786.3,668.7 787.2,651.7 776.4,650.9" fill="#1CBCD8" stroke="#1CBCD8"/><polygon points="786.3,668.7 788.6,666.3 789.6,649.4 787.2,651.7" fill="#127c8f" stroke="#127c8f"/><polygon points="776.4,650.9 787.2,651.7 789.6,649.4 778.7,648.6" fill="#1693a8" stroke="#1693a8"/></g>
<g><polygon points="802.6,670.0 813.5,670.8 814.7,652.9 803.7,652.1" fill="#1CBCD8" stroke="#1CBCD8"/><polygon points="813.5,670.8 815.7,668.5 816.8,650.6 814.7,652.9" fill="#127c8f" stroke="#127c8f"/><polygon points="803.7,652.1 814.7,652.9 816.8,650.6 805.9,649.8" fill="#1693a8" stroke="#1693a8"/></g>
<g><polygon points="830.0,672.1 841.0,673.0 842.1,657.2 831.0,656.4" fill="#1CBCD8" stroke="#1CBCD8"/><polygon points="841.0,673.0 843.1,670.6 844.1,654.9 842.1,657.2" fill="#127c8f" stroke="#127c8f"/><polygon points="831.0,656.4 842.1,657.2 844.1,654.9 833.1,654.1" fill="#1693a8" stroke="#1693a8"/></g>
<g><polygon points="857.7,674.3 868.8,675.2 870.0,659.4 858.8,658.5" fill="#1CBCD8" stroke="#1CBCD8"/><polygon points="868.8,675.2 870.7,672.7 871.9,657.0 870.0,659.4" fill="#127c8f" stroke="#127c8f"/><polygon points="858.8,658.5 870.0,659.4 871.9,657.0 860.7,656.2" fill="#1693a8" stroke="#1693a8"/></g>
<g><polygon points="270.1,634.1 279.2,634.9 278.2,614.6 269.1,613.9" fill="#8A5CB0" stroke="#8A5CB0"/><polygon points="279.2,634.9 283.9,632.9 282.9,612.6 278.2,614.6" fill="#5b3d74" stroke="#5b3d74"/><polygon points="269.1,613.9 278.2,614.6 282.9,612.6 273.8,612.0" fill="#6c4889" stroke="#6c4889"/></g>
<g><polygon points="293.0,636.0 302.2,636.7 301.2,614.6 292.0,613.9" fill="#8A5CB0" stroke="#8A5CB0"/><polygon points="302.2,636.7 306.8,634.7 305.8,612.6 301.2,614.6" fill="#5b3d74" stroke="#5b3d74"/><polygon points="292.0,613.9 301.2,614.6 305.8,612.6 296.6,612.0" fill="#6c4889" stroke="#6c4889"/></g>
<g><polygon points="316.1,637.8 325.4,638.5 324.4,613.1 315.0,612.4" fill="#8A5CB0" stroke="#8A5CB0"/><polygon points="325.4,638.5 329.8,636.5 328.9,611.1 324.4,613.1" fill="#5b3d74" stroke="#5b3d74"/><polygon points="315.0,612.4 324.4,613.1 328.9,611.1 319.6,610.5" fill="#6c4889" stroke="#6c4889"/></g>
<g><polygon points="339.4,639.6 348.8,640.4 348.1,622.3 338.7,621.6" fill="#8A5CB0" stroke="#8A5CB0"/><polygon points="348.8,640.4 353.1,638.3 352.5,620.4 348.1,622.3" fill="#5b3d74" stroke="#5b3d74"/><polygon points="338.7,621.6 348.1,622.3 352.5,620.4 343.1,619.6" fill="#6c4889" stroke="#6c4889"/></g>
<g><polygon points="362.9,641.5 372.3,642.3 371.8,624.6 362.3,623.8" fill="#8A5CB0" stroke="#8A5CB0"/><polygon points="372.3,642.3 376.6,640.2 376.1,622.6 371.8,624.6" fill="#5b3d74" stroke="#5b3d74"/><polygon points="362.3,623.8 371.8,624.6 376.1,622.6 366.6,621.8" fill="#6c4889" stroke="#6c4889"/></g>
<g><polygon points="386.6,643.4 396.1,644.2 395.7,626.5 386.1,625.8" fill="#8A5CB0" stroke="#8A5CB0"/><polygon points="396.1,644.2 400.3,642.1 399.9,624.5 395.7,626.5" fill="#5b3d74" stroke="#5b3d74"/><polygon points="386.1,625.8 395.7,626.5 399.9,624.5 390.3,623.7" fill="#6c4889" stroke="#6c4889"/></g>
<g><polygon points="410.5,645.3 420.1,646.1 419.7,626.5 410.1,625.8" fill="#8A5CB0" stroke="#8A5CB0"/><polygon points="420.1,646.1 424.2,643.9 423.8,624.5 419.7,626.5" fill="#5b3d74" stroke="#5b3d74"/><polygon points="410.1,625.8 419.7,626.5 423.8,624.5 414.2,623.7" fill="#6c4889" stroke="#6c4889"/></g>
<g><polygon points="434.6,647.2 444.4,648.0 444.1,631.5 434.4,630.8" fill="#8A5CB0" stroke="#8A5CB0"/><polygon points="444.4,648.0 448.3,645.8 448.1,629.5 444.1,631.5" fill="#5b3d74" stroke="#5b3d74"/><polygon points="434.4,630.8 444.1,631.5 448.1,629.5 438.4,628.7" fill="#6c4889" stroke="#6c4889"/></g>
<g><polygon points="459.0,649.2 468.8,649.9 468.7,634.6 458.8,633.8" fill="#8A5CB0" stroke="#8A5CB0"/><polygon points="468.8,649.9 472.6,647.8 472.5,632.5 468.7,634.6" fill="#5b3d74" stroke="#5b3d74"/><polygon points="458.8,633.8 468.7,634.6 472.5,632.5 462.7,631.7" fill="#6c4889" stroke="#6c4889"/></g>
<g><polygon points="483.6,651.1 493.5,651.9 493.4,633.9 483.5,633.1" fill="#8A5CB0" stroke="#8A5CB0"/><polygon points="493.5,651.9 497.2,649.7 497.1,631.8 493.4,633.9" fill="#5b3d74" stroke="#5b3d74"/><polygon points="483.5,633.1 493.4,633.9 497.1,631.8 487.2,631.0" fill="#6c4889" stroke="#6c4889"/></g>
<g><polygon points="508.4,653.1 518.4,653.9 518.4,636.2 508.4,635.4" fill="#8A5CB0" stroke="#8A5CB0"/><polygon points="518.4,653.9 522.0,651.7 522.0,634.1 518.4,636.2" fill="#5b3d74" stroke="#5b3d74"/><polygon points="508.4,635.4 518.4,636.2 522.0,634.1 512.0,633.3" fill="#6c4889" stroke="#6c4889"/></g>
<g><polygon points="533.4,655.1 543.5,655.9 543.6,637.9 533.5,637.2" fill="#8A5CB0" stroke="#8A5CB0"/><polygon points="543.5,655.9 547.0,653.6 547.1,635.8 543.6,637.9" fill="#5b3d74" stroke="#5b3d74"/><polygon points="533.5,637.2 543.6,637.9 547.1,635.8 537.0,635.0" fill="#6c4889" stroke="#6c4889"/></g>
<g><polygon points="558.7,657.1 568.8,657.9 569.0,640.4 558.8,639.6" fill="#8A5CB0" stroke="#8A5CB0"/><polygon points="568.8,657.9 572.2,655.6 572.4,638.2 569.0,640.4" fill="#5b3d74" stroke="#5b3d74"/><polygon points="558.8,639.6 569.0,640.4 572.4,638.2 562.3,637.4" fill="#6c4889" stroke="#6c4889"/></g>
<g><polygon points="584.2,659.1 594.4,659.9 594.7,645.2 584.4,644.4" fill="#8A5CB0" stroke="#8A5CB0"/><polygon points="594.4,659.9 597.7,657.7 597.9,643.0 594.7,645.2" fill="#5b3d74" stroke="#5b3d74"/><polygon points="584.4,644.4 594.7,645.2 597.9,643.0 587.7,642.2" fill="#6c4889" stroke="#6c4889"/></g>
<g><polygon points="609.9,661.2 620.2,662.0 620.6,645.2 610.2,644.4" fill="#8A5CB0" stroke="#8A5CB0"/><polygon points="620.2,662.0 623.4,659.7 623.8,643.0 620.6,645.2" fill="#5b3d74" stroke="#5b3d74"/><polygon points="610.2,644.4 620.6,645.2 623.8,643.0 613.4,642.2" fill="#6c4889" stroke="#6c4889"/></g>
<g><polygon points="635.9,663.2 646.3,664.1 646.8,648.3 636.3,647.5" fill="#8A5CB0" stroke="#8A5CB0"/><polygon points="646.3,664.1 649.3,661.7 649.8,646.1 646.8,648.3" fill="#5b3d74" stroke="#5b3d74"/><polygon points="636.3,647.5 646.8,648.3 649.8,646.1 639.3,645.3" fill="#6c4889" stroke="#6c4889"/></g>
<g><polygon points="662.1,665.3 672.6,666.1 673.1,652.1 662.5,651.3" fill="#8A5CB0" stroke="#8A5CB0"/><polygon points="672.6,666.1 675.5,663.8 676.0,649.8 673.1,652.1" fill="#5b3d74" stroke="#5b3d74"/><polygon points="662.5,651.3 673.1,652.1 676.0,649.8 665.5,649.0" fill="#6c4889" stroke="#6c4889"/></g>
<g><polygon points="688.5,667.4 699.2,668.3 699.9,650.8 689.2,650.0" fill="#8A5CB0" stroke="#8A5CB0"/><polygon points="699.2,668.3 702.0,665.9 702.6,648.6 699.9,650.8" fill="#5b3d74" stroke="#5b3d74"/><polygon points="689.2,650.0 699.9,650.8 702.6,648.6 692.0,647.7" fill="#6c4889" stroke="#6c4889"/></g>
<g><polygon points="715.2,669.5 726.0,670.4 726.8,653.2 716.0,652.4" fill="#8A5CB0" stroke="#8A5CB0"/><polygon points="726.0,670.4 728.6,668.0 729.4,650.9 726.8,653.2" fill="#5b3d74" stroke="#5b3d74"/><polygon points="716.0,652.4 726.8,653.2 729.4,650.9 718.7,650.1" fill="#6c4889" stroke="#6c4889"/></g>
<g><polygon points="742.2,671.7 753.1,672.5 754.0,654.2 743.1,653.3" fill="#8A5CB0" stroke="#8A5CB0"/><polygon points="753.1,672.5 755.6,670.1 756.5,651.9 754.0,654.2" fill="#5b3d74" stroke="#5b3d74"/><polygon points="743.1,653.3 754.0,654.2 756.5,651.9 745.7,651.0" fill="#6c4889" stroke="#6c4889"/></g>
<g><polygon points="769.4,673.8 780.4,674.7 781.3,659.7 770.3,658.8" fill="#8A5CB0" stroke="#8A5CB0"/><polygon points="780.4,674.7 782.8,672.3 783.6,657.3 781.3,659.7" fill="#5b3d74" stroke="#5b3d74"/><polygon points="770.3,658.8 781.3,659.7 783.6,657.3 772.7,656.5" fill="#6c4889" stroke="#6c4889"/></g>
<g><polygon points="796.9,676.0 808.0,676.9 808.9,662.4 797.8,661.5" fill="#8A5CB0" stroke="#8A5CB0"/><polygon points="808.0,676.9 810.2,674.5 811.1,660.0 808.9,662.4" fill="#5b3d74" stroke="#5b3d74"/><polygon points="797.8,661.5 808.9,662.4 811.1,660.0 800.1,659.2" fill="#6c4889" stroke="#6c4889"/></g>
<g><polygon points="824.7,678.2 835.9,679.1 836.9,664.5 825.6,663.7" fill="#8A5CB0" stroke="#8A5CB0"/><polygon points="835.9,679.1 837.9,676.7 838.9,662.1 836.9,664.5" fill="#5b3d74" stroke="#5b3d74"/><polygon points="825.6,663.7 836.9,664.5 838.9,662.1 827.8,661.3" fill="#6c4889" stroke="#6c4889"/></g>
<g><polygon points="852.7,680.5 864.0,681.4 865.5,660.6 854.2,659.8" fill="#8A5CB0" stroke="#8A5CB0"/><polygon points="864.0,681.4 865.9,678.9 867.5,658.2 865.5,660.6" fill="#5b3d74" stroke="#5b3d74"/><polygon points="854.2,659.8 865.5,660.6 867.5,658.2 856.2,657.4" fill="#6c4889" stroke="#6c4889"/></g>
<g><polygon points="258.2,639.3 267.4,640.0 266.4,620.2 257.1,619.5" fill="#8CC63E" stroke="#8CC63E"/><polygon points="267.4,640.0 272.2,637.9 271.2,618.2 266.4,620.2" fill="#5c8329" stroke="#5c8329"/><polygon points="257.1,619.5 266.4,620.2 271.2,618.2 262.0,617.5" fill="#6d9a30" stroke="#6d9a30"/></g>
<g><polygon points="281.3,641.1 290.6,641.9 289.6,619.6 280.2,618.9" fill="#8CC63E" stroke="#8CC63E"/><polygon points="290.6,641.9 295.3,639.8 294.3,617.6 289.6,619.6" fill="#5c8329" stroke="#5c8329"/><polygon points="280.2,618.9 289.6,619.6 294.3,617.6 285.0,616.9" fill="#6d9a30" stroke="#6d9a30"/></g>
<g><polygon points="304.6,643.0 314.0,643.8 313.2,623.3 303.7,622.5" fill="#8CC63E" stroke="#8CC63E"/><polygon points="314.0,643.8 318.6,641.7 317.8,621.3 313.2,623.3" fill="#5c8329" stroke="#5c8329"/><polygon points="303.7,622.5 313.2,623.3 317.8,621.3 308.4,620.5" fill="#6d9a30" stroke="#6d9a30"/></g>
<g><polygon points="328.2,644.9 337.7,645.7 336.8,623.0 327.3,622.3" fill="#8CC63E" stroke="#8CC63E"/><polygon points="337.7,645.7 342.1,643.5 341.3,621.0 336.8,623.0" fill="#5c8329" stroke="#5c8329"/><polygon points="327.3,622.3 336.8,623.0 341.3,621.0 331.8,620.2" fill="#6d9a30" stroke="#6d9a30"/></g>
<g><polygon points="351.9,646.8 361.5,647.6 360.9,628.1 351.3,627.4" fill="#8CC63E" stroke="#8CC63E"/><polygon points="361.5,647.6 365.9,645.4 365.3,626.1 360.9,628.1" fill="#5c8329" stroke="#5c8329"/><polygon points="351.3,627.4 360.9,628.1 365.3,626.1 355.7,625.3" fill="#6d9a30" stroke="#6d9a30"/></g>
<g><polygon points="375.9,648.7 385.5,649.5 385.0,628.1 375.3,627.4" fill="#8CC63E" stroke="#8CC63E"/><polygon points="385.5,649.5 389.8,647.4 389.3,626.1 385.0,628.1" fill="#5c8329" stroke="#5c8329"/><polygon points="375.3,627.4 385.0,628.1 389.3,626.1 379.6,625.3" fill="#6d9a30" stroke="#6d9a30"/></g>
<g><polygon points="400.1,650.7 409.8,651.5 409.4,630.7 399.6,629.9" fill="#8CC63E" stroke="#8CC63E"/><polygon points="409.8,651.5 414.0,649.3 413.5,628.6 409.4,630.7" fill="#5c8329" stroke="#5c8329"/><polygon points="399.6,629.9 409.4,630.7 413.5,628.6 403.8,627.8" fill="#6d9a30" stroke="#6d9a30"/></g>
<g><polygon points="424.5,652.7 434.3,653.5 434.0,635.3 424.1,634.5" fill="#8CC63E" stroke="#8CC63E"/><polygon points="434.3,653.5 438.4,651.3 438.1,633.2 434.0,635.3" fill="#5c8329" stroke="#5c8329"/><polygon points="424.1,634.5 434.0,635.3 438.1,633.2 428.3,632.4" fill="#6d9a30" stroke="#6d9a30"/></g>
<g><polygon points="449.1,654.7 459.0,655.5 458.8,639.2 448.9,638.5" fill="#8CC63E" stroke="#8CC63E"/><polygon points="459.0,655.5 463.0,653.2 462.8,637.1 458.8,639.2" fill="#5c8329" stroke="#5c8329"/><polygon points="448.9,638.5 458.8,639.2 462.8,637.1 452.9,636.3" fill="#6d9a30" stroke="#6d9a30"/></g>
<g><polygon points="474.0,656.7 484.0,657.5 483.9,639.8 473.8,639.1" fill="#8CC63E" stroke="#8CC63E"/><polygon points="484.0,657.5 487.8,655.2 487.7,637.7 483.9,639.8" fill="#5c8329" stroke="#5c8329"/><polygon points="473.8,639.1 483.9,639.8 487.7,637.7 477.7,636.9" fill="#6d9a30" stroke="#6d9a30"/></g>
<g><polygon points="499.1,658.7 509.1,659.5 509.1,634.6 499.0,633.9" fill="#8CC63E" stroke="#8CC63E"/><polygon points="509.1,659.5 512.9,657.2 512.9,632.5 509.1,634.6" fill="#5c8329" stroke="#5c8329"/><polygon points="499.0,633.9 509.1,634.6 512.9,632.5 502.7,631.7" fill="#6d9a30" stroke="#6d9a30"/></g>
<g><polygon points="524.4,660.7 534.6,661.5 534.7,638.7 524.4,637.9" fill="#8CC63E" stroke="#8CC63E"/><polygon points="534.6,661.5 538.2,659.3 538.3,636.5 534.7,638.7" fill="#5c8329" stroke="#5c8329"/><polygon points="524.4,637.9 534.7,638.7 538.3,636.5 528.1,635.7" fill="#6d9a30" stroke="#6d9a30"/></g>
<g><polygon points="549.9,662.8 560.2,663.6 560.4,644.7 550.1,643.9" fill="#8CC63E" stroke="#8CC63E"/><polygon points="560.2,663.6 563.7,661.3 563.9,642.5 560.4,644.7" fill="#5c8329" stroke="#5c8329"/><polygon points="550.1,643.9 560.4,644.7 563.9,642.5 553.6,641.7" fill="#6d9a30" stroke="#6d9a30"/></g>
<g><polygon points="575.7,664.9 586.1,665.7 586.4,645.9 576.0,645.1" fill="#8CC63E" stroke="#8CC63E"/><polygon points="586.1,665.7 589.5,663.4 589.8,643.7 586.4,645.9" fill="#5c8329" stroke="#5c8329"/><polygon points="576.0,645.1 586.4,645.9 589.8,643.7 579.4,642.9" fill="#6d9a30" stroke="#6d9a30"/></g>
<g><polygon points="601.8,667.0 612.2,667.8 612.7,647.2 602.1,646.3" fill="#8CC63E" stroke="#8CC63E"/><polygon points="612.2,667.8 615.5,665.5 615.9,644.9 612.7,647.2" fill="#5c8329" stroke="#5c8329"/><polygon points="602.1,646.3 612.7,647.2 615.9,644.9 605.4,644.1" fill="#6d9a30" stroke="#6d9a30"/></g>
<g><polygon points="628.0,669.1 638.6,669.9 639.2,649.2 628.5,648.4" fill="#8CC63E" stroke="#8CC63E"/><polygon points="638.6,669.9 641.7,667.6 642.3,646.9 639.2,649.2" fill="#5c8329" stroke="#5c8329"/><polygon points="628.5,648.4 639.2,649.2 642.3,646.9 631.7,646.1" fill="#6d9a30" stroke="#6d9a30"/></g>
<g><polygon points="654.6,671.2 665.3,672.1 665.7,656.9 655.0,656.1" fill="#8CC63E" stroke="#8CC63E"/><polygon points="665.3,672.1 668.2,669.7 668.7,654.6 665.7,656.9" fill="#5c8329" stroke="#5c8329"/><polygon points="655.0,656.1 665.7,656.9 668.7,654.6 658.0,653.8" fill="#6d9a30" stroke="#6d9a30"/></g>
<g><polygon points="681.4,673.4 692.1,674.3 692.9,654.8 682.0,653.9" fill="#8CC63E" stroke="#8CC63E"/><polygon points="692.1,674.3 695.0,671.8 695.7,652.4 692.9,654.8" fill="#5c8329" stroke="#5c8329"/><polygon points="682.0,653.9 692.9,654.8 695.7,652.4 684.9,651.6" fill="#6d9a30" stroke="#6d9a30"/></g>
<g><polygon points="708.4,675.6 719.3,676.5 720.3,652.1 709.4,651.2" fill="#8CC63E" stroke="#8CC63E"/><polygon points="719.3,676.5 722.0,674.0 723.1,649.7 720.3,652.1" fill="#5c8329" stroke="#5c8329"/><polygon points="709.4,651.2 720.3,652.1 723.1,649.7 712.2,648.9" fill="#6d9a30" stroke="#6d9a30"/></g>
<g><polygon points="735.7,677.8 746.7,678.7 747.8,655.8 736.8,654.9" fill="#8CC63E" stroke="#8CC63E"/><polygon points="746.7,678.7 749.3,676.2 750.4,653.4 747.8,655.8" fill="#5c8329" stroke="#5c8329"/><polygon points="736.8,654.9 747.8,655.8 750.4,653.4 739.4,652.6" fill="#6d9a30" stroke="#6d9a30"/></g>
<g><polygon points="763.3,680.0 774.4,680.9 775.6,659.4 764.4,658.5" fill="#8CC63E" stroke="#8CC63E"/><polygon points="774.4,680.9 776.8,678.4 778.0,657.0 775.6,659.4" fill="#5c8329" stroke="#5c8329"/><polygon points="764.4,658.5 775.6,659.4 778.0,657.0 766.9,656.1" fill="#6d9a30" stroke="#6d9a30"/></g>
<g><polygon points="791.1,682.2 802.3,683.2 803.4,665.8 792.1,664.9" fill="#8CC63E" stroke="#8CC63E"/><polygon points="802.3,683.2 804.6,680.6 805.7,663.3 803.4,665.8" fill="#5c8329" stroke="#5c8329"/><polygon points="792.1,664.9 803.4,665.8 805.7,663.3 794.5,662.5" fill="#6d9a30" stroke="#6d9a30"/></g>
<g><polygon points="819.2,684.5 830.5,685.4 831.9,665.8 820.5,664.9" fill="#8CC63E" stroke="#8CC63E"/><polygon points="830.5,685.4 832.7,682.9 834.0,663.3 831.9,665.8" fill="#5c8329" stroke="#5c8329"/><polygon points="820.5,664.9 831.9,665.8 834.0,663.3 822.7,662.5" fill="#6d9a30" stroke="#6d9a30"/></g>
<g><polygon points="847.6,686.8 859.1,687.7 860.6,667.1 849.1,666.2" fill="#8CC63E" stroke="#8CC63E"/><polygon points="859.1,687.7 861.0,685.2 862.6,664.6 860.6,667.1" fill="#5c8329" stroke="#5c8329"/><polygon points="849.1,666.2 860.6,667.1 862.6,664.6 851.1,663.8" fill="#6d9a30" stroke="#6d9a30"/></g>
<g><polygon points="246.0,644.5 255.3,645.3 254.2,625.7 244.9,625.0" fill="#E2443F" stroke="#E2443F"/><polygon points="255.3,645.3 260.2,643.1 259.1,623.7 254.2,625.7" fill="#952d2a" stroke="#952d2a"/><polygon points="244.9,625.0 254.2,625.7 259.1,623.7 249.8,622.9" fill="#b03531" stroke="#b03531"/></g>
<g><polygon points="269.3,646.4 278.7,647.2 277.6,624.9 268.2,624.2" fill="#E2443F" stroke="#E2443F"/><polygon points="278.7,647.2 283.5,645.0 282.5,622.9 277.6,624.9" fill="#952d2a" stroke="#952d2a"/><polygon points="268.2,624.2 277.6,624.9 282.5,622.9 273.1,622.1" fill="#b03531" stroke="#b03531"/></g>
<g><polygon points="292.9,648.3 302.4,649.1 301.4,626.8 291.9,626.1" fill="#E2443F" stroke="#E2443F"/><polygon points="302.4,649.1 307.1,647.0 306.1,624.8 301.4,626.8" fill="#952d2a" stroke="#952d2a"/><polygon points="291.9,626.1 301.4,626.8 306.1,624.8 296.6,624.0" fill="#b03531" stroke="#b03531"/></g>
<g><polygon points="316.7,650.3 326.3,651.1 325.4,630.0 315.8,629.2" fill="#E2443F" stroke="#E2443F"/><polygon points="326.3,651.1 330.9,648.9 330.1,627.9 325.4,630.0" fill="#952d2a" stroke="#952d2a"/><polygon points="315.8,629.2 325.4,630.0 330.1,627.9 320.5,627.1" fill="#b03531" stroke="#b03531"/></g>
<g><polygon points="340.7,652.3 350.4,653.0 349.7,634.7 340.0,634.0" fill="#E2443F" stroke="#E2443F"/><polygon points="350.4,653.0 354.9,650.8 354.2,632.6 349.7,634.7" fill="#952d2a" stroke="#952d2a"/><polygon points="340.0,634.0 349.7,634.7 354.2,632.6 344.6,631.9" fill="#b03531" stroke="#b03531"/></g>
<g><polygon points="364.9,654.2 374.7,655.0 374.2,639.2 364.4,638.5" fill="#E2443F" stroke="#E2443F"/><polygon points="374.7,655.0 379.1,652.8 378.6,637.1 374.2,639.2" fill="#952d2a" stroke="#952d2a"/><polygon points="364.4,638.5 374.2,639.2 378.6,637.1 368.9,636.3" fill="#b03531" stroke="#b03531"/></g>
<g><polygon points="389.4,656.2 399.2,657.0 398.8,640.8 389.0,640.1" fill="#E2443F" stroke="#E2443F"/><polygon points="399.2,657.0 403.5,654.8 403.1,638.7 398.8,640.8" fill="#952d2a" stroke="#952d2a"/><polygon points="389.0,640.1 398.8,640.8 403.1,638.7 393.3,637.9" fill="#b03531" stroke="#b03531"/></g>
<g><polygon points="414.1,658.3 424.0,659.1 423.7,643.1 413.7,642.3" fill="#E2443F" stroke="#E2443F"/><polygon points="424.0,659.1 428.2,656.8 427.9,640.9 423.7,643.1" fill="#952d2a" stroke="#952d2a"/><polygon points="413.7,642.3 423.7,643.1 427.9,640.9 417.9,640.1" fill="#b03531" stroke="#b03531"/></g>
<g><polygon points="439.0,660.3 449.0,661.1 448.7,641.6 438.7,640.8" fill="#E2443F" stroke="#E2443F"/><polygon points="449.0,661.1 453.0,658.8 452.8,639.4 448.7,641.6" fill="#952d2a" stroke="#952d2a"/><polygon points="438.7,640.8 448.7,641.6 452.8,639.4 442.8,638.6" fill="#b03531" stroke="#b03531"/></g>
<g><polygon points="464.1,662.4 474.2,663.2 474.1,646.1 463.9,645.3" fill="#E2443F" stroke="#E2443F"/><polygon points="474.2,663.2 478.2,660.9 478.0,643.9 474.1,646.1" fill="#952d2a" stroke="#952d2a"/><polygon points="463.9,645.3 474.1,646.1 478.0,643.9 467.9,643.1" fill="#b03531" stroke="#b03531"/></g>
<g><polygon points="489.5,664.4 499.7,665.3 499.6,646.1 489.4,645.3" fill="#E2443F" stroke="#E2443F"/><polygon points="499.7,665.3 503.5,662.9 503.5,643.9 499.6,646.1" fill="#952d2a" stroke="#952d2a"/><polygon points="489.4,645.3 499.6,646.1 503.5,643.9 493.3,643.1" fill="#b03531" stroke="#b03531"/></g>
<g><polygon points="515.1,666.5 525.4,667.4 525.4,648.4 515.1,647.5" fill="#E2443F" stroke="#E2443F"/><polygon points="525.4,667.4 529.1,665.0 529.2,646.1 525.4,648.4" fill="#952d2a" stroke="#952d2a"/><polygon points="515.1,647.5 525.4,648.4 529.2,646.1 518.8,645.3" fill="#b03531" stroke="#b03531"/></g>
<g><polygon points="540.9,668.6 551.4,669.5 551.5,650.9 541.0,650.1" fill="#E2443F" stroke="#E2443F"/><polygon points="551.4,669.5 554.9,667.1 555.1,648.6 551.5,650.9" fill="#952d2a" stroke="#952d2a"/><polygon points="541.0,650.1 551.5,650.9 555.1,648.6 544.7,647.8" fill="#b03531" stroke="#b03531"/></g>
<g><polygon points="567.0,670.8 577.6,671.6 577.8,654.5 567.2,653.7" fill="#E2443F" stroke="#E2443F"/><polygon points="577.6,671.6 581.0,669.3 581.2,652.2 577.8,654.5" fill="#952d2a" stroke="#952d2a"/><polygon points="567.2,653.7 577.8,654.5 581.2,652.2 570.7,651.4" fill="#b03531" stroke="#b03531"/></g>
<g><polygon points="593.4,672.9 604.0,673.8 604.3,655.7 593.7,654.9" fill="#E2443F" stroke="#E2443F"/><polygon points="604.0,673.8 607.3,671.4 607.7,653.4 604.3,655.7" fill="#952d2a" stroke="#952d2a"/><polygon points="593.7,654.9 604.3,655.7 607.7,653.4 597.1,652.6" fill="#b03531" stroke="#b03531"/></g>
<g><polygon points="620.0,675.1 630.7,676.0 631.1,660.6 620.3,659.7" fill="#E2443F" stroke="#E2443F"/><polygon points="630.7,676.0 633.9,673.6 634.3,658.2 631.1,660.6" fill="#952d2a" stroke="#952d2a"/><polygon points="620.3,659.7 631.1,660.6 634.3,658.2 623.6,657.4" fill="#b03531" stroke="#b03531"/></g>
<g><polygon points="646.9,677.3 657.7,678.2 658.0,666.7 647.2,665.9" fill="#E2443F" stroke="#E2443F"/><polygon points="657.7,678.2 660.7,675.7 661.1,664.3 658.0,666.7" fill="#952d2a" stroke="#952d2a"/><polygon points="647.2,665.9 658.0,666.7 661.1,664.3 650.3,663.5" fill="#b03531" stroke="#b03531"/></g>
<g><polygon points="674.0,679.5 684.9,680.4 685.7,659.3 674.7,658.5" fill="#E2443F" stroke="#E2443F"/><polygon points="684.9,680.4 687.8,677.9 688.6,656.9 685.7,659.3" fill="#952d2a" stroke="#952d2a"/><polygon points="674.7,658.5 685.7,659.3 688.6,656.9 677.7,656.1" fill="#b03531" stroke="#b03531"/></g>
<g><polygon points="701.4,681.8 712.4,682.7 713.1,665.6 702.0,664.7" fill="#E2443F" stroke="#E2443F"/><polygon points="712.4,682.7 715.2,680.2 715.9,663.1 713.1,665.6" fill="#952d2a" stroke="#952d2a"/><polygon points="702.0,664.7 713.1,665.6 715.9,663.1 704.9,662.3" fill="#b03531" stroke="#b03531"/></g>
<g><polygon points="729.0,684.0 740.1,685.0 741.0,667.4 729.8,666.5" fill="#E2443F" stroke="#E2443F"/><polygon points="740.1,685.0 742.8,682.4 743.6,664.9 741.0,667.4" fill="#952d2a" stroke="#952d2a"/><polygon points="729.8,666.5 741.0,667.4 743.6,664.9 732.5,664.1" fill="#b03531" stroke="#b03531"/></g>
<g><polygon points="756.9,686.3 768.2,687.3 769.1,670.3 757.8,669.4" fill="#E2443F" stroke="#E2443F"/><polygon points="768.2,687.3 770.7,684.7 771.6,667.8 769.1,670.3" fill="#952d2a" stroke="#952d2a"/><polygon points="757.8,669.4 769.1,670.3 771.6,667.8 760.4,667.0" fill="#b03531" stroke="#b03531"/></g>
<g><polygon points="785.1,688.6 796.5,689.6 797.4,674.8 786.0,673.9" fill="#E2443F" stroke="#E2443F"/><polygon points="796.5,689.6 798.8,687.0 799.7,672.2 797.4,674.8" fill="#952d2a" stroke="#952d2a"/><polygon points="786.0,673.9 797.4,674.8 799.7,672.2 788.4,671.4" fill="#b03531" stroke="#b03531"/></g>
<g><polygon points="813.6,691.0 825.1,691.9 826.0,677.4 814.5,676.5" fill="#E2443F" stroke="#E2443F"/><polygon points="825.1,691.9 827.3,689.3 828.2,674.9 826.0,677.4" fill="#952d2a" stroke="#952d2a"/><polygon points="814.5,676.5 826.0,677.4 828.2,674.9 816.8,673.9" fill="#b03531" stroke="#b03531"/></g>
<g><polygon points="842.4,693.3 854.0,694.3 855.3,676.1 843.6,675.2" fill="#E2443F" stroke="#E2443F"/><polygon points="854.0,694.3 856.0,691.6 857.3,673.6 855.3,676.1" fill="#952d2a" stroke="#952d2a"/><polygon points="843.6,675.2 855.3,676.1 857.3,673.6 845.8,672.6" fill="#b03531" stroke="#b03531"/></g>
<g><polygon points="233.4,649.9 242.9,650.7 241.7,629.6 232.2,628.8" fill="#2A82CC" stroke="#2A82CC"/><polygon points="242.9,650.7 247.9,648.5 246.7,627.5 241.7,629.6" fill="#1c5687" stroke="#1c5687"/><polygon points="232.2,628.8 241.7,629.6 246.7,627.5 237.3,626.8" fill="#21659f" stroke="#21659f"/></g>
<g><polygon points="257.1,651.8 266.6,652.6 264.6,615.4 255.0,614.7" fill="#2A82CC" stroke="#2A82CC"/><polygon points="266.6,652.6 271.5,650.4 269.6,613.4 264.6,615.4" fill="#1c5687" stroke="#1c5687"/><polygon points="255.0,614.7 264.6,615.4 269.6,613.4 260.0,612.6" fill="#21659f" stroke="#21659f"/></g>
<g><polygon points="280.9,653.8 290.5,654.6 289.5,634.7 279.9,633.9" fill="#2A82CC" stroke="#2A82CC"/><polygon points="290.5,654.6 295.3,652.4 294.4,632.6 289.5,634.7" fill="#1c5687" stroke="#1c5687"/><polygon points="279.9,633.9 289.5,634.7 294.4,632.6 284.8,631.8" fill="#21659f" stroke="#21659f"/></g>
<g><polygon points="304.9,655.8 314.6,656.6 313.6,632.0 303.8,631.2" fill="#2A82CC" stroke="#2A82CC"/><polygon points="314.6,656.6 319.3,654.4 318.3,629.9 313.6,632.0" fill="#1c5687" stroke="#1c5687"/><polygon points="303.8,631.2 313.6,632.0 318.3,629.9 308.6,629.1" fill="#21659f" stroke="#21659f"/></g>
<g><polygon points="329.2,657.8 339.0,658.6 338.2,637.5 328.4,636.8" fill="#2A82CC" stroke="#2A82CC"/><polygon points="339.0,658.6 343.6,656.4 342.8,635.4 338.2,637.5" fill="#1c5687" stroke="#1c5687"/><polygon points="328.4,636.8 338.2,637.5 342.8,635.4 333.0,634.6" fill="#21659f" stroke="#21659f"/></g>
<g><polygon points="353.7,659.9 363.5,660.7 362.9,641.6 353.0,640.8" fill="#2A82CC" stroke="#2A82CC"/><polygon points="363.5,660.7 368.0,658.4 367.5,639.4 362.9,641.6" fill="#1c5687" stroke="#1c5687"/><polygon points="353.0,640.8 362.9,641.6 367.5,639.4 357.6,638.6" fill="#21659f" stroke="#21659f"/></g>
<g><polygon points="378.4,661.9 388.4,662.8 387.8,640.4 377.8,639.6" fill="#2A82CC" stroke="#2A82CC"/><polygon points="388.4,662.8 392.7,660.5 392.2,638.2 387.8,640.4" fill="#1c5687" stroke="#1c5687"/><polygon points="377.8,639.6 387.8,640.4 392.2,638.2 382.2,637.4" fill="#21659f" stroke="#21659f"/></g>
<g><polygon points="403.4,664.0 413.4,664.8 413.1,648.4 403.0,647.6" fill="#2A82CC" stroke="#2A82CC"/><polygon points="413.4,664.8 417.7,662.5 417.3,646.2 413.1,648.4" fill="#1c5687" stroke="#1c5687"/><polygon points="403.0,647.6 413.1,648.4 417.3,646.2 407.3,645.4" fill="#21659f" stroke="#21659f"/></g>
<g><polygon points="428.5,666.1 438.7,666.9 438.4,647.8 428.2,646.9" fill="#2A82CC" stroke="#2A82CC"/><polygon points="438.7,666.9 442.8,664.6 442.6,645.5 438.4,647.8" fill="#1c5687" stroke="#1c5687"/><polygon points="428.2,646.9 438.4,647.8 442.6,645.5 432.4,644.7" fill="#21659f" stroke="#21659f"/></g>
<g><polygon points="454.0,668.2 464.2,669.1 464.0,649.7 453.7,648.9" fill="#2A82CC" stroke="#2A82CC"/><polygon points="464.2,669.1 468.3,666.7 468.1,647.4 464.0,649.7" fill="#1c5687" stroke="#1c5687"/><polygon points="453.7,648.9 464.0,649.7 468.1,647.4 457.8,646.6" fill="#21659f" stroke="#21659f"/></g>
<g><polygon points="479.6,670.3 490.0,671.2 489.9,651.9 479.5,651.1" fill="#2A82CC" stroke="#2A82CC"/><polygon points="490.0,671.2 493.9,668.8 493.8,649.6 489.9,651.9" fill="#1c5687" stroke="#1c5687"/><polygon points="479.5,651.1 489.9,651.9 493.8,649.6 483.5,648.8" fill="#21659f" stroke="#21659f"/></g>
<g><polygon points="505.6,672.5 516.0,673.4 516.0,643.9 505.5,643.1" fill="#2A82CC" stroke="#2A82CC"/><polygon points="516.0,673.4 519.8,670.9 519.8,641.6 516.0,643.9" fill="#1c5687" stroke="#1c5687"/><polygon points="505.5,643.1 516.0,643.9 519.8,641.6 509.4,640.8" fill="#21659f" stroke="#21659f"/></g>
<g><polygon points="531.7,674.7 542.3,675.5 542.4,658.9 531.8,658.0" fill="#2A82CC" stroke="#2A82CC"/><polygon points="542.3,675.5 545.9,673.1 546.0,656.5 542.4,658.9" fill="#1c5687" stroke="#1c5687"/><polygon points="531.8,658.0 542.4,658.9 546.0,656.5 535.5,655.7" fill="#21659f" stroke="#21659f"/></g>
<g><polygon points="558.1,676.9 568.8,677.7 569.0,659.4 558.3,658.5" fill="#2A82CC" stroke="#2A82CC"/><polygon points="568.8,677.7 572.3,675.3 572.5,657.0 569.0,659.4" fill="#1c5687" stroke="#1c5687"/><polygon points="558.3,658.5 569.0,659.4 572.5,657.0 561.9,656.2" fill="#21659f" stroke="#21659f"/></g>
<g><polygon points="584.8,679.1 595.5,680.0 595.9,661.8 585.1,661.0" fill="#2A82CC" stroke="#2A82CC"/><polygon points="595.5,680.0 599.0,677.5 599.3,659.4 595.9,661.8" fill="#1c5687" stroke="#1c5687"/><polygon points="585.1,661.0 595.9,661.8 599.3,659.4 588.5,658.6" fill="#21659f" stroke="#21659f"/></g>
<g><polygon points="611.7,681.3 622.6,682.2 623.1,658.2 612.2,657.4" fill="#2A82CC" stroke="#2A82CC"/><polygon points="622.6,682.2 625.9,679.7 626.4,655.8 623.1,658.2" fill="#1c5687" stroke="#1c5687"/><polygon points="612.2,657.4 623.1,658.2 626.4,655.8 615.6,655.0" fill="#21659f" stroke="#21659f"/></g>
<g><polygon points="638.9,683.6 649.9,684.5 650.3,668.7 639.3,667.8" fill="#2A82CC" stroke="#2A82CC"/><polygon points="649.9,684.5 653.0,682.0 653.5,666.2 650.3,668.7" fill="#1c5687" stroke="#1c5687"/><polygon points="639.3,667.8 650.3,668.7 653.5,666.2 642.5,665.4" fill="#21659f" stroke="#21659f"/></g>
<g><polygon points="666.4,685.9 677.4,686.8 678.3,661.9 667.2,661.0" fill="#2A82CC" stroke="#2A82CC"/><polygon points="677.4,686.8 680.5,684.2 681.3,659.4 678.3,661.9" fill="#1c5687" stroke="#1c5687"/><polygon points="667.2,661.0 678.3,661.9 681.3,659.4 670.3,658.6" fill="#21659f" stroke="#21659f"/></g>
<g><polygon points="694.1,688.2 705.3,689.1 706.1,668.0 694.9,667.1" fill="#2A82CC" stroke="#2A82CC"/><polygon points="705.3,689.1 708.2,686.5 709.0,665.5 706.1,668.0" fill="#1c5687" stroke="#1c5687"/><polygon points="694.9,667.1 706.1,668.0 709.0,665.5 697.8,664.7" fill="#21659f" stroke="#21659f"/></g>
<g><polygon points="722.1,690.5 733.4,691.4 734.4,669.1 723.1,668.2" fill="#2A82CC" stroke="#2A82CC"/><polygon points="733.4,691.4 736.1,688.8 737.2,666.6 734.4,669.1" fill="#1c5687" stroke="#1c5687"/><polygon points="723.1,668.2 734.4,669.1 737.2,666.6 725.9,665.8" fill="#21659f" stroke="#21659f"/></g>
<g><polygon points="750.4,692.8 761.8,693.8 762.7,676.3 751.3,675.4" fill="#2A82CC" stroke="#2A82CC"/><polygon points="761.8,693.8 764.4,691.2 765.3,673.8 762.7,676.3" fill="#1c5687" stroke="#1c5687"/><polygon points="751.3,675.4 762.7,676.3 765.3,673.8 753.9,672.8" fill="#21659f" stroke="#21659f"/></g>
<g><polygon points="779.0,695.2 790.5,696.2 791.4,680.4 779.9,679.5" fill="#2A82CC" stroke="#2A82CC"/><polygon points="790.5,696.2 792.9,693.5 793.8,677.9 791.4,680.4" fill="#1c5687" stroke="#1c5687"/><polygon points="779.9,679.5 791.4,680.4 793.8,677.9 782.4,676.9" fill="#21659f" stroke="#21659f"/></g>
<g><polygon points="807.8,697.6 819.5,698.6 820.9,676.1 809.2,675.2" fill="#2A82CC" stroke="#2A82CC"/><polygon points="819.5,698.6 821.7,695.9 823.2,673.6 820.9,676.1" fill="#1c5687" stroke="#1c5687"/><polygon points="809.2,675.2 820.9,676.1 823.2,673.6 811.6,672.6" fill="#21659f" stroke="#21659f"/></g>
<g><polygon points="837.0,700.0 848.7,701.0 850.3,679.5 838.5,678.5" fill="#2A82CC" stroke="#2A82CC"/><polygon points="848.7,701.0 850.8,698.3 852.4,676.9 850.3,679.5" fill="#1c5687" stroke="#1c5687"/><polygon points="838.5,678.5 850.3,679.5 852.4,676.9 840.6,675.9" fill="#21659f" stroke="#21659f"/></g>
<g><polygon points="220.6,655.4 230.1,656.2 229.1,639.6 219.6,638.8" fill="#F08226" stroke="#F08226"/><polygon points="230.1,656.2 235.2,654.0 234.3,637.4 229.1,639.6" fill="#9e5619" stroke="#9e5619"/><polygon points="219.6,638.8 229.1,639.6 234.3,637.4 224.8,636.7" fill="#bb651e" stroke="#bb651e"/></g>
<g><polygon points="244.4,657.4 254.0,658.2 252.6,632.0 243.0,631.2" fill="#F08226" stroke="#F08226"/><polygon points="254.0,658.2 259.1,656.0 257.7,629.9 252.6,632.0" fill="#9e5619" stroke="#9e5619"/><polygon points="243.0,631.2 252.6,632.0 257.7,629.9 248.1,629.1" fill="#bb651e" stroke="#bb651e"/></g>
<g><polygon points="268.5,659.4 278.2,660.3 277.3,642.3 267.6,641.5" fill="#F08226" stroke="#F08226"/><polygon points="278.2,660.3 283.2,658.0 282.3,640.1 277.3,642.3" fill="#9e5619" stroke="#9e5619"/><polygon points="267.6,641.5 277.3,642.3 282.3,640.1 272.6,639.4" fill="#bb651e" stroke="#bb651e"/></g>
<g><polygon points="292.8,661.5 302.6,662.3 301.7,641.2 291.8,640.4" fill="#F08226" stroke="#F08226"/><polygon points="302.6,662.3 307.5,660.0 306.5,639.0 301.7,641.2" fill="#9e5619" stroke="#9e5619"/><polygon points="291.8,640.4 301.7,641.2 306.5,639.0 296.8,638.2" fill="#bb651e" stroke="#bb651e"/></g>
<g><polygon points="317.4,663.6 327.2,664.4 326.5,646.2 316.6,645.4" fill="#F08226" stroke="#F08226"/><polygon points="327.2,664.4 332.0,662.1 331.3,644.0 326.5,646.2" fill="#9e5619" stroke="#9e5619"/><polygon points="316.6,645.4 326.5,646.2 331.3,644.0 321.4,643.2" fill="#bb651e" stroke="#bb651e"/></g>
<g><polygon points="342.1,665.7 352.1,666.5 351.5,649.7 341.5,648.8" fill="#F08226" stroke="#F08226"/><polygon points="352.1,666.5 356.7,664.2 356.2,647.4 351.5,649.7" fill="#9e5619" stroke="#9e5619"/><polygon points="341.5,648.8 351.5,649.7 356.2,647.4 346.2,646.6" fill="#bb651e" stroke="#bb651e"/></g>
<g><polygon points="367.1,667.8 377.2,668.6 376.6,649.2 366.5,648.4" fill="#F08226" stroke="#F08226"/><polygon points="377.2,668.6 381.7,666.2 381.2,646.9 376.6,649.2" fill="#9e5619" stroke="#9e5619"/><polygon points="366.5,648.4 376.6,649.2 381.2,646.9 371.1,646.1" fill="#bb651e" stroke="#bb651e"/></g>
<g><polygon points="392.4,669.9 402.5,670.7 402.1,653.1 391.9,652.3" fill="#F08226" stroke="#F08226"/><polygon points="402.5,670.7 406.9,668.4 406.5,650.8 402.1,653.1" fill="#9e5619" stroke="#9e5619"/><polygon points="391.9,652.3 402.1,653.1 406.5,650.8 396.4,650.0" fill="#bb651e" stroke="#bb651e"/></g>
<g><polygon points="417.8,672.0 428.1,672.9 427.9,658.9 417.6,658.0" fill="#F08226" stroke="#F08226"/><polygon points="428.1,672.9 432.4,670.5 432.1,656.5 427.9,658.9" fill="#9e5619" stroke="#9e5619"/><polygon points="417.6,658.0 427.9,658.9 432.1,656.5 421.9,655.7" fill="#bb651e" stroke="#bb651e"/></g>
<g><polygon points="443.6,674.2 453.9,675.1 453.7,660.1 443.3,659.2" fill="#F08226" stroke="#F08226"/><polygon points="453.9,675.1 458.1,672.7 457.9,657.7 453.7,660.1" fill="#9e5619" stroke="#9e5619"/><polygon points="443.3,659.2 453.7,660.1 457.9,657.7 447.6,656.9" fill="#bb651e" stroke="#bb651e"/></g>
<g><polygon points="469.5,676.4 480.0,677.3 479.9,658.5 469.4,657.6" fill="#F08226" stroke="#F08226"/><polygon points="480.0,677.3 484.0,674.8 483.9,656.1 479.9,658.5" fill="#9e5619" stroke="#9e5619"/><polygon points="469.4,657.6 479.9,658.5 483.9,656.1 473.5,655.3" fill="#bb651e" stroke="#bb651e"/></g>
<g><polygon points="495.8,678.6 506.3,679.5 506.3,660.8 495.7,660.0" fill="#F08226" stroke="#F08226"/><polygon points="506.3,679.5 510.2,677.0 510.2,658.4 506.3,660.8" fill="#9e5619" stroke="#9e5619"/><polygon points="495.7,660.0 506.3,660.8 510.2,658.4 499.7,657.6" fill="#bb651e" stroke="#bb651e"/></g>
<g><polygon points="522.2,680.9 532.9,681.8 533.0,663.8 522.3,663.0" fill="#F08226" stroke="#F08226"/><polygon points="532.9,681.8 536.7,679.2 536.8,661.4 533.0,663.8" fill="#9e5619" stroke="#9e5619"/><polygon points="522.3,663.0 533.0,663.8 536.8,661.4 526.1,660.6" fill="#bb651e" stroke="#bb651e"/></g>
<g><polygon points="549.0,683.1 559.7,684.0 559.9,666.8 549.1,665.9" fill="#F08226" stroke="#F08226"/><polygon points="559.7,684.0 563.4,681.5 563.6,664.3 559.9,666.8" fill="#9e5619" stroke="#9e5619"/><polygon points="549.1,665.9 559.9,666.8 563.6,664.3 552.8,663.5" fill="#bb651e" stroke="#bb651e"/></g>
<g><polygon points="576.0,685.4 586.8,686.3 587.2,665.6 576.2,664.7" fill="#F08226" stroke="#F08226"/><polygon points="586.8,686.3 590.4,683.7 590.7,663.1 587.2,665.6" fill="#9e5619" stroke="#9e5619"/><polygon points="576.2,664.7 587.2,665.6 590.7,663.1 579.8,662.3" fill="#bb651e" stroke="#bb651e"/></g>
<g><polygon points="603.2,687.7 614.2,688.6 614.6,669.2 603.6,668.3" fill="#F08226" stroke="#F08226"/><polygon points="614.2,688.6 617.6,686.0 618.0,666.7 614.6,669.2" fill="#9e5619" stroke="#9e5619"/><polygon points="603.6,668.3 614.6,669.2 618.0,666.7 607.0,665.9" fill="#bb651e" stroke="#bb651e"/></g>
<g><polygon points="630.8,690.0 641.9,690.9 642.3,673.6 631.2,672.7" fill="#F08226" stroke="#F08226"/><polygon points="641.9,690.9 645.1,688.3 645.6,671.0 642.3,673.6" fill="#9e5619" stroke="#9e5619"/><polygon points="631.2,672.7 642.3,673.6 645.6,671.0 634.5,670.2" fill="#bb651e" stroke="#bb651e"/></g>
<g><polygon points="658.6,692.4 669.8,693.3 670.4,674.1 659.2,673.2" fill="#F08226" stroke="#F08226"/><polygon points="669.8,693.3 672.9,690.7 673.5,671.6 670.4,674.1" fill="#9e5619" stroke="#9e5619"/><polygon points="659.2,673.2 670.4,674.1 673.5,671.6 662.3,670.7" fill="#bb651e" stroke="#bb651e"/></g>
<g><polygon points="686.7,694.7 698.0,695.7 699.3,660.9 687.9,660.0" fill="#F08226" stroke="#F08226"/><polygon points="698.0,695.7 700.9,693.0 702.3,658.4 699.3,660.9" fill="#9e5619" stroke="#9e5619"/><polygon points="687.9,660.0 699.3,660.9 702.3,658.4 691.0,657.6" fill="#bb651e" stroke="#bb651e"/></g>
<g><polygon points="715.0,697.1 726.5,698.1 727.6,672.2 716.1,671.3" fill="#F08226" stroke="#F08226"/><polygon points="726.5,698.1 729.3,695.4 730.4,669.7 727.6,672.2" fill="#9e5619" stroke="#9e5619"/><polygon points="716.1,671.3 727.6,672.2 730.4,669.7 719.0,668.7" fill="#bb651e" stroke="#bb651e"/></g>
<g><polygon points="743.7,699.5 755.3,700.5 756.4,677.5 744.8,676.5" fill="#F08226" stroke="#F08226"/><polygon points="755.3,700.5 757.9,697.8 759.1,674.9 756.4,677.5" fill="#9e5619" stroke="#9e5619"/><polygon points="744.8,676.5 756.4,677.5 759.1,674.9 747.5,673.9" fill="#bb651e" stroke="#bb651e"/></g>
<g><polygon points="772.7,702.0 784.3,703.0 785.4,684.6 773.7,683.7" fill="#F08226" stroke="#F08226"/><polygon points="784.3,703.0 786.8,700.2 787.9,682.0 785.4,684.6" fill="#9e5619" stroke="#9e5619"/><polygon points="773.7,683.7 785.4,684.6 787.9,682.0 776.2,681.0" fill="#bb651e" stroke="#bb651e"/></g>
<g><polygon points="801.9,704.5 813.7,705.4 814.7,689.6 802.9,688.6" fill="#F08226" stroke="#F08226"/><polygon points="813.7,705.4 816.0,702.7 817.0,686.9 814.7,689.6" fill="#9e5619" stroke="#9e5619"/><polygon points="802.9,688.6 814.7,689.6 817.0,686.9 805.3,685.9" fill="#bb651e" stroke="#bb651e"/></g>
<g><polygon points="831.5,706.9 843.4,708.0 844.6,689.6 832.7,688.6" fill="#F08226" stroke="#F08226"/><polygon points="843.4,708.0 845.5,705.2 846.8,686.9 844.6,689.6" fill="#9e5619" stroke="#9e5619"/><polygon points="832.7,688.6 844.6,689.6 846.8,686.9 834.9,685.9" fill="#bb651e" stroke="#bb651e"/></g>
<g><polygon points="207.4,661.1 217.0,661.9 215.2,632.8 205.5,632.1" fill="#1E9AAE" stroke="#1E9AAE"/><polygon points="217.0,661.9 222.3,659.6 220.5,630.7 215.2,632.8" fill="#146673" stroke="#146673"/><polygon points="205.5,632.1 215.2,632.8 220.5,630.7 210.9,629.9" fill="#177888" stroke="#177888"/></g>
<g><polygon points="231.5,663.1 241.2,664.0 240.1,644.4 230.3,643.6" fill="#1E9AAE" stroke="#1E9AAE"/><polygon points="241.2,664.0 246.4,661.6 245.3,642.2 240.1,644.4" fill="#146673" stroke="#146673"/><polygon points="230.3,643.6 240.1,644.4 245.3,642.2 235.6,641.4" fill="#177888" stroke="#177888"/></g>
<g><polygon points="255.8,665.2 265.6,666.1 264.7,648.4 254.9,647.6" fill="#1E9AAE" stroke="#1E9AAE"/><polygon points="265.6,666.1 270.7,663.7 269.8,646.1 264.7,648.4" fill="#146673" stroke="#146673"/><polygon points="254.9,647.6 264.7,648.4 269.8,646.1 260.0,645.3" fill="#177888" stroke="#177888"/></g>
<g><polygon points="280.4,667.3 290.3,668.2 289.4,648.3 279.4,647.5" fill="#1E9AAE" stroke="#1E9AAE"/><polygon points="290.3,668.2 295.3,665.8 294.4,646.1 289.4,648.3" fill="#146673" stroke="#146673"/><polygon points="279.4,647.5 289.4,648.3 294.4,646.1 284.5,645.3" fill="#177888" stroke="#177888"/></g>
<g><polygon points="305.2,669.4 315.2,670.3 314.2,646.3 304.2,645.5" fill="#1E9AAE" stroke="#1E9AAE"/><polygon points="315.2,670.3 320.1,667.9 319.1,644.0 314.2,646.3" fill="#146673" stroke="#146673"/><polygon points="304.2,645.5 314.2,646.3 319.1,644.0 309.1,643.2" fill="#177888" stroke="#177888"/></g>
<g><polygon points="330.3,671.6 340.3,672.5 339.4,647.1 329.3,646.3" fill="#1E9AAE" stroke="#1E9AAE"/><polygon points="340.3,672.5 345.1,670.1 344.2,644.8 339.4,647.1" fill="#146673" stroke="#146673"/><polygon points="329.3,646.3 339.4,647.1 344.2,644.8 334.1,644.0" fill="#177888" stroke="#177888"/></g>
<g><polygon points="355.5,673.8 365.7,674.6 365.1,654.2 354.9,653.4" fill="#1E9AAE" stroke="#1E9AAE"/><polygon points="365.7,674.6 370.4,672.2 369.7,651.9 365.1,654.2" fill="#146673" stroke="#146673"/><polygon points="354.9,653.4 365.1,654.2 369.7,651.9 359.6,651.1" fill="#177888" stroke="#177888"/></g>
<g><polygon points="381.1,675.9 391.4,676.8 390.5,643.9 380.2,643.1" fill="#1E9AAE" stroke="#1E9AAE"/><polygon points="391.4,676.8 395.9,674.4 395.0,641.6 390.5,643.9" fill="#146673" stroke="#146673"/><polygon points="380.2,643.1 390.5,643.9 395.0,641.6 384.7,640.8" fill="#177888" stroke="#177888"/></g>
<g><polygon points="406.9,678.2 417.2,679.0 416.8,660.1 406.4,659.2" fill="#1E9AAE" stroke="#1E9AAE"/><polygon points="417.2,679.0 421.6,676.6 421.2,657.7 416.8,660.1" fill="#146673" stroke="#146673"/><polygon points="406.4,659.2 416.8,660.1 421.2,657.7 410.9,656.9" fill="#177888" stroke="#177888"/></g>
<g><polygon points="432.9,680.4 443.4,681.3 443.1,660.8 432.5,660.0" fill="#1E9AAE" stroke="#1E9AAE"/><polygon points="443.4,681.3 447.6,678.8 447.3,658.4 443.1,660.8" fill="#146673" stroke="#146673"/><polygon points="432.5,660.0 443.1,660.8 447.3,658.4 436.9,657.6" fill="#177888" stroke="#177888"/></g>
<g><polygon points="459.2,682.6 469.7,683.5 469.6,663.6 458.9,662.7" fill="#1E9AAE" stroke="#1E9AAE"/><polygon points="469.7,683.5 473.9,681.0 473.7,661.1 469.6,663.6" fill="#146673" stroke="#146673"/><polygon points="458.9,662.7 469.6,663.6 473.7,661.1 463.1,660.3" fill="#177888" stroke="#177888"/></g>
<g><polygon points="485.7,684.9 496.4,685.8 496.3,663.6 485.6,662.7" fill="#1E9AAE" stroke="#1E9AAE"/><polygon points="496.4,685.8 500.4,683.3 500.3,661.1 496.3,663.6" fill="#146673" stroke="#146673"/><polygon points="485.6,662.7 496.3,663.6 500.3,661.1 489.6,660.3" fill="#177888" stroke="#177888"/></g>
<g><polygon points="512.5,687.2 523.3,688.1 523.3,671.6 512.5,670.7" fill="#1E9AAE" stroke="#1E9AAE"/><polygon points="523.3,688.1 527.2,685.6 527.2,669.1 523.3,671.6" fill="#146673" stroke="#146673"/><polygon points="512.5,670.7 523.3,671.6 527.2,669.1 516.4,668.3" fill="#177888" stroke="#177888"/></g>
<g><polygon points="539.6,689.5 550.5,690.5 550.6,673.6 539.6,672.7" fill="#1E9AAE" stroke="#1E9AAE"/><polygon points="550.5,690.5 554.2,687.9 554.3,671.0 550.6,673.6" fill="#146673" stroke="#146673"/><polygon points="539.6,672.7 550.6,673.6 554.3,671.0 543.5,670.2" fill="#177888" stroke="#177888"/></g>
<g><polygon points="566.9,691.9 577.9,692.8 578.1,676.0 567.1,675.1" fill="#1E9AAE" stroke="#1E9AAE"/><polygon points="577.9,692.8 581.5,690.2 581.8,673.5 578.1,676.0" fill="#146673" stroke="#146673"/><polygon points="567.1,675.1 578.1,676.0 581.8,673.5 570.8,672.5" fill="#177888" stroke="#177888"/></g>
<g><polygon points="594.5,694.2 605.6,695.2 605.9,678.5 594.8,677.6" fill="#1E9AAE" stroke="#1E9AAE"/><polygon points="605.6,695.2 609.1,692.5 609.4,676.0 605.9,678.5" fill="#146673" stroke="#146673"/><polygon points="594.8,677.6 605.9,678.5 609.4,676.0 598.3,675.0" fill="#177888" stroke="#177888"/></g>
<g><polygon points="622.4,696.6 633.6,697.6 634.1,680.2 622.8,679.2" fill="#1E9AAE" stroke="#1E9AAE"/><polygon points="633.6,697.6 636.9,694.9 637.4,677.6 634.1,680.2" fill="#146673" stroke="#146673"/><polygon points="622.8,679.2 634.1,680.2 637.4,677.6 626.2,676.6" fill="#177888" stroke="#177888"/></g>
<g><polygon points="650.6,699.0 661.9,700.0 662.6,678.6 651.2,677.6" fill="#1E9AAE" stroke="#1E9AAE"/><polygon points="661.9,700.0 665.1,697.3 665.8,676.0 662.6,678.6" fill="#146673" stroke="#146673"/><polygon points="651.2,677.6 662.6,678.6 665.8,676.0 654.4,675.0" fill="#177888" stroke="#177888"/></g>
<g><polygon points="679.0,701.5 690.5,702.5 692.4,651.8 680.8,650.9" fill="#1E9AAE" stroke="#1E9AAE"/><polygon points="690.5,702.5 693.5,699.7 695.4,649.3 692.4,651.8" fill="#146673" stroke="#146673"/><polygon points="680.8,650.9 692.4,651.8 695.4,649.3 683.9,648.5" fill="#177888" stroke="#177888"/></g>
<g><polygon points="707.8,703.9 719.3,704.9 723.2,616.1 711.4,615.3" fill="#1E9AAE" stroke="#1E9AAE"/><polygon points="719.3,704.9 722.2,702.2 726.1,613.8 723.2,616.1" fill="#146673" stroke="#146673"/><polygon points="711.4,615.3 723.2,616.1 726.1,613.8 714.4,613.0" fill="#177888" stroke="#177888"/></g>
<g><polygon points="736.8,706.4 748.5,707.4 751.2,652.4 739.4,651.5" fill="#1E9AAE" stroke="#1E9AAE"/><polygon points="748.5,707.4 751.2,704.6 754.0,649.9 751.2,652.4" fill="#146673" stroke="#146673"/><polygon points="739.4,651.5 751.2,652.4 754.0,649.9 742.2,649.1" fill="#177888" stroke="#177888"/></g>
<g><polygon points="766.1,708.9 778.0,710.0 779.4,685.2 767.5,684.2" fill="#1E9AAE" stroke="#1E9AAE"/><polygon points="778.0,710.0 780.5,707.1 781.9,682.5 779.4,685.2" fill="#146673" stroke="#146673"/><polygon points="767.5,684.2 779.4,685.2 781.9,682.5 770.1,681.5" fill="#177888" stroke="#177888"/></g>
<g><polygon points="795.8,711.5 807.7,712.5 809.0,692.0 797.0,691.1" fill="#1E9AAE" stroke="#1E9AAE"/><polygon points="807.7,712.5 810.1,709.7 811.4,689.3 809.0,692.0" fill="#146673" stroke="#146673"/><polygon points="797.0,691.1 809.0,692.0 811.4,689.3 799.5,688.3" fill="#177888" stroke="#177888"/></g>
<g><polygon points="825.7,714.1 837.8,715.1 839.3,694.2 827.1,693.2" fill="#1E9AAE" stroke="#1E9AAE"/><polygon points="837.8,715.1 840.0,712.2 841.5,691.4 839.3,694.2" fill="#146673" stroke="#146673"/><polygon points="827.1,693.2 839.3,694.2 841.5,691.4 829.4,690.4" fill="#177888" stroke="#177888"/></g>
<g><polygon points="193.8,666.9 203.5,667.7 201.4,634.6 191.6,633.8" fill="#6E4A96" stroke="#6E4A96"/><polygon points="203.5,667.7 209.0,665.4 206.8,632.4 201.4,634.6" fill="#493163" stroke="#493163"/><polygon points="191.6,633.8 201.4,634.6 206.8,632.4 197.1,631.6" fill="#563a75" stroke="#563a75"/></g>
<g><polygon points="218.2,669.0 228.0,669.9 225.0,619.9 215.1,619.1" fill="#6E4A96" stroke="#6E4A96"/><polygon points="228.0,669.9 233.3,667.5 230.4,617.8 225.0,619.9" fill="#493163" stroke="#493163"/><polygon points="215.1,619.1 225.0,619.9 230.4,617.8 220.5,617.0" fill="#563a75" stroke="#563a75"/></g>
<g><polygon points="242.8,671.1 252.7,672.0 250.6,633.2 240.6,632.4" fill="#6E4A96" stroke="#6E4A96"/><polygon points="252.7,672.0 257.9,669.6 255.8,631.0 250.6,633.2" fill="#493163" stroke="#493163"/><polygon points="240.6,632.4 250.6,633.2 255.8,631.0 245.9,630.2" fill="#563a75" stroke="#563a75"/></g>
<g><polygon points="267.7,673.3 277.7,674.2 276.3,647.1 266.2,646.3" fill="#6E4A96" stroke="#6E4A96"/><polygon points="277.7,674.2 282.8,671.8 281.4,644.8 276.3,647.1" fill="#493163" stroke="#493163"/><polygon points="266.2,646.3 276.3,647.1 281.4,644.8 271.4,644.0" fill="#563a75" stroke="#563a75"/></g>
<g><polygon points="292.7,675.5 302.8,676.4 302.0,657.1 291.8,656.3" fill="#6E4A96" stroke="#6E4A96"/><polygon points="302.8,676.4 307.8,673.9 307.0,654.8 302.0,657.1" fill="#493163" stroke="#493163"/><polygon points="291.8,656.3 302.0,657.1 307.0,654.8 296.9,653.9" fill="#563a75" stroke="#563a75"/></g>
<g><polygon points="318.1,677.7 328.3,678.6 327.0,645.2 316.7,644.4" fill="#6E4A96" stroke="#6E4A96"/><polygon points="328.3,678.6 333.1,676.1 331.9,642.9 327.0,645.2" fill="#493163" stroke="#493163"/><polygon points="316.7,644.4 327.0,645.2 331.9,642.9 321.6,642.1" fill="#563a75" stroke="#563a75"/></g>
<g><polygon points="343.6,679.9 353.9,680.8 353.2,657.8 342.8,656.9" fill="#6E4A96" stroke="#6E4A96"/><polygon points="353.9,680.8 358.7,678.3 357.9,655.4 353.2,657.8" fill="#493163" stroke="#493163"/><polygon points="342.8,656.9 353.2,657.8 357.9,655.4 347.6,654.6" fill="#563a75" stroke="#563a75"/></g>
<g><polygon points="369.5,682.2 379.9,683.1 379.3,662.6 368.8,661.7" fill="#6E4A96" stroke="#6E4A96"/><polygon points="379.9,683.1 384.5,680.6 383.9,660.1 379.3,662.6" fill="#493163" stroke="#493163"/><polygon points="368.8,661.7 379.3,662.6 383.9,660.1 373.5,659.3" fill="#563a75" stroke="#563a75"/></g>
<g><polygon points="395.5,684.4 406.1,685.4 405.7,671.5 395.2,670.6" fill="#6E4A96" stroke="#6E4A96"/><polygon points="406.1,685.4 410.6,682.8 410.3,669.1 405.7,671.5" fill="#493163" stroke="#493163"/><polygon points="395.2,670.6 405.7,671.5 410.3,669.1 399.8,668.2" fill="#563a75" stroke="#563a75"/></g>
<g><polygon points="421.9,686.7 432.5,687.7 432.2,672.7 421.6,671.8" fill="#6E4A96" stroke="#6E4A96"/><polygon points="432.5,687.7 436.9,685.1 436.6,670.2 432.2,672.7" fill="#493163" stroke="#493163"/><polygon points="421.6,671.8 432.2,672.7 436.6,670.2 426.0,669.4" fill="#563a75" stroke="#563a75"/></g>
<g><polygon points="448.5,689.1 459.2,690.0 459.0,674.0 448.3,673.1" fill="#6E4A96" stroke="#6E4A96"/><polygon points="459.2,690.0 463.4,687.4 463.3,671.4 459.0,674.0" fill="#493163" stroke="#493163"/><polygon points="448.3,673.1 459.0,674.0 463.3,671.4 452.6,670.6" fill="#563a75" stroke="#563a75"/></g>
<g><polygon points="475.3,691.4 486.2,692.3 486.0,670.1 475.2,669.2" fill="#6E4A96" stroke="#6E4A96"/><polygon points="486.2,692.3 490.3,689.7 490.2,667.5 486.0,670.1" fill="#493163" stroke="#493163"/><polygon points="475.2,669.2 486.0,670.1 490.2,667.5 479.4,666.7" fill="#563a75" stroke="#563a75"/></g>
<g><polygon points="502.5,693.8 513.4,694.7 513.4,680.9 502.4,680.0" fill="#6E4A96" stroke="#6E4A96"/><polygon points="513.4,694.7 517.4,692.1 517.4,678.4 513.4,680.9" fill="#493163" stroke="#493163"/><polygon points="502.4,680.0 513.4,680.9 517.4,678.4 506.5,677.4" fill="#563a75" stroke="#563a75"/></g>
<g><polygon points="529.9,696.1 540.9,697.1 541.0,676.0 529.9,675.1" fill="#6E4A96" stroke="#6E4A96"/><polygon points="540.9,697.1 544.8,694.4 544.9,673.5 541.0,676.0" fill="#493163" stroke="#493163"/><polygon points="529.9,675.1 541.0,676.0 544.9,673.5 533.9,672.5" fill="#563a75" stroke="#563a75"/></g>
<g><polygon points="557.6,698.5 568.7,699.5 568.9,680.2 557.7,679.2" fill="#6E4A96" stroke="#6E4A96"/><polygon points="568.7,699.5 572.4,696.8 572.7,677.6 568.9,680.2" fill="#493163" stroke="#493163"/><polygon points="557.7,679.2 568.9,680.2 572.7,677.6 561.5,676.6" fill="#563a75" stroke="#563a75"/></g>
<g><polygon points="585.5,701.0 596.8,702.0 597.1,685.8 585.8,684.9" fill="#6E4A96" stroke="#6E4A96"/><polygon points="596.8,702.0 600.3,699.2 600.6,683.2 597.1,685.8" fill="#493163" stroke="#493163"/><polygon points="585.8,684.9 597.1,685.8 600.6,683.2 589.4,682.2" fill="#563a75" stroke="#563a75"/></g>
<g><polygon points="613.8,703.4 625.1,704.4 625.5,688.8 614.1,687.8" fill="#6E4A96" stroke="#6E4A96"/><polygon points="625.1,704.4 628.6,701.7 628.9,686.1 625.5,688.8" fill="#493163" stroke="#493163"/><polygon points="614.1,687.8 625.5,688.8 628.9,686.1 617.6,685.1" fill="#563a75" stroke="#563a75"/></g>
<g><polygon points="642.3,705.9 653.8,706.9 654.4,686.9 642.8,685.9" fill="#6E4A96" stroke="#6E4A96"/><polygon points="653.8,706.9 657.1,704.1 657.7,684.2 654.4,686.9" fill="#493163" stroke="#493163"/><polygon points="642.8,685.9 654.4,686.9 657.7,684.2 646.2,683.2" fill="#563a75" stroke="#563a75"/></g>
<g><polygon points="671.1,708.4 682.7,709.4 683.6,685.9 671.9,684.9" fill="#6E4A96" stroke="#6E4A96"/><polygon points="682.7,709.4 685.9,706.6 686.7,683.2 683.6,685.9" fill="#493163" stroke="#493163"/><polygon points="671.9,684.9 683.6,685.9 686.7,683.2 675.1,682.2" fill="#563a75" stroke="#563a75"/></g>
<g><polygon points="700.3,711.0 712.0,712.0 713.8,668.6 702.0,667.6" fill="#6E4A96" stroke="#6E4A96"/><polygon points="712.0,712.0 715.0,709.1 716.8,666.0 713.8,668.6" fill="#493163" stroke="#493163"/><polygon points="702.0,667.6 713.8,668.6 716.8,666.0 705.0,665.0" fill="#563a75" stroke="#563a75"/></g>
<g><polygon points="729.7,713.5 741.6,714.6 743.7,670.3 731.7,669.4" fill="#6E4A96" stroke="#6E4A96"/><polygon points="741.6,714.6 744.4,711.7 746.5,667.7 743.7,670.3" fill="#493163" stroke="#493163"/><polygon points="731.7,669.4 743.7,670.3 746.5,667.7 734.6,666.7" fill="#563a75" stroke="#563a75"/></g>
<g><polygon points="759.4,716.1 771.4,717.2 775.8,637.1 763.6,636.2" fill="#6E4A96" stroke="#6E4A96"/><polygon points="771.4,717.2 774.1,714.3 778.5,634.6 775.8,637.1" fill="#493163" stroke="#493163"/><polygon points="763.6,636.2 775.8,637.1 778.5,634.6 766.3,633.8" fill="#563a75" stroke="#563a75"/></g>
<g><polygon points="789.5,718.7 801.6,719.8 803.1,695.4 790.9,694.4" fill="#6E4A96" stroke="#6E4A96"/><polygon points="801.6,719.8 804.1,716.9 805.6,692.6 803.1,695.4" fill="#493163" stroke="#493163"/><polygon points="790.9,694.4 803.1,695.4 805.6,692.6 793.5,691.6" fill="#563a75" stroke="#563a75"/></g>
<g><polygon points="819.9,721.4 832.1,722.5 833.3,704.4 821.0,703.4" fill="#6E4A96" stroke="#6E4A96"/><polygon points="832.1,722.5 834.4,719.5 835.6,701.5 833.3,704.4" fill="#493163" stroke="#493163"/><polygon points="821.0,703.4 833.3,704.4 835.6,701.5 823.4,700.5" fill="#563a75" stroke="#563a75"/></g>
<g><polygon points="179.9,672.9 189.7,673.7 178.6,511.1 168.4,510.5" fill="#77A043" stroke="#77A043"/><polygon points="189.7,673.7 195.3,671.3 184.4,509.5 178.6,511.1" fill="#4f6a2c" stroke="#4f6a2c"/><polygon points="168.4,510.5 178.6,511.1 184.4,509.5 174.3,508.9" fill="#5d7d34" stroke="#5d7d34"/></g>
<g><polygon points="204.5,675.0 214.5,675.9 212.6,647.1 202.6,646.3" fill="#77A043" stroke="#77A043"/><polygon points="214.5,675.9 219.9,673.5 218.1,644.8 212.6,647.1" fill="#4f6a2c" stroke="#4f6a2c"/><polygon points="202.6,646.3 212.6,647.1 218.1,644.8 208.2,644.0" fill="#5d7d34" stroke="#5d7d34"/></g>
<g><polygon points="229.4,677.2 239.4,678.1 237.5,645.5 227.5,644.7" fill="#77A043" stroke="#77A043"/><polygon points="239.4,678.1 244.8,675.7 242.9,643.2 237.5,645.5" fill="#4f6a2c" stroke="#4f6a2c"/><polygon points="227.5,644.7 237.5,645.5 242.9,643.2 232.9,642.4" fill="#5d7d34" stroke="#5d7d34"/></g>
<g><polygon points="254.5,679.5 264.7,680.4 263.6,660.3 253.4,659.5" fill="#77A043" stroke="#77A043"/><polygon points="264.7,680.4 269.9,677.9 268.9,657.9 263.6,660.3" fill="#4f6a2c" stroke="#4f6a2c"/><polygon points="253.4,659.5 263.6,660.3 268.9,657.9 258.8,657.1" fill="#5d7d34" stroke="#5d7d34"/></g>
<g><polygon points="279.9,681.7 290.1,682.6 286.9,614.8 276.6,614.0" fill="#77A043" stroke="#77A043"/><polygon points="290.1,682.6 295.3,680.1 292.1,612.6 286.9,614.8" fill="#4f6a2c" stroke="#4f6a2c"/><polygon points="276.6,614.0 286.9,614.8 292.1,612.6 281.8,611.8" fill="#5d7d34" stroke="#5d7d34"/></g>
<g><polygon points="305.5,684.0 315.9,684.9 314.8,659.8 304.4,659.0" fill="#77A043" stroke="#77A043"/><polygon points="315.9,684.9 320.9,682.3 319.8,657.4 314.8,659.8" fill="#4f6a2c" stroke="#4f6a2c"/><polygon points="304.4,659.0 314.8,659.8 319.8,657.4 309.5,656.6" fill="#5d7d34" stroke="#5d7d34"/></g>
<g><polygon points="331.4,686.3 341.8,687.2 341.0,664.7 330.5,663.8" fill="#77A043" stroke="#77A043"/><polygon points="341.8,687.2 346.7,684.6 345.9,662.2 341.0,664.7" fill="#4f6a2c" stroke="#4f6a2c"/><polygon points="330.5,663.8 341.0,664.7 345.9,662.2 335.5,661.4" fill="#5d7d34" stroke="#5d7d34"/></g>
<g><polygon points="357.5,688.6 368.1,689.5 367.4,667.9 356.8,667.0" fill="#77A043" stroke="#77A043"/><polygon points="368.1,689.5 372.8,686.9 372.2,665.4 367.4,667.9" fill="#4f6a2c" stroke="#4f6a2c"/><polygon points="356.8,667.0 367.4,667.9 372.2,665.4 361.7,664.5" fill="#5d7d34" stroke="#5d7d34"/></g>
<g><polygon points="383.9,690.9 394.6,691.8 394.1,672.3 383.4,671.4" fill="#77A043" stroke="#77A043"/><polygon points="394.6,691.8 399.2,689.2 398.7,669.8 394.1,672.3" fill="#4f6a2c" stroke="#4f6a2c"/><polygon points="383.4,671.4 394.1,672.3 398.7,669.8 388.1,668.9" fill="#5d7d34" stroke="#5d7d34"/></g>
<g><polygon points="410.6,693.3 421.3,694.2 420.9,672.4 410.1,671.5" fill="#77A043" stroke="#77A043"/><polygon points="421.3,694.2 425.8,691.6 425.4,669.9 420.9,672.4" fill="#4f6a2c" stroke="#4f6a2c"/><polygon points="410.1,671.5 420.9,672.4 425.4,669.9 414.7,669.0" fill="#5d7d34" stroke="#5d7d34"/></g>
<g><polygon points="437.5,695.6 448.3,696.6 448.1,678.6 437.2,677.7" fill="#77A043" stroke="#77A043"/><polygon points="448.3,696.6 452.7,693.9 452.5,676.1 448.1,678.6" fill="#4f6a2c" stroke="#4f6a2c"/><polygon points="437.2,677.7 448.1,678.6 452.5,676.1 441.7,675.1" fill="#5d7d34" stroke="#5d7d34"/></g>
<g><polygon points="464.7,698.1 475.6,699.0 475.5,678.7 464.5,677.7" fill="#77A043" stroke="#77A043"/><polygon points="475.6,699.0 479.9,696.3 479.7,676.1 475.5,678.7" fill="#4f6a2c" stroke="#4f6a2c"/><polygon points="464.5,677.7 475.5,678.7 479.7,676.1 468.8,675.1" fill="#5d7d34" stroke="#5d7d34"/></g>
<g><polygon points="492.2,700.5 503.2,701.5 503.2,684.4 492.1,683.5" fill="#77A043" stroke="#77A043"/><polygon points="503.2,701.5 507.3,698.7 507.3,681.8 503.2,684.4" fill="#4f6a2c" stroke="#4f6a2c"/><polygon points="492.1,683.5 503.2,684.4 507.3,681.8 496.3,680.8" fill="#5d7d34" stroke="#5d7d34"/></g>
<g><polygon points="519.9,702.9 531.1,703.9 531.2,682.7 519.9,681.8" fill="#77A043" stroke="#77A043"/><polygon points="531.1,703.9 535.0,701.2 535.1,680.1 531.2,682.7" fill="#4f6a2c" stroke="#4f6a2c"/><polygon points="519.9,681.8 531.2,682.7 535.1,680.1 524.0,679.1" fill="#5d7d34" stroke="#5d7d34"/></g>
<g><polygon points="547.9,705.4 559.2,706.4 559.4,687.6 548.1,686.6" fill="#77A043" stroke="#77A043"/><polygon points="559.2,706.4 563.1,703.6 563.2,684.9 559.4,687.6" fill="#4f6a2c" stroke="#4f6a2c"/><polygon points="548.1,686.6 559.4,687.6 563.2,684.9 552.0,683.9" fill="#5d7d34" stroke="#5d7d34"/></g>
<g><polygon points="576.3,707.9 587.7,708.9 588.0,690.5 576.5,689.5" fill="#77A043" stroke="#77A043"/><polygon points="587.7,708.9 591.3,706.1 591.6,687.8 588.0,690.5" fill="#4f6a2c" stroke="#4f6a2c"/><polygon points="576.5,689.5 588.0,690.5 591.6,687.8 580.2,686.8" fill="#5d7d34" stroke="#5d7d34"/></g>
<g><polygon points="604.9,710.5 616.4,711.5 616.8,694.1 605.2,693.2" fill="#77A043" stroke="#77A043"/><polygon points="616.4,711.5 619.9,708.6 620.3,691.4 616.8,694.1" fill="#4f6a2c" stroke="#4f6a2c"/><polygon points="605.2,693.2 616.8,694.1 620.3,691.4 608.8,690.4" fill="#5d7d34" stroke="#5d7d34"/></g>
<g><polygon points="633.8,713.0 645.4,714.0 646.0,694.9 634.3,693.9" fill="#77A043" stroke="#77A043"/><polygon points="645.4,714.0 648.8,711.2 649.4,692.1 646.0,694.9" fill="#4f6a2c" stroke="#4f6a2c"/><polygon points="634.3,693.9 646.0,694.9 649.4,692.1 637.7,691.1" fill="#5d7d34" stroke="#5d7d34"/></g>
<g><polygon points="663.0,715.6 674.8,716.6 675.6,693.7 663.7,692.7" fill="#77A043" stroke="#77A043"/><polygon points="674.8,716.6 678.0,713.7 678.8,690.9 675.6,693.7" fill="#4f6a2c" stroke="#4f6a2c"/><polygon points="663.7,692.7 675.6,693.7 678.8,690.9 667.0,689.9" fill="#5d7d34" stroke="#5d7d34"/></g>
<g><polygon points="692.5,718.2 704.4,719.3 705.6,689.9 693.6,688.9" fill="#77A043" stroke="#77A043"/><polygon points="704.4,719.3 707.5,716.3 708.7,687.1 705.6,689.9" fill="#4f6a2c" stroke="#4f6a2c"/><polygon points="693.6,688.9 705.6,689.9 708.7,687.1 696.8,686.1" fill="#5d7d34" stroke="#5d7d34"/></g>
<g><polygon points="722.4,720.8 734.4,721.9 735.5,698.5 723.4,697.5" fill="#77A043" stroke="#77A043"/><polygon points="734.4,721.9 737.3,718.9 738.4,695.7 735.5,698.5" fill="#4f6a2c" stroke="#4f6a2c"/><polygon points="723.4,697.5 735.5,698.5 738.4,695.7 726.4,694.7" fill="#5d7d34" stroke="#5d7d34"/></g>
<g><polygon points="752.5,723.5 764.7,724.6 766.0,700.6 753.7,699.5" fill="#77A043" stroke="#77A043"/><polygon points="764.7,724.6 767.4,721.6 768.7,697.7 766.0,700.6" fill="#4f6a2c" stroke="#4f6a2c"/><polygon points="753.7,699.5 766.0,700.6 768.7,697.7 756.5,696.7" fill="#5d7d34" stroke="#5d7d34"/></g>
<g><polygon points="783.0,726.2 795.3,727.3 796.5,706.2 784.2,705.2" fill="#77A043" stroke="#77A043"/><polygon points="795.3,727.3 797.8,724.3 799.1,703.3 796.5,706.2" fill="#4f6a2c" stroke="#4f6a2c"/><polygon points="784.2,705.2 796.5,706.2 799.1,703.3 786.8,702.3" fill="#5d7d34" stroke="#5d7d34"/></g>
<g><polygon points="813.8,728.9 826.2,730.0 828.2,700.6 815.7,699.6" fill="#77A043" stroke="#77A043"/><polygon points="826.2,730.0 828.6,727.0 830.6,697.7 828.2,700.6" fill="#4f6a2c" stroke="#4f6a2c"/><polygon points="815.7,699.6 828.2,700.6 830.6,697.7 818.1,696.7" fill="#5d7d34" stroke="#5d7d34"/></g>
<g><polygon points="165.6,679.0 175.5,679.9 172.8,642.1 162.8,641.3" fill="#C0393B" stroke="#C0393B"/><polygon points="175.5,679.9 181.2,677.4 178.6,639.8 172.8,642.1" fill="#7f2627" stroke="#7f2627"/><polygon points="162.8,641.3 172.8,642.1 178.6,639.8 168.6,639.0" fill="#962c2e" stroke="#962c2e"/></g>
<g><polygon points="190.5,681.2 200.5,682.1 198.7,654.7 188.6,653.8" fill="#C0393B" stroke="#C0393B"/><polygon points="200.5,682.1 206.1,679.6 204.4,652.3 198.7,654.7" fill="#7f2627" stroke="#7f2627"/><polygon points="188.6,653.8 198.7,654.7 204.4,652.3 194.3,651.5" fill="#962c2e" stroke="#962c2e"/></g>
<g><polygon points="215.7,683.5 225.8,684.4 224.4,661.9 214.2,661.0" fill="#C0393B" stroke="#C0393B"/><polygon points="225.8,684.4 231.3,681.9 229.9,659.4 224.4,661.9" fill="#7f2627" stroke="#7f2627"/><polygon points="214.2,661.0 224.4,661.9 229.9,659.4 219.8,658.6" fill="#962c2e" stroke="#962c2e"/></g>
<g><polygon points="241.1,685.8 251.3,686.7 250.2,667.1 239.9,666.2" fill="#C0393B" stroke="#C0393B"/><polygon points="251.3,686.7 256.7,684.1 255.6,664.6 250.2,667.1" fill="#7f2627" stroke="#7f2627"/><polygon points="239.9,666.2 250.2,667.1 255.6,664.6 245.4,663.8" fill="#962c2e" stroke="#962c2e"/></g>
<g><polygon points="266.7,688.1 277.1,689.0 275.9,665.6 265.5,664.7" fill="#C0393B" stroke="#C0393B"/><polygon points="277.1,689.0 282.3,686.4 281.2,663.1 275.9,665.6" fill="#7f2627" stroke="#7f2627"/><polygon points="265.5,664.7 275.9,665.6 281.2,663.1 270.9,662.3" fill="#962c2e" stroke="#962c2e"/></g>
<g><polygon points="292.6,690.4 303.1,691.4 301.3,651.8 290.8,651.0" fill="#C0393B" stroke="#C0393B"/><polygon points="303.1,691.4 308.2,688.8 306.5,649.4 301.3,651.8" fill="#7f2627" stroke="#7f2627"/><polygon points="290.8,651.0 301.3,651.8 306.5,649.4 296.0,648.6" fill="#962c2e" stroke="#962c2e"/></g>
<g><polygon points="318.8,692.8 329.4,693.7 327.9,656.9 317.3,656.0" fill="#C0393B" stroke="#C0393B"/><polygon points="329.4,693.7 334.4,691.1 333.0,654.4 327.9,656.9" fill="#7f2627" stroke="#7f2627"/><polygon points="317.3,656.0 327.9,656.9 333.0,654.4 322.4,653.6" fill="#962c2e" stroke="#962c2e"/></g>
<g><polygon points="345.3,695.2 355.9,696.1 355.3,677.0 344.6,676.1" fill="#C0393B" stroke="#C0393B"/><polygon points="355.9,696.1 360.8,693.4 360.2,674.5 355.3,677.0" fill="#7f2627" stroke="#7f2627"/><polygon points="344.6,676.1 355.3,677.0 360.2,674.5 349.6,673.5" fill="#962c2e" stroke="#962c2e"/></g>
<g><polygon points="372.0,697.6 382.7,698.5 382.3,682.6 371.5,681.6" fill="#C0393B" stroke="#C0393B"/><polygon points="382.7,698.5 387.5,695.8 387.1,680.0 382.3,682.6" fill="#7f2627" stroke="#7f2627"/><polygon points="371.5,681.6 382.3,682.6 387.1,680.0 376.3,679.0" fill="#962c2e" stroke="#962c2e"/></g>
<g><polygon points="398.9,700.0 409.8,701.0 409.4,682.1 398.5,681.1" fill="#C0393B" stroke="#C0393B"/><polygon points="409.8,701.0 414.5,698.2 414.1,679.5 409.4,682.1" fill="#7f2627" stroke="#7f2627"/><polygon points="398.5,681.1 409.4,682.1 414.1,679.5 403.2,678.5" fill="#962c2e" stroke="#962c2e"/></g>
<g><polygon points="426.2,702.4 437.2,703.4 436.8,683.2 425.8,682.3" fill="#C0393B" stroke="#C0393B"/><polygon points="437.2,703.4 441.7,700.7 441.4,680.6 436.8,683.2" fill="#7f2627" stroke="#7f2627"/><polygon points="425.8,682.3 436.8,683.2 441.4,680.6 430.4,679.6" fill="#962c2e" stroke="#962c2e"/></g>
<g><polygon points="453.7,704.9 464.8,705.9 464.6,683.2 453.4,682.3" fill="#C0393B" stroke="#C0393B"/><polygon points="464.8,705.9 469.2,703.1 469.0,680.6 464.6,683.2" fill="#7f2627" stroke="#7f2627"/><polygon points="453.4,682.3 464.6,683.2 469.0,680.6 457.9,679.6" fill="#962c2e" stroke="#962c2e"/></g>
<g><polygon points="481.5,707.4 492.7,708.4 492.7,690.2 481.4,689.2" fill="#C0393B" stroke="#C0393B"/><polygon points="492.7,708.4 497.0,705.6 496.9,687.5 492.7,690.2" fill="#7f2627" stroke="#7f2627"/><polygon points="481.4,689.2 492.7,690.2 496.9,687.5 485.7,686.5" fill="#962c2e" stroke="#962c2e"/></g>
<g><polygon points="509.6,709.9 521.0,711.0 521.0,690.2 509.6,689.2" fill="#C0393B" stroke="#C0393B"/><polygon points="521.0,711.0 525.0,708.1 525.1,687.5 521.0,690.2" fill="#7f2627" stroke="#7f2627"/><polygon points="509.6,689.2 521.0,690.2 525.1,687.5 513.8,686.5" fill="#962c2e" stroke="#962c2e"/></g>
<g><polygon points="538.0,712.5 549.5,713.5 549.6,693.7 538.1,692.7" fill="#C0393B" stroke="#C0393B"/><polygon points="549.5,713.5 553.4,710.7 553.6,690.9 549.6,693.7" fill="#7f2627" stroke="#7f2627"/><polygon points="538.1,692.7 549.6,693.7 553.6,690.9 542.1,689.9" fill="#962c2e" stroke="#962c2e"/></g>
<g><polygon points="566.7,715.1 578.3,716.1 578.5,698.6 566.9,697.6" fill="#C0393B" stroke="#C0393B"/><polygon points="578.3,716.1 582.1,713.2 582.3,695.8 578.5,698.6" fill="#7f2627" stroke="#7f2627"/><polygon points="566.9,697.6 578.5,698.6 582.3,695.8 570.8,694.8" fill="#962c2e" stroke="#962c2e"/></g>
<g><polygon points="595.7,717.7 607.4,718.7 607.7,702.2 596.0,701.2" fill="#C0393B" stroke="#C0393B"/><polygon points="607.4,718.7 611.0,715.8 611.4,699.4 607.7,702.2" fill="#7f2627" stroke="#7f2627"/><polygon points="596.0,701.2 607.7,702.2 611.4,699.4 599.7,698.4" fill="#962c2e" stroke="#962c2e"/></g>
<g><polygon points="625.0,720.3 636.8,721.4 637.3,705.4 625.4,704.4" fill="#C0393B" stroke="#C0393B"/><polygon points="636.8,721.4 640.3,718.4 640.7,702.5 637.3,705.4" fill="#7f2627" stroke="#7f2627"/><polygon points="625.4,704.4 637.3,705.4 640.7,702.5 628.9,701.5" fill="#962c2e" stroke="#962c2e"/></g>
<g><polygon points="654.6,723.0 666.6,724.0 667.2,704.7 655.2,703.7" fill="#C0393B" stroke="#C0393B"/><polygon points="666.6,724.0 669.9,721.1 670.5,701.8 667.2,704.7" fill="#7f2627" stroke="#7f2627"/><polygon points="655.2,703.7 667.2,704.7 670.5,701.8 658.6,700.8" fill="#962c2e" stroke="#962c2e"/></g>
<g><polygon points="684.6,725.7 696.6,726.7 697.5,704.7 685.4,703.7" fill="#C0393B" stroke="#C0393B"/><polygon points="696.6,726.7 699.8,723.7 700.6,701.8 697.5,704.7" fill="#7f2627" stroke="#7f2627"/><polygon points="685.4,703.7 697.5,704.7 700.6,701.8 688.6,700.8" fill="#962c2e" stroke="#962c2e"/></g>
<g><polygon points="714.8,728.4 727.0,729.5 727.9,710.4 715.6,709.3" fill="#C0393B" stroke="#C0393B"/><polygon points="727.0,729.5 730.0,726.4 730.9,707.4 727.9,710.4" fill="#7f2627" stroke="#7f2627"/><polygon points="715.6,709.3 727.9,710.4 730.9,707.4 718.7,706.4" fill="#962c2e" stroke="#962c2e"/></g>
<g><polygon points="745.4,731.1 757.7,732.2 758.6,714.7 746.3,713.6" fill="#C0393B" stroke="#C0393B"/><polygon points="757.7,732.2 760.5,729.2 761.4,711.7 758.6,714.7" fill="#7f2627" stroke="#7f2627"/><polygon points="746.3,713.6 758.6,714.7 761.4,711.7 749.1,710.7" fill="#962c2e" stroke="#962c2e"/></g>
<g><polygon points="776.3,733.9 788.8,735.0 790.1,712.2 777.6,711.2" fill="#C0393B" stroke="#C0393B"/><polygon points="788.8,735.0 791.4,731.9 792.7,709.2 790.1,712.2" fill="#7f2627" stroke="#7f2627"/><polygon points="777.6,711.2 790.1,712.2 792.7,709.2 780.3,708.2" fill="#962c2e" stroke="#962c2e"/></g>
<g><polygon points="807.6,736.7 820.1,737.9 822.1,708.4 809.4,707.4" fill="#C0393B" stroke="#C0393B"/><polygon points="820.1,737.9 822.6,734.7 824.5,705.4 822.1,708.4" fill="#7f2627" stroke="#7f2627"/><polygon points="809.4,707.4 822.1,708.4 824.5,705.4 811.9,704.4" fill="#962c2e" stroke="#962c2e"/></g>
<g><polygon points="150.9,685.3 160.9,686.2 146.5,494.1 136.1,493.6" fill="#1F6BA8" stroke="#1F6BA8"/><polygon points="160.9,686.2 166.8,683.7 152.7,492.6 146.5,494.1" fill="#14476f" stroke="#14476f"/><polygon points="136.1,493.6 146.5,494.1 152.7,492.6 142.3,492.0" fill="#185383" stroke="#185383"/></g>
<g><polygon points="176.1,687.6 186.2,688.5 184.0,656.9 173.8,656.0" fill="#1F6BA8" stroke="#1F6BA8"/><polygon points="186.2,688.5 192.0,686.0 189.8,654.4 184.0,656.9" fill="#14476f" stroke="#14476f"/><polygon points="173.8,656.0 184.0,656.9 189.8,654.4 179.7,653.6" fill="#185383" stroke="#185383"/></g>
<g><polygon points="201.5,689.9 211.7,690.9 200.3,511.8 189.6,511.2" fill="#1F6BA8" stroke="#1F6BA8"/><polygon points="211.7,690.9 217.4,688.3 206.2,510.1 200.3,511.8" fill="#14476f" stroke="#14476f"/><polygon points="189.6,511.2 200.3,511.8 206.2,510.1 195.6,509.5" fill="#185383" stroke="#185383"/></g>
<g><polygon points="227.2,692.3 237.6,693.2 232.6,608.9 222.1,608.1" fill="#1F6BA8" stroke="#1F6BA8"/><polygon points="237.6,693.2 243.1,690.6 238.3,606.7 232.6,608.9" fill="#14476f" stroke="#14476f"/><polygon points="222.1,608.1 232.6,608.9 238.3,606.7 227.8,605.9" fill="#185383" stroke="#185383"/></g>
<g><polygon points="253.2,694.7 263.6,695.6 257.2,576.0 246.5,575.3" fill="#1F6BA8" stroke="#1F6BA8"/><polygon points="263.6,695.6 269.0,693.0 262.8,574.0 257.2,576.0" fill="#14476f" stroke="#14476f"/><polygon points="246.5,575.3 257.2,576.0 262.8,574.0 252.2,573.2" fill="#185383" stroke="#185383"/></g>
<g><polygon points="279.4,697.1 289.9,698.0 289.0,678.3 278.4,677.4" fill="#1F6BA8" stroke="#1F6BA8"/><polygon points="289.9,698.0 295.2,695.3 294.3,675.8 289.0,678.3" fill="#14476f" stroke="#14476f"/><polygon points="278.4,677.4 289.0,678.3 294.3,675.8 283.8,674.8" fill="#185383" stroke="#185383"/></g>
<g><polygon points="305.9,699.5 316.5,700.5 315.1,666.6 304.4,665.7" fill="#1F6BA8" stroke="#1F6BA8"/><polygon points="316.5,700.5 321.7,697.7 320.3,664.1 315.1,666.6" fill="#14476f" stroke="#14476f"/><polygon points="304.4,665.7 315.1,666.6 320.3,664.1 309.6,663.1" fill="#185383" stroke="#185383"/></g>
<g><polygon points="332.6,701.9 343.4,702.9 342.3,673.6 331.5,672.6" fill="#1F6BA8" stroke="#1F6BA8"/><polygon points="343.4,702.9 348.5,700.2 347.4,671.0 342.3,673.6" fill="#14476f" stroke="#14476f"/><polygon points="331.5,672.6 342.3,673.6 347.4,671.0 336.6,670.0" fill="#185383" stroke="#185383"/></g>
<g><polygon points="359.7,704.4 370.5,705.4 369.3,663.7 358.3,662.8" fill="#1F6BA8" stroke="#1F6BA8"/><polygon points="370.5,705.4 375.5,702.6 374.2,661.2 369.3,663.7" fill="#14476f" stroke="#14476f"/><polygon points="358.3,662.8 369.3,663.7 374.2,661.2 363.3,660.2" fill="#185383" stroke="#185383"/></g>
<g><polygon points="387.0,706.9 398.0,707.9 397.0,670.2 385.9,669.2" fill="#1F6BA8" stroke="#1F6BA8"/><polygon points="398.0,707.9 402.7,705.1 401.9,667.6 397.0,670.2" fill="#14476f" stroke="#14476f"/><polygon points="385.9,669.2 397.0,670.2 401.9,667.6 390.8,666.6" fill="#185383" stroke="#185383"/></g>
<g><polygon points="414.6,709.4 425.7,710.4 425.2,686.8 414.1,685.8" fill="#1F6BA8" stroke="#1F6BA8"/><polygon points="425.7,710.4 430.3,707.6 429.9,684.1 425.2,686.8" fill="#14476f" stroke="#14476f"/><polygon points="414.1,685.8 425.2,686.8 429.9,684.1 418.8,683.1" fill="#185383" stroke="#185383"/></g>
<g><polygon points="442.4,712.0 453.7,713.0 453.3,681.0 441.9,680.0" fill="#1F6BA8" stroke="#1F6BA8"/><polygon points="453.7,713.0 458.2,710.1 457.8,678.3 453.3,681.0" fill="#14476f" stroke="#14476f"/><polygon points="441.9,680.0 453.3,681.0 457.8,678.3 446.5,677.3" fill="#185383" stroke="#185383"/></g>
<g><polygon points="470.6,714.5 482.0,715.6 481.8,696.0 470.4,695.0" fill="#1F6BA8" stroke="#1F6BA8"/><polygon points="482.0,715.6 486.3,712.7 486.2,693.2 481.8,696.0" fill="#14476f" stroke="#14476f"/><polygon points="470.4,695.0 481.8,696.0 486.2,693.2 474.9,692.2" fill="#185383" stroke="#185383"/></g>
<g><polygon points="499.1,717.1 510.5,718.2 510.5,701.7 499.0,700.7" fill="#1F6BA8" stroke="#1F6BA8"/><polygon points="510.5,718.2 514.8,715.3 514.8,698.9 510.5,701.7" fill="#14476f" stroke="#14476f"/><polygon points="499.0,700.7 510.5,701.7 514.8,698.9 503.3,697.9" fill="#185383" stroke="#185383"/></g>
<g><polygon points="527.8,719.8 539.4,720.8 539.5,699.8 527.9,698.8" fill="#1F6BA8" stroke="#1F6BA8"/><polygon points="539.4,720.8 543.5,717.9 543.6,697.0 539.5,699.8" fill="#14476f" stroke="#14476f"/><polygon points="527.9,698.8 539.5,699.8 543.6,697.0 532.0,696.0" fill="#185383" stroke="#185383"/></g>
<g><polygon points="556.9,722.4 568.6,723.5 568.9,701.1 557.1,700.0" fill="#1F6BA8" stroke="#1F6BA8"/><polygon points="568.6,723.5 572.5,720.5 572.8,698.2 568.9,701.1" fill="#14476f" stroke="#14476f"/><polygon points="557.1,700.0 568.9,701.1 572.8,698.2 561.1,697.2" fill="#185383" stroke="#185383"/></g>
<g><polygon points="586.3,725.1 598.1,726.2 598.5,707.8 586.6,706.8" fill="#1F6BA8" stroke="#1F6BA8"/><polygon points="598.1,726.2 601.9,723.2 602.2,704.9 598.5,707.8" fill="#14476f" stroke="#14476f"/><polygon points="586.6,706.8 598.5,707.8 602.2,704.9 590.4,703.9" fill="#185383" stroke="#185383"/></g>
<g><polygon points="616.0,727.8 628.0,728.9 628.6,704.7 616.5,703.7" fill="#1F6BA8" stroke="#1F6BA8"/><polygon points="628.0,728.9 631.5,725.9 632.1,701.8 628.6,704.7" fill="#14476f" stroke="#14476f"/><polygon points="616.5,703.7 628.6,704.7 632.1,701.8 620.2,700.8" fill="#185383" stroke="#185383"/></g>
<g><polygon points="646.0,730.6 658.1,731.7 658.8,709.2 646.6,708.1" fill="#1F6BA8" stroke="#1F6BA8"/><polygon points="658.1,731.7 661.5,728.6 662.2,706.2 658.8,709.2" fill="#14476f" stroke="#14476f"/><polygon points="646.6,708.1 658.8,709.2 662.2,706.2 650.1,705.2" fill="#185383" stroke="#185383"/></g>
<g><polygon points="676.4,733.4 688.6,734.5 689.8,700.6 677.5,699.6" fill="#1F6BA8" stroke="#1F6BA8"/><polygon points="688.6,734.5 691.8,731.4 693.1,697.7 689.8,700.6" fill="#14476f" stroke="#14476f"/><polygon points="677.5,699.6 689.8,700.6 693.1,697.7 680.9,696.7" fill="#185383" stroke="#185383"/></g>
<g><polygon points="707.0,736.2 719.4,737.3 721.2,696.8 708.7,695.8" fill="#1F6BA8" stroke="#1F6BA8"/><polygon points="719.4,737.3 722.5,734.1 724.3,693.9 721.2,696.8" fill="#14476f" stroke="#14476f"/><polygon points="708.7,695.8 721.2,696.8 724.3,693.9 711.9,692.9" fill="#185383" stroke="#185383"/></g>
<g><polygon points="738.0,739.0 750.5,740.1 752.7,698.2 740.1,697.1" fill="#1F6BA8" stroke="#1F6BA8"/><polygon points="750.5,740.1 753.4,736.9 755.6,695.2 752.7,698.2" fill="#14476f" stroke="#14476f"/><polygon points="740.1,697.1 752.7,698.2 755.6,695.2 743.0,694.2" fill="#185383" stroke="#185383"/></g>
<g><polygon points="769.4,741.9 782.0,743.0 783.8,713.0 771.0,711.9" fill="#1F6BA8" stroke="#1F6BA8"/><polygon points="782.0,743.0 784.8,739.8 786.5,709.9 783.8,713.0" fill="#14476f" stroke="#14476f"/><polygon points="771.0,711.9 783.8,713.0 786.5,709.9 773.8,708.9" fill="#185383" stroke="#185383"/></g>
<g><polygon points="801.1,744.8 813.9,745.9 816.8,700.7 803.9,699.7" fill="#1F6BA8" stroke="#1F6BA8"/><polygon points="813.9,745.9 816.4,742.7 819.3,697.7 816.8,700.7" fill="#14476f" stroke="#14476f"/><polygon points="803.9,699.7 816.8,700.7 819.3,697.7 806.5,696.7" fill="#185383" stroke="#185383"/></g>
<rect x="981" y="452.6" width="7" height="5" fill="#1F6BA8"/>
<text transform="translate(991.6,458.4) scale(1.28,1)" text-anchor="start" class="lg">A</text>
<rect x="981" y="470.5" width="7" height="5" fill="#C0393B"/>
<text transform="translate(991.6,476.3) scale(1.28,1)" text-anchor="start" class="lg">B</text>
<rect x="981" y="488.3" width="7" height="5" fill="#77A043"/>
<text transform="translate(991.6,494.1) scale(1.28,1)" text-anchor="start" class="lg">C</text>
<rect x="981" y="506.2" width="7" height="5" fill="#6E4A96"/>
<text transform="translate(991.6,512.0) scale(1.28,1)" text-anchor="start" class="lg">D</text>
<rect x="981" y="524.0" width="7" height="5" fill="#1E9AAE"/>
<text transform="translate(991.6,529.8) scale(1.28,1)" text-anchor="start" class="lg">E</text>
<rect x="981" y="541.9" width="7" height="5" fill="#F08226"/>
<text transform="translate(991.6,547.7) scale(1.28,1)" text-anchor="start" class="lg">F</text>
<rect x="981" y="559.8" width="7" height="5" fill="#2A82CC"/>
<text transform="translate(991.6,565.6) scale(1.28,1)" text-anchor="start" class="lg">G</text>
<rect x="981" y="577.6" width="7" height="5" fill="#E2443F"/>
<text transform="translate(991.6,583.4) scale(1.28,1)" text-anchor="start" class="lg">H</text>
<rect x="981" y="595.5" width="7" height="5" fill="#8CC63E"/>
<text transform="translate(991.6,601.3) scale(1.28,1)" text-anchor="start" class="lg">I</text>
<rect x="981" y="613.3" width="7" height="5" fill="#8A5CB0"/>
<text transform="translate(991.6,619.1) scale(1.28,1)" text-anchor="start" class="lg">J</text>
<rect x="981" y="631.2" width="7" height="5" fill="#1CBCD8"/>
<text transform="translate(991.6,637.0) scale(1.28,1)" text-anchor="start" class="lg">K</text>
<rect x="981" y="649.1" width="7" height="5" fill="#F9A540"/>
<text transform="translate(991.6,654.9) scale(1.28,1)" text-anchor="start" class="lg">L</text>
<rect x="981" y="666.9" width="7" height="5" fill="#A8C2E4"/>
<text transform="translate(991.6,672.7) scale(1.28,1)" text-anchor="start" class="lg">M</text>
<rect x="981" y="684.8" width="7" height="5" fill="#F2B3B1"/>
<text transform="translate(991.6,690.6) scale(1.28,1)" text-anchor="start" class="lg">N</text>
<rect x="981" y="702.6" width="7" height="5" fill="#C6E0B2"/>
<text transform="translate(991.6,708.4) scale(1.28,1)" text-anchor="start" class="lg">O</text>
<rect x="981" y="720.5" width="7" height="5" fill="#C5B6D8"/>
<text transform="translate(991.6,726.3) scale(1.28,1)" text-anchor="start" class="lg">P</text>
<rect x="44.9" y="9.5" width="972.6" height="770.2" fill="none" stroke="#999" stroke-width="1.6"/>
<line x1="44.9" y1="395.7" x2="1017.5" y2="395.7" stroke="#999" stroke-width="1.6"/>
<text transform="translate(61,52.3) scale(0.9,1)" class="pl" style="font-size:34px">a</text>
<text transform="translate(58.2,440) scale(0.92,1)" class="pl">b</text>
<text transform="translate(31.6,488.6) rotate(-90)" class="yt" textLength="182.7" lengthAdjust="spacingAndGlyphs">&#916;OD at 340 nm</text>
</svg>
</body></html>
